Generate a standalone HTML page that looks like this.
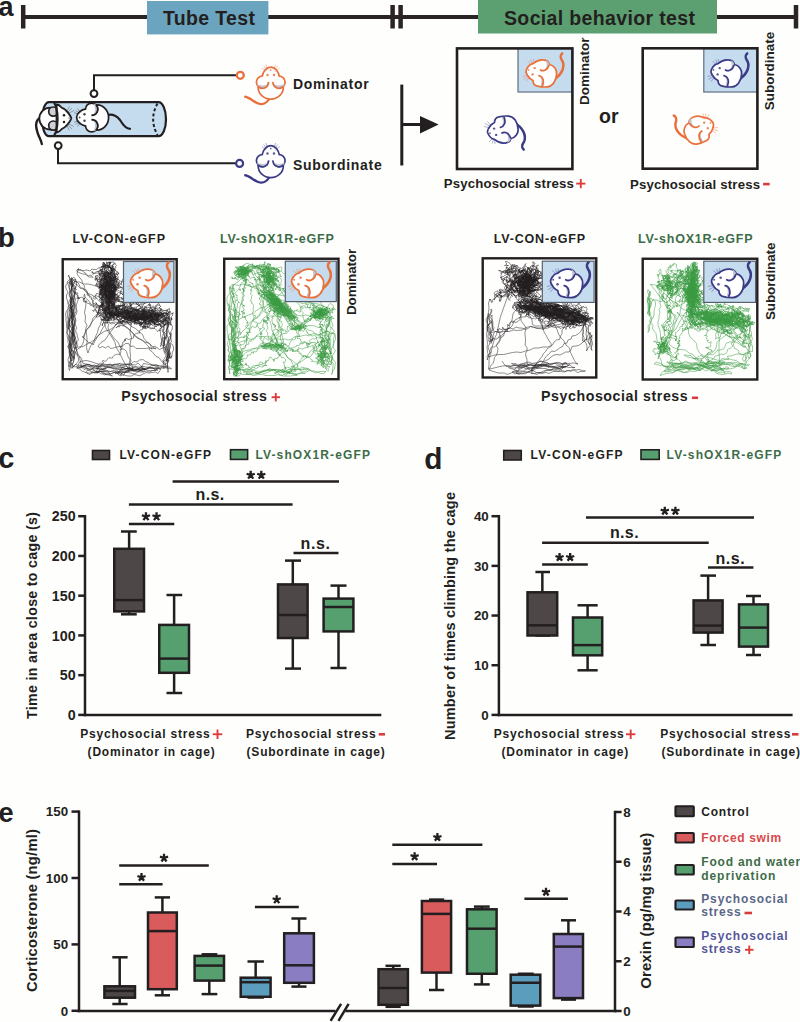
<!DOCTYPE html>
<html><head><meta charset="utf-8"><style>
html,body{margin:0;padding:0;background:#fefefd;}
svg{display:block;}
text{font-family:"Liberation Sans",sans-serif;}
</style></head><body>
<svg width="800" height="1022" viewBox="0 0 800 1022">
<rect x="0" y="0" width="800" height="1022" fill="#fefefd"/>

<defs>
<g id="mtop">
  <ellipse cx="0" cy="0" rx="12.6" ry="11.6" fill="#fff" stroke="currentColor" stroke-width="1.7"/>
  <circle cx="-8.25" cy="-5.4" r="6.1" fill="#fff" stroke="currentColor" stroke-width="1.7"/>
  <circle cx="8.25" cy="-5.4" r="6.1" fill="#fff" stroke="currentColor" stroke-width="1.7"/>
  <path d="M-2.6,-3.2 A6,6 0 0 1 -14,-3.4 Q-8.3,-0.8 -2.6,-3.2Z" fill="#c3c6d2"/>
  <path d="M2.6,-3.2 A6,6 0 0 0 14,-3.4 Q8.3,-0.8 2.6,-3.2Z" fill="#c3c6d2"/>
  <path d="M-8.4,-10.8 C-8,-15.5 -4.5,-20.4 0,-20.4 C4.5,-20.4 8,-15.5 8.4,-10.8 L3,-5 L2.5,3 L-2.5,3 L-3,-5Z" fill="#fff"/>
  <path d="M-8.6,-10.9 C-7.8,-15.8 -4.5,-20.4 0,-20.4 C4.5,-20.4 7.8,-15.8 8.6,-10.9" fill="none" stroke="currentColor" stroke-width="1.7"/>
  <path d="M-2.15,-5.6 A6.1,6.1 0 0 1 -12.6,-1.1 M2.15,-5.6 A6.1,6.1 0 0 0 12.6,-1.1" fill="none" stroke="currentColor" stroke-width="1.7"/>
  <circle cx="-3.25" cy="-12.5" r="1.2" fill="currentColor" opacity="0.85"/>
  <circle cx="3.25" cy="-12.5" r="1.2" fill="currentColor" opacity="0.85"/>
  <circle cx="0" cy="-17.4" r="0.9" fill="currentColor" opacity="0.8"/>
  <path d="M-4,-17 L-7,-21.5 M-4.6,-16 L-9,-19.5 M-3.4,-18 L-4.8,-23 M4,-17 L7,-21.5 M4.6,-16 L9,-19.5 M3.4,-18 L4.8,-23" stroke="currentColor" stroke-width="0.55" opacity="0.7"/>
</g>
<g id="mcurl">
  <path d="M10.5,3.5 C18,-2 20.5,-10 16.5,-15.5 C15,-18 15.8,-20.5 17.2,-21.6" fill="none" stroke="currentColor" stroke-width="2.5" stroke-linecap="round"/>
  <path d="M-18.75,-5 C-17,-9 -15,-11 -12,-11.4 C-9,-14 -5,-15.5 -1.5,-15.1 C2,-14.8 4,-12.5 4.5,-10.5 C9,-10 12,-5 11.6,-1.25 C11.5,6 7,11.5 2.25,11.9 C-1,12.2 -4,12 -7.5,11.1 C-10.5,10.5 -12,8 -12,5.5 C-14,4.5 -16,3 -17,1 C-18.5,-1 -19.5,-3 -18.75,-5Z" fill="#fff" stroke="currentColor" stroke-width="1.7" stroke-linejoin="round"/>
  <path d="M0.5,-14.8 C3.5,-13.8 5,-11 3.9,-9.6 C3,-7.2 1.2,-5.4 -1,-4.6 C1.8,-7 2.6,-11 0.5,-14.8Z" fill="#c2c5d0"/>
  <path d="M-2.6,10.8 C-0.6,7 -1.2,2.5 -5.5,1 C-3,3.8 -3,7.5 -5,11.3Z" fill="#c2c5d0"/>
  <path d="M-4.5,-5 C-2.5,-3.6 2.2,-4.2 3.9,-9.6 M-6,0.6 C-2,1.5 -0.4,6 -2.4,10.6" fill="none" stroke="currentColor" stroke-width="1.7" stroke-linecap="round"/>
  <circle cx="-10.35" cy="-6.9" r="1.2" fill="currentColor" opacity="0.85"/>
  <circle cx="-12.4" cy="-0.6" r="1.2" fill="currentColor" opacity="0.85"/>
  <circle cx="-16.5" cy="-5.1" r="0.95" fill="currentColor" opacity="0.8"/>
  <path d="M-14.5,-11 L-17.5,-14 M-13.2,-11.8 L-14.2,-15.5 M-12,-12.3 L-11.5,-16 M-18,0.5 L-22.5,1.5 M-17.2,2 L-21.5,4.5 M-16.2,3 L-19,6.5" stroke="currentColor" stroke-width="0.55" opacity="0.7"/>
</g>
</defs>

<text x="-1.50" y="16.00" font-size="27" fill="#231f20" text-anchor="start" font-weight="bold" >a</text>
<line x1="23.00" y1="17.00" x2="796.00" y2="17.00" stroke="#2b2425" stroke-width="4" />
<line x1="23.20" y1="5.00" x2="23.20" y2="28.50" stroke="#2b2425" stroke-width="4.5" />
<line x1="392.60" y1="5.00" x2="392.60" y2="28.50" stroke="#2b2425" stroke-width="4.5" />
<line x1="400.60" y1="5.00" x2="400.60" y2="28.50" stroke="#2b2425" stroke-width="4.5" />
<line x1="796.00" y1="5.00" x2="796.00" y2="28.50" stroke="#2b2425" stroke-width="4.5" />
<rect x="147.00" y="1.00" width="121.40" height="33.40" fill="#6ba4be" stroke="none" stroke-width="0" />
<text x="163.00" y="25.20" font-size="19.5" fill="#231f20" text-anchor="start" font-weight="bold" textLength="92.00" lengthAdjust="spacing" >Tube Test</text>
<rect x="478.00" y="0.00" width="239.00" height="33.50" fill="#5c9f70" stroke="none" stroke-width="0" />
<text x="504.00" y="25.20" font-size="19.5" fill="#231f20" text-anchor="start" font-weight="bold" textLength="191.00" lengthAdjust="spacing" >Social behavior test</text>
<path d="M94,90 V75.2 H236.5" fill="none" stroke="#231f20" stroke-width="2"/>
<circle cx="94" cy="93.6" r="3.4" fill="#fff" stroke="#231f20" stroke-width="2"/>
<circle cx="240.3" cy="75.3" r="3.5" fill="#fff" stroke="#e9703a" stroke-width="2.2"/>
<path d="M58,149.2 V163.3 H235.8" fill="none" stroke="#231f20" stroke-width="2"/>
<circle cx="58.2" cy="145.6" r="3.4" fill="#fff" stroke="#231f20" stroke-width="2"/>
<circle cx="239.6" cy="163.4" r="3.5" fill="#fff" stroke="#3b3a86" stroke-width="2.2"/>
<path d="M49,102.2 H158.5 A7.5,17 0 0 1 158.5,136.2 H49 A7,17 0 0 1 49,102.2Z" fill="#c5dcef" stroke="#231f20" stroke-width="2.2"/>
<path d="M157.5,103.5 Q148.8,119.2 157.5,135" fill="none" stroke="#231f20" stroke-width="2" stroke-dasharray="3,2.3"/>
<path d="M41,117 C34,121 36,128 38,134 C39.5,138 41.5,141 41.8,144" fill="none" stroke="#231f20" stroke-width="2.4" stroke-linecap="round"/>
<path d="M107,115 C112,114 117,116 120,120 C123,125 126,128.8 130,128.8" fill="none" stroke="#231f20" stroke-width="2.2" stroke-linecap="round"/>
<circle cx="50.3" cy="118.6" r="11" fill="#fff" stroke="#231f20" stroke-width="1.8"/>
<circle cx="53.3" cy="111.6" r="4.6" fill="#cfd1d6" stroke="#231f20" stroke-width="1.7"/>
<circle cx="53.3" cy="125.6" r="4.6" fill="#cfd1d6" stroke="#231f20" stroke-width="1.7"/>
<path d="M56.5,104.5 C58,104.5 60,105.5 61.5,107.5 C63,108.5 64.5,108.8 65.5,110 C68,112.5 70.5,115.5 71.3,118.2 C70.5,121 68,124 65.5,126.5 C64.5,127.8 63,128.2 61.5,129.2 C60,131.2 58,132.2 56.5,132.5 Z" fill="#fff" stroke="#231f20" stroke-width="1.8" stroke-linejoin="round"/>
<path d="M68.5,117 L71,118.2 L68.5,119.6Z" fill="#9a9ea6"/>
<circle cx="64" cy="115.2" r="1.25" fill="#231f20"/><circle cx="64" cy="121.9" r="1.25" fill="#231f20"/>
<path d="M68,112 L72,108 M69,113 L74,110.5 M67,111 L69.5,106.5 M68,125 L72,129 M69,124 L74,126.5 M67,126 L69.5,130.5" stroke="#231f20" stroke-width="0.55" opacity="0.6"/>
<path d="M53.5,103.2 A4,15.9 0 0 1 53.5,135" fill="none" stroke="#231f20" stroke-width="2.3"/>
<use href="#mtop" transform="translate(97.00,117.50) rotate(-90) scale(1.000,1.000)" style="color:#231f20"/>
<path d="M270,98 C267,103 262,105.5 257,103 C253,101 249,97.5 245.3,96.8" fill="none" stroke="#e9703a" stroke-width="2.4" stroke-linecap="round"/>
<use href="#mtop" transform="translate(270.75,87.50) rotate(0) scale(1.000,1.000)" style="color:#e9703a"/>
<path d="M270,176.5 C267,181.5 262,184 257,181.5 C253,179.5 249,176 245.3,175.3" fill="none" stroke="#3b3a86" stroke-width="2.4" stroke-linecap="round"/>
<use href="#mtop" transform="translate(270.75,166.00) rotate(0) scale(1.000,1.000)" style="color:#3b3a86"/>
<text x="293.00" y="89.30" font-size="14" fill="#231f20" text-anchor="start" font-weight="bold" textLength="75.60" lengthAdjust="spacing" >Dominator</text>
<text x="293.00" y="169.90" font-size="14" fill="#231f20" text-anchor="start" font-weight="bold" textLength="88.70" lengthAdjust="spacing" >Subordinate</text>
<line x1="401.80" y1="84.60" x2="401.80" y2="165.50" stroke="#231f20" stroke-width="3" />
<line x1="401.80" y1="124.50" x2="422.00" y2="124.50" stroke="#231f20" stroke-width="3" />
<path d="M420,116 L438.6,124.5 L420,133.5Z" fill="#231f20"/>
<rect x="518.00" y="48.40" width="54.40" height="43.60" fill="#c5dcef" stroke="#5f6f80" stroke-width="1.2" />
<use href="#mcurl" transform="translate(545.00,75.00) rotate(0) scale(1.000,1.000)" style="color:#e9703a"/>
<rect x="457.00" y="48.40" width="115.40" height="120.60" fill="none" stroke="#231f20" stroke-width="2.6" />
<text transform="translate(588.50,105.00) rotate(-90)" x="0" y="0" font-size="13.5" fill="#231f20" font-weight="bold" textLength="67.50" lengthAdjust="spacing">Dominator</text>
<use href="#mcurl" transform="translate(506.50,128.00) rotate(0) scale(1.000,-1.000)" style="color:#3b3a86"/>
<text x="443.80" y="188.40" font-size="13.2" fill="#231f20" text-anchor="start" font-weight="bold" textLength="130.00" lengthAdjust="spacing" >Psychosocial stress</text>
<line x1="576.20" y1="183.60" x2="585.40" y2="183.60" stroke="#de3c3c" stroke-width="1.9" />
<line x1="580.80" y1="179.00" x2="580.80" y2="188.20" stroke="#de3c3c" stroke-width="1.9" />
<text x="599.00" y="123.00" font-size="19.5" fill="#231f20" text-anchor="start" font-weight="bold" >or</text>
<rect x="703.80" y="48.30" width="53.60" height="43.70" fill="#c5dcef" stroke="#5f6f80" stroke-width="1.2" />
<use href="#mcurl" transform="translate(730.00,75.00) rotate(0) scale(1.000,1.000)" style="color:#3b3a86"/>
<rect x="642.70" y="48.30" width="114.70" height="120.40" fill="none" stroke="#231f20" stroke-width="2.6" />
<text transform="translate(773.50,110.20) rotate(-90)" x="0" y="0" font-size="13.5" fill="#231f20" font-weight="bold" textLength="78.40" lengthAdjust="spacing">Subordinate</text>
<use href="#mcurl" transform="translate(696.00,132.00) rotate(-15) scale(-1.000,1.000)" style="color:#e9703a"/>
<text x="630.00" y="188.50" font-size="13.2" fill="#231f20" text-anchor="start" font-weight="bold" textLength="130.00" lengthAdjust="spacing" >Psychosocial stress</text>
<line x1="763.10" y1="184.10" x2="769.70" y2="184.10" stroke="#d93c3c" stroke-width="2.6" />
<text x="-2.00" y="247.00" font-size="27.4" fill="#231f20" text-anchor="start" font-weight="bold" >b</text>
<text x="72.50" y="243.30" font-size="12.5" fill="#231f20" text-anchor="start" font-weight="bold" textLength="92.50" lengthAdjust="spacing" >LV-CON-eGFP</text>
<text x="220.00" y="243.30" font-size="12.5" fill="#3d6c48" text-anchor="start" font-weight="bold" textLength="113.75" lengthAdjust="spacing" >LV-shOX1R-eGFP</text>
<text x="493.75" y="243.30" font-size="12.5" fill="#231f20" text-anchor="start" font-weight="bold" textLength="91.25" lengthAdjust="spacing" >LV-CON-eGFP</text>
<text x="638.00" y="243.30" font-size="12.5" fill="#3d6c48" text-anchor="start" font-weight="bold" textLength="114.50" lengthAdjust="spacing" >LV-shOX1R-eGFP</text>
<path transform="scale(0.5)" d="M266 737l-6 -1-6 2-7 1-6 0-7 0-6-2-6-1-6-1-7 2-6 1-5 4-6 1-6-3-6-2-6-1-6 2-5-5-6 0-4 0 6 4 5 4 2 1 6 2 6 1 7 0 6-2 6-1 6 0 7 0 6-1 7 1 6 1 5-3 5 4 6 3 6 3 5 1 7 0 5-3 6 1 6 2 0-1 6-3 6-3 6 1 6-1 7-1 5 3 4-6 2-6 6-3 5 4 6 1 4 1-4-4-6-1-6 1-6-1-6 3-6 0-7 0-6 1-6 1-6 3-6-1-7-2-6 0-6 1-6 2-5 4-7-1-6 2-5 1 5-3 6-3 6-3 6-1 6-1 7 1 0 1-1-6-4-6 1-6-5-4-2-6-2-7-4-4-6-2-4-5-2-6-4-5-5-4-3-5-4-6-3-5-2-6 1-6-3-6-4-5-5-4-2-6-2-6-2-6-7-1-4-4-2-7-2-5-5-5-2-6-4-5-5-4 1-7-4-5-1-6-4-5-4-5-2-5 2-6 1-3-4 4 1 2 6 3 6 2 6 1 5 5 6 0 3 1-4-5-6 2-4-5-5-3-5-5-6 0-1 1 6 1 6 0 7-1 6 2 4-4 2 1 7 0 5-4 6-1 6-3 6 0 7 1 3 0 1 6 5 4 5 4-1 3-6-2-2-5-2-6-6-1-6-3-2-2-6 3-2 6-6 3-6 2-5 3-1 2-1-6-2 1 6 3 6-1 6 1 7 0 6 2 5-5 5-3 6 1 2-2-6-2-6-2-4-5-6-2-3-3-1 6-4 2 3-1 2-1 3 2 2 1 3-2 2 2 0-3 2 3 2 1 1 3 1 2 2-2 6 1-2 2-2 2 1 3 0 3 3 0-1 3-1 3-2 2-2-2 2-2 1 3 0-3-1 3-3 0-3-2 0 3 1 3 3 0-3-1 1 3-2 1-3 1-2-2-3 0-1 2 2 3 2 2-2 2 2 3 3 1 0-3-2-2-3 0-3 1 3-1-2 2-3 2 1 3-1 2 3 2-1-3-2 2 1 2-1 3 0 3-1 5-1-3 3-1 0-3 1 3 1-2 3 2-1-3 0-3-3 0 0-3 3-4 0 3 2-3-3-1 2-3-3-1 3 1-2-2 1-3 3-1-1-3-1-3 2-2 3-1 3 0-1-3 2 2 3 1 2 3 2 2 2 2 2 3-2 2-3 1 1 3-3 1 2 3-1 3-2 1 0 3 2 3 0 3-2 1 2 2-1 3 1 3-1 3-1 3-2 2 2 2-2 0 2 1 3 1-1 3 3 1 1 3-3-1 3-1-3 2 3 1-2 3-1 2 0 3 2 2 3 2 1-3 0-3 2-2-1-3-1-3-3-1-3 0-1-3-2 1-3 0-3-1-3 0-2-3-2 2 3 0 0-3 2-2-3-1-3 2-1-2-3-2 0-3 1-3 2-1-1-2-1-3 3-1-3-2-1-3 2-2-3 1-3-1 2-2 3 1 0-3 1-3 1-3-1-3 2-2 1-2-1 2 2-2-3 1-1-2 1-3 3-1 0-3-2-2-3-1-2-3 2-3-3-1-1-3-3 0-3 1-1 3 3-1-3 0 0-3 1-3 1-3-2-1 3 0-2-3 2-2 3-2 1-3 2-2-1-4 2 3 1 3 0 3 2 2-3 2-1 3 2 1-1 3-1 3-2 2 1 3 1 3-1 2-3 2 3 2-2 2-3 2 2 1-3 1-2 2 1 2 0 3-2 2 2-2-3-1 3 0 2 2 2 2 3 2 2 2 0 3 2 2-3 0-2 2-3 1-3-1-1 3 0 3 3 0 2 2 2 2 0 3 1 3-1 3 1 3 3 0-3 0-2 2-3 1 3 1 0 3 3 1 5 0 2-2 3-1 1-3 1-2-2-1 0-3 1-3 2-2-2-2 3-1 1-3 2-2 0-3 3-1-3 1 1-3 0-3 0-3 0-3 2-1-1-6 2 3-3 1-2 2 0 3 2 1-2 2 2 1 0 3-3 0-1 3-3-1-1 3-1-2 0 3 2 1-1 3 1 3-3 0-1 3-3-2 0 3-3 3 1-3 3 1-1-3 1-3 0-3 2-2-2-2-1-2-1-3 1-3 1-3 0-3 3 0-2-1-1-3 0-3 1 2 3-1 2 2 1-2 2 2 3-2 1-3 3-1-3 2 3 1 2 2 0-3 3 0 3-1 0-3 2-2 2-2-3-1-1-2-3-1-3-3 0-3-3 1-2 1-3 0 2-1 0-3-2-2-1-4 3 1-1 3 1 3-3 0-2 2 2 3 2 1 3 2-1 3 1 3-1 3-2 1-3 0 0 3 1 3 0 2 1 3 2 2-3 0-2 2-2 2-3 5 3-1 0-3-2 2 2-2 0-6 1 3 2 2-2 2 2 2 1 3-3 1 3 0 3-2-2 2-3 2 3-1 3 0-2 2 2 3-2 2-2 1-3 1 3 0 3 5-2 3 1-3 2-2-3 0-2-1-3-2 3-2-3 1 1-3 0-3-3 0-1-3-1-3-3-1 3 2-3 0-3-2-3 0 2-2-2-3 1 3 2-2 3 1-2-1 1 3-1-3 3-1-1-5-2-2-3-1 2 2-3-1-2-2 0-3 3 0-2-2-2-3-1-2-1-3-1-3-2-2-3 0 1-3-3 1-1-3 3-1 2-2 3-1-1-3-3-3 3 0 3-1 0-3 3 0 3-2 2-2 3-1 3 0-1-3 0-3 2-3 6-1-1 3-2 2-1 3-1 3 0 3 0 3-2 2 2 2 0 3 2 2-3 1 0 3 1 2-2 2-3 2 2 3-3-1-3 1-1 3-1 4 3 0 4 1 0-3 0-3 0-3 1-3-3-1 2-3 3-1 0-2 2-3 0-3 3 2-3-1 0-3 2-3-3-1-3-1 0-3 3 0-2-3 1-3 3 0 0-6 2 3-3-1-3-1-3-1 3 2-3 1-1 3-1 3 2 2-1 2-3 2 3 1 2 2 3 1-2 3 3-1-3 1 3 0-3-1-3 0 2 3-3 0 1 3-2 1 2 2 3-1-3-1 2 2 3 0-2-1-3 0 1 3-2 2-3 0-3 1-3-1 2 3 0 3 3-3-3-1-2 2-2 1 2-1-1 2 3 1 1 3-2 2 1 3 5 1 0 5 3 1-3 1-3 1 3 2 2 1-3 1-1 3 0 3-2 2-1 3 2 3-1 2-2 3 3 0 3 1-3 2 3 0-3 0-1 3 3-1 2 3-2 2 3 5 3 1 1-3-2-1 3-1 1-3-2 3 1-3 3-1-1-3-3-2 3-1 3 0-1-3 1-3 0-3-2-5 3 1 3-2 0 3 2 2 3-2-2 3 1 2 3 1 0 3-3 2 1 5 2-2-3 0 1-3-1-3-3 1-3 1 0-3-1 3 0-3-3 0 2-3 1-3-1-2 1-3-1-3 2-2-3 0 1-3-2-2 1-2 3-1 2-2 2-2 3-1 0-3 2-3 2-2 0-3-1-2-3-2 1 2 1-2-2 1 1-3-3 0 3 0 1-3-2-3 0-3 0-2-2-2-3 0 3-2-3-1-1-3-3 1-2-3 2 2 1-3 0 3-3-2 0-3 2-3 0-4 0 3 0 3-1 3 2 2 0 3 3 2 3 3-2 2-3 1-2-2 2 2-3 2-3-1 1-3-2-2-1 2-3 0 1 2-3-1-1 3-1 3 1 3 1-3 1-3-1 3 2 2-2 2 2 1 1 3 2 2 3 1 1 3-1-2-3 1-2 2-3 0-2 3 3 2-3 0-3 0-3 2 2 2 3-1-3 2 3 1 1 3 2-2 3 0 3 0-1 3-2 3 2 4-3 0-3 1 2 2-1-3-1 3-1 3-1 3-2-3-1-2-1-3-3 0-3-2-3 0-1 3-3 2-2 3 1 3 3 0 2-2-2-2 0-3 3 1 2 1 3 1 1 3-2-3 0-3 2-2 2-3-1 3-3-1 3 1 2-3-2-2 3 0 3 1 2 1 2-2 0-3 3-1-2 3 3 0 2-3 6-1 2-2-2-2 3 1 3 2-3-1 1-3 2 2 1-3 2 3 3-1-1-3 3 1 2-1-2 1-2-2 3 1-3-2 3 1-1-3 2-3-3-1-3 0-1-3 2-2 3-1-2-1-2-5-2 2-3-1-3 0 3 1 1 3 1 3-3-1-2 2-1 3 3 2-2 2 2 3-1 3 1 3 1 2 1 3-3 1 0 3-3 1-3 0-3 1 0 2 2-2-2 3-3-1 2 2 1 3 3 1-3-1 0 3 1 3 3 1 3 1 2 3-2 2-4 0-3 0 1 3 2 2-3-1-2 2 1 3 3-2-3 2 3 0-2-2 0 3 2 1-2 1-3 0-3 1-2 2 2 3-3 0 3 1 1 2 2 3-3 0 3 1 1 3-1-3 2 2 0 3 2 2 0 3 2 3 8-2 9 1 9-2 9-1 9-3 8-4 2-5-9-3-8-1-9-3-1-1 8-4 9-2 9-2 8-4 8-3 9-3 5-7 6-7 7-5 8-5 8-4 7-5 1 0-8 4-7 6-7 5-8 5-7 6-8 2-6 7-5 8-7 4-7 7-6 6-7 6-8 3-9 4-7 5-6 6-8 5-9 2-8 5-7 5-5 7-8 5-8 4-8 5-9 1-9 1 2 3 0-8-1-9-2-9-1-9 1-9-2-9 1-9-2-9 3 0 1-9 1-9-3-8-2-9-1-9 0-9-2-9 2-8 0-2-1 6 3 6 1 6 2 6 1 7-1 6 3 6-1 6 1 6 1 6 0 7-3 6 1 6 2 6-2 6-1 6-1 6 2 7-3 5-4 5 5 4-1 6-4 5-1 6-4-5 3-6 4-4 0-7 0-6-4-5 2-6 3-5 3-2 1-6 1-6-2-6 4-5 1-6-2-7 1-6 2-6 2-6-1-6-6-4-3-6 4-5-5-5 2-6 3-6-4 0-3 6 0 6 0 7-4 5-1 6 3 6 2 6-1 6-1 6 3 6 3 6 0 6-2 7-2 6 2 6 1 6-2 6-1 6-3 6 2 6 3 6 0 6 3 6-1 6 1 7 0 6-2 6-2 6 0 7-1 1 4-5 5-5 4-5 0-6-3-6 1-6-3-6-1-6 3-5-2-7-2-5-3-6-3-6 1-6 1-7 0-6 0-6-3-6 1-6-2-6-4-6-2-6-1-6-2-6 0-6 3-6-3-5-2-6 2-5 5-4 4-2-4 4 2 2 3-2-3 2 3 1 3 2 1-3-3 2 1 3 3-2 3 1-1 3-1 3 2-3-1 3 3 1-2 2 0 3 1 3-2-3 3 2 3 0-2 3 2 2-2 1 1 2-1 3 2-2 0 3 0-3 3 0-1 3 2-2 2-2 3 1 2 3 2-1-2 2 2-3-1 3-2 3 2 2 3-1 1-2-1 3 3-1-1 2 3 2 3 0 1 3 2 1 3-2 2 3 1 2-1-2 3-2 2-2 2-2-2 2-1 3 2 1 3 1 3 2 0 3 3 1 3-1 2 0 2 2 2 2-3-1 2 2 0-3 1 3 3-1 1-3 1-3 3 1 0 3 3 0 3 0 2 2 5-3 3 1-2 2 2-2-3-2 0-3-1 3 2-2 0-3-1-3-1 3-3-2-2 3-2-2-4-1-2-2-2-3 2-3 1-3 1-2-2-2 3 0 0-3-3-1-2-2 2-2 0-4-2-2-2-2-2-2-2 2-1-3-2 2 2 2 0-3 2-2-2-3 2-2-3-1 0-3 0-3-2-2-2-3-1-3 2-2-2-2 2 2 2-3 3-3 2 3-1 2 1 3-4 3 3-1 3 0-1 3 3 0 0 3 2 2 2-2 2-2-3 1 2 2-3 0-3 2 2 3 3 1 2-1-2 2 2 3 1 3-2 2 2 2 3 1 0 3-2 3 1-3-2 2 1 3 1 3-3 0-2 3 3 2-3-2 2 2-2 2 1 3-3 1-2 2-3 1 3 1-2 3-3-1 2 2-1 3 2 0 2 3-2 3-3 1-2 1 3 2-1 5 3 1-3-1-1-3 1-3 2-2-1-2-2-3 0-3-2-2 2-2 2-2 2-3-3-1 0-3 1-3 1-3 1-2-3-1 3-1 0-3 3 0 3 0 3-1 0-3 3-1 0-3-3-1-1-2 1-3 3 0 1-3-2-2 1-3 2-2 0-3 3 1-2 2-3 0 3 1 1-3 3-1-3-2-2-2-2-2 3-1-1-3 2-2-1-3-4-1 3 1-3 0-1 3-2 1-3 2 2 2 1 3-3 0 3 1 3 0-2 3 2-2 3 0-2 1 3 1-3-2-1 3-1 3-4 4 1 3 3 1 2 2 1-3 2 3 2 2-1 3-2 2 2 3 2 2-2 2-3 1-2 2-1 3-4-3 3 0 2-2 3-2-3-5-3 0-4-2-3 1-2 2 3-1-2 3 0 3-3 1-1 2 3 2 1 2 2-2-1 2 2-1 1 3-3 0 3 1-3 1-1 3-3 0 3 0 0 3 3 0-3 0 0 3 3 0 3-1-3 0-1 3 2 2-3 2 2 2 3 1-2-2 1 2-3 1-2 2 1 2 3 0 3-1-2 2 3 2-1 3-2 5 3-2-2-2-3-2 1-3 1-2 0-3-2-3 2-1-1-3 2-2-2-2-2-3-3 0 1-3 1 3 3-2-1-3-2 2 2-2 1-3 3 0-3-1 0-3 1-3 1-3 0-3-2-3 1-3 1-3-3-1-4-1-2-1-5 0 2-1 3-1 0-3 3-1 3-2 0-3-2 2 3-1 2-2 2 1 2-2 0-3-2-3 3 0-3-1 0-3-3-3 3 1 0 2-3 3 3 0-2 2-3 0 0 3 3 1-1 3-3 1-2 2 3 1 1 3-1-2 2 1-1-3 3 1 3 0-3 1 2 2 3-2-3 1 2 2-1 3-2 2 0 3 2 3 1 2 1 3 0 3-2 2 2 2-2 1 0 3 0 3-2 3 0 3 1 2 3-2-1 3 3 2-3 2-1 3 3 1-2 2 0 3-1 2-1 3 0 3 3 0 1 3 1 3-1 4 3-1-1-3-2-3-2-1-3-2-3-1 0-3-2-2 1-3-1-4-2-1 3-2-2-2-2-2-1-3 0-3-1-3-1-3-2-1 2-2 2-2-2-2 0-3 1-3 3 0-3-1 3-1 2-2-3-1 0-3 0-3-1-3 2-1 0-3-3 0 1 3 2-3-2 3-2-3-2-2 2-3 0-3-2-4 0 3 0 3-1 3-2 2-2 3 3 1-4 5 0 3 1 3-3 1 2 3-1 3 1-3 2-2 2 3 2-3 1 3 2 2 1 3 1 3 1 3-3 0 2 2 0 3 1-3 3-1 1-2 2-2-1 3 1 2-1 3 2 2-3 2 0 5 2-1 3-3-2 3-2-1 0-3-1-3 3 0 1-3 2-2 1-3-2-2-2-2-1-3 2-1 1-3 3 0 0 3 2-2-1-3-1-3 1-2 1-3 3 0-3-1-1-2 0-3-2-3 0-3-3 1-3 1 0-3-1-3 2-2-1-3 1-3 0-3 1-3-2-2 0-3 3 1-2-2 3-1 3 0-2-2 2-3-3 0 0-3 3 0 3-4 1 3 2 2-2 2 1 3-3 0 0 3-3-2-1-2-2 3 1 3 1 2 2 3 1 2 1 3-3-1-2 2 2 1-2 1 0 3-1 3 1 2-3 1-1 3-3 1 3 2-3-1 2 2 3 0-3 2 0 3-3 1 2 2 2-1 1 3 3 2-3 1-3 1-2 2 2 2-2 2-3 1 2 2 0 3 2 2 1 3 2 2-1 3 1 5-2-1 2-3-2-3-3 0-2-2 3 1-1-3 0-3 2-2 0-3 0-3 0-3 3-1 1-3 2-4-3 3 1 2-1 4 1 3 2 2 0 3-1 3-2 3 3 2 3-2 1 3 0 6-2-2-3-1 0-3-3 1-3 0 1-3-2-2 3 0 2-3 2-1 3-1-3-2-2 2-3 2 2-3-1-2-2 1 2-1-1-3 2-2-3 0-1-3-3-1-2-2-3-1 3 1 3-1 2-2 1-3 3 0 3 1 1-3 1-2-2 2 2-2 1-3-1-2-2-2-3 0-3 1 2-3-3 0-1-3-3 2-1-2 0-3-3-2 3 2 0-3-1-3-3-2 2-2-3 0-3-1 3-2-3 0 2-2 3-1 3 0-1-3 1-2-3 0 1-3 1-5-2-3-2 3 0 3 2 2 0 3-2 2-1 3 1 3-1 2-2 2 2 1 1 3-1 3-1 3 3 0 3 1 1 3 0 3-2 1 0 3-2 3-2 1 3 1 0 3-3 2 2 2 1 3-2 2-3 1-2-2-2 2 3-1 2 2 0 3 1 3 0 3-1 3 3 0 3 2 3-2-3 0-3-1-1-3 3 0 2-2 4-4-2 2-1 6-3 6-4 5-3 5-4 5 1 6-4 5-5 4-4 5-1 6-3 5-4 6-4 5-2 6-3 6 0 6-1 6-3 6-3 5-6 3-4 5-1 7-3 5-5 3-1 0-1-7-1-6 0-6-4-6 5-4 1-5 0-7 3-6 2-5 0 6 2 7-2 6-4 5-4 5 2 7 1 6 2 6-1 6-4 5 6 3-5 5 4 2 2-7 2-5 1-7-4-5-3-5 1-6-1-7 1-6 1-6-1-7 0-6 4-5-3-6 3-5-1-7-4-3 2-6 2-6 1-6-1-6-4-6 3-5-3-6 3-5 2 7 0 6-2 6 0 7 0 6-1 6 0 7 0 6-2 6-3 6 1 6-1 7-2 6 4 5 2 6-1 7 2 5-3 6-2 6-2 6 1 7 1 6-1 1 2-6 2-7-1-6 3-6 0-6 0-7-2-5-2-7 3-5 3-6-1-7 0-6 2-6-2-6 1-7 1-6 0-6-2-7-2-6 4-3-3 6-2 6-3 6-1 6 0 6 1 7-2 6 1 3-2-6 0-6 1-7-1-6 0-7 1-6 0-6 4-5 2-6 3-6 0-6-1-7-2-6 2-6 0-6 2-6-2-4 0 3 3 3 4 1-4 2 3 3 3 1 3 2 2 3 3 3 4-1 3 2 4 1 2 3 1 4-1 4 4 1 3 2 3 2-1 4 4 2-2 4 1 3 3-1 3-2 1 3 3 3 3 1-1 3 0-4 4 1 2-3 3 3 2 3 4-1 3 1 2-4 4 1 2-3 2 3 3 2 3 3 3 1 4 1-3 3 3-3 0 4 3 0 1 3-3 3 4 0 4 1 1-4 3 2 3-1 4 0 1 4 3 2 2 3 4 2 2-3 3 2 3-2 2 3 4 0 4 1 0 4 3 2 1 4 0-4 1 4 3 2 0 4 4-1 3 2 4 1 4 0 3 3 2 3 3-2 4 0-2-3 3-3-2-3-1-4-4 1-4-1-3 0 0-4-2-3 4 0-4 1-1-3-4 0-3-1 0-4 4-3-2 4-4-2-2 3-2 4-3 2-3 1-2 4-3 2-3 3 0-4-4 0-2-4-5 3 1-3 3-3 2-3-1-4 3 0 4-2 4-1 3-2 2 3 3 1 4 0 3 3 3-1 4 1 4-1 3 1 3-2 1-4 2-2-4 1-4 0-4-1 0-4-3-2-3-1-3-2-3 2-3 3-2-3-3 2-3 1-2 3-4 2-1-4-4-2-3-1-4 1-3 2-3 2 1-4-3-2-4-2-3 2-4 1-3-2 3 3-3 2-3 3-3 2-3 2-3 3 3-2 3-3-1 4-2-4-1-3-5-1 4-1 3 2 0 4-1 4 1-4 3-3 3 2 2-3 2 3 3 2 4 1-2-4 4 1 4 1 0 4 0 3 4 2-4-3 4 0 4 0 2 4 4 0 3 1 2-4 4 1 3-1 4-2 3-1 1 4 4 0 4-1 2-4-4 2-3 1-4 1-4-1-3-2-3-2-4-1-4 0-1-4-3-2-1-4-4-1-2 3-4 1-3-2-3 1-3 3-3-1-1 4 1-4-4 2 1-3-4-2-2 3-3-1 0-3-4 0 3 2-3-2-4 1 0 4-4 0-3 2-3-3 4 0 2-3 3-2 4 1 4-1 2 3-2 3 3-2 3-2 1 4 4-2-2-4 2-3 4-1 0 4 4 0 4 0-2 3 3 3 4 0 3-2 4-1 0 3 3-2 4-1-1-4 4 0 0 3-3-1-1-4 4-1 3 0 1 3 4-1 1 3 1-4 4-4-4-1 1 4-3 2-2 3 3 3-1 3-2 4-6 2 2-4-3 3-4 0-3-1 2-3-3-2-3-2-3 2-4-2-2 3-2-3-2-3-1-4-2-3-2-3 1-4-3-2-2-3-4-1-3-1-5 1 4 1 2-3 3-3 4 1 3 0 4-2 2 4 0-4 3 3 4 1 3 2 1 4 4-2 3 0 0 4 4 2 3 2 1 4 4 0 3 2 3-3 4 0 4 0 3 2 1 4 4 0 3 2 1 4 4-1-3 2 3 1 1 5 3-2 4-2 0-5-4 0-2 3 1 4-1 4-4-1-2 3-4-1-1 3-3 2-3-1-3 2 3 3 1 4-2 2-3 3-5 3 0-3-4 1-2-3 3-2-3 2-3-3-3-2 1-3-2-4-4 1-3-3 0-3-2-3-3-2-2-4 1-3-6-1-3-2-4 1-3 2-2 3-4 1-3 3-4-1-3 3 1-4-3 2-4 1-3-3 1-5-2 4-4-1-3 2-4 1-3 2 1 4-3 3-3 0-3-1 3 2 3 2-1-4 3 3 2-4-1 4 4 0 3 0 3-2 2-3 4-1 1-3 4-2 3-2 2 4 1 3 3-3 3 2 4-2 3 1 2 3 4 0 2-3 2-3 4-2 4 1 2-3 3 2 3-2 2 3 3 1 3-3 1-3 3 1 2-3 4 1-1 6-2-4-4 0-2 3-2 2-4 1-4-1-3 2-1-3-4 2-3 0-4 0-3-3-1-3-1-4-3-2-4 0-4 0-3 0-4 0-3-2-4 1-3-2-3 0-4 2-3-1-4 0-4-1-2-3-4-1-4 0-3-2-3-1 2 3-3 2 0 3-3 3-4 1 3 2 3-3 3 2 0 4 4 0 3 1 3-1 4-1 2 3 4-1 4 0 2-3 4 1 1-3 0 3 3-2 3-1 2-4-1 4 2 3 3 2 4 1 2 4 2-4 1-3 3 1 4 1 3-2 3 0 3-3 3 3 2 2 4 2 1-4-1 4 4-2 4 1 1 3 2-3 3-1 2-3-2-4 1 4 1 4 4-2 3 0 4 2 3 1 4 2-4-1-4 0 2 3-1 3 4-1 4 0 3-1-1-4 4-1 4 0 3 0 3 3 1 4 3-3 5 2 1 3 3 2 0 4-4 1 0 4-3 2-2 4-2-4-3 3 1-4-4 0-1-3-3 2-4 1-3-2-1-4-4 0-3-2-4 2-2-3-2 3-3 3-2-3-2 3-3-2-1-4-4-1-4 1-3-2-3-2-4-1-4 1-2 3-2-3-3 2-2-3-3-2-2 3-2 4-3-3-3 2-3-3-4 1-3 2-3 1-4 0-3 0 1-3-1-4 2 3 1-3 1-4 4-1 4 0 2-3 2-4 2-2 4-2 3 0 4 1-1-4 4 0 1 4 2 3 3 0-4-1-3-1-4 0-2 3-3 0-4 1 2 4 0 3-4 1-2-4-3-1-4 0 1 6-4 1 2 4-4 2-3 1 0 4-3 1-4-1-3 3 0 4-1-4 3-2 1-4 0-4 3-1 1-4 2-3 1-4 3-2-4 1-3-2 4-1 2-3-1-3 2-3 2 3 1-3 2 3 4 1 3 1 4 1 2 3 1 3 2 3 3-1 3-3 3 3 3-1 4 1 1 3 2 3 3 3 4-1 2-3 4-1 3-2-1 3 3-3 3 1 3 3 3-1 4 1 3-1 4 0 4 1 3 1 3 2 3-3 3-1 2 3 2 3-3 2 4 0 2 3 4-2 2-3 1 3 3 3 3-3 3 3 4 0 2 4 1 3-1-4-2-3-3 2-3 2-3 3-4-2-1-4-3-1 0-4-4 2-2-3-2-3-2 3-4-1-3-1-1-3-4-1 0-4-4-1-2 3-1 3-2 3-3 3 0 4-1-3-2-4-3 0-4 2-2-4-3 2-3-3 1-4-4 2-1-3-1 3 1-4-2-3-2-4-4 1-3-3 1 4-3-2-4-1-4 1-4 0 2-3 3-2 3 3 1 4 1 3 2 3 1 4 0-4 3-2 2 4 3-2 2 3 4-1 4-1 1 4 3 1 3-1 5 1-3-2-1 4-2-4 0 4-3-2-3-3-2-3-4 2-3 0-4-1-3-3 1-3-4 1-5-1-3 1 2-3-3 3 1 4-4 2-1 3-2-2-4-2-4 0-3 2 3-2-3 1-3 2-3-3-2-3-3-3-2-3-2-3-3 2-5 1 4 0 3 2 4 2 3 1 4 2 1 3 3-3 3-1 4-1 4 0 3 2 3 2 3 0 1 4 4 2 3-1 4 0-2-3 3-2 4-1 2 3 1 3 3-2 2 3 0-4 3 2 2 3 4-1 2 3 4 1-2-3 3-2 4 1 3-1 4 0 3 3 3 1-1 4 1-4 4 1 3-2 3 2 2-4 3-2 4 0 3 3 2 3 4-3-4-1 0-4-1-3 1 3-4 0-4-1-2 3-5-1-2-3-3 1-4-1-3-3-3-2-4 2-4 0-1-3-3-3 2 3-4 1-2-3-1 3-4-1-3 2-3-2 3-2 0-4-3 3-3-3-3-2-3 3-3-1-4 0 0-4-4-2-3-1-4 1-3 1-2 3-5-3-2 4 3-3 4-1 3-1-1-4 2-3 4 1 2-3 4 0 4 1 3 2 0 3 2 3-1 4 3 0-1 3 4-1 4 0 1 4 3 2 1 4 3 2 3-3 1 4 4 1 0 4 2 3 4-1 3 0 3-3 4 2 3-1 2 4 3-1 3 2 2 3 2 3 4 0 1-3 3 2 3 3 3-2 4-1 3 2-3 1-4 1-4-1-2-3-4 0-3-3-4 0-3-1-3-3-3-2-2-3-3-3-2-3-1 4-3 1 1 4-2 3-4 2-2-3-4 0 0-5 2 3 2-3 4-1 3-2 4 0 4 0-1-4-1-3 4 0 4-2 2-5-4 0-3 2-2 3-3-3-2 3-1 4-3-1-4-2-2 3-3 3-3-1-4 0-2 4-3-1-3 3-3 2-3 2-3 0-2-4-4 0-5-2 3-2 2-3 4-2 0-4 2-3 3 2 4-1 4 0 2-4-1 4 3 3 3 2 4 3 3-1-1 4 3-3 4 1 4 1 3 1 4 2 1-4-1-4 4 2-3 3 2-4 3 2 4 1 3-1 2 3 1 4-4 0-4 1-2-4-2-3-2-3-2-3-4-1-2 3-3 3-4-1-3-2 0 4-4-1-3-1-2-4-4 0-2 3-2 3-3-1-3-3-4 0-3 1-2 3-1 4 1 2 4 0 4-1 2 3 4-1 4 0 3 2 3-2 3 3 4-1-1-4 3 2 2 4 3 2 4-1 4 2 0-4 3 3 3 2 3 1 2 3 2-3 3-2 4 1 3 1 2-3 3-2 3 3 3-1-4 0-3 2-4 0-2-3-3-3-3 2-3 2-3-3-1-3-4-1-4 0-3 2-4 1-4 0-4 0-3 2-4-1 0-4 1 4-3 3-4-3-3-2-2-3-2 3-1-3-4 0-4 1-4 1-3-2 0 4 1-4-4 1-1 4-3-3-2-3 1-3-3 1-3-2-3 3 2-4-4 1-2-3 0 4-3 3-3-1-1-4-5 0-1 4-3 2 1 4-2 4 2-4 1-3 3-3 4 1 3 3 3-2 3-2 1-4 3 3 3-1-1-3 3 2 2-4 3-2 3 3 3 2 4 1 3 2 3-3 3-1 1-4 3 2 3 3 2 3 4-2 3 1 3-3 3 3 3-1 4 0 4 0 4 2 3 0 1-4 2-3 3 1 2 3-3 3 2-3 3 2 4 0 4 0 1 4-1-4-2 3-3-1-1 4-3 2-3 2-3-1-4 2 4 2 0 4-3 4-2-3-2-3 0-4-3 2 0-4-4 0-4 0-2 3-2-3-3-3-2-2-4-1-4-1-3 0 0-4-3-2-3 3-2-3-3 2 0-4 0-4 0 4-3 0-5 0 0-4 2-3-4-1-3 2-3 1-3-3 2-3-3-2-3 1-2 3-4 1-2 3-3-1-4 1 0 4-3-3-4 1-3 2 2-4-4 1-4 0-3 2-4-1 2 3 1 4 3-3 2-3 3 1 3 3 4 0 4 2 3-2 3-2 0 3 3 0 4-1 4 0 2-3 4 1-1 3 3 3 3 2 3-3 3 0 2-3 3-2 4-1 3 2 3-2 2 3 3 2 4-1 2 3 3-3 4 1 1 3 4 1 4 1-1 4 2-4 2-3-1-4 3-2 2 4 3 1 4-1 3 1 3 3 2-3 4-1 1-3 2 3 3 2 3-2 4 1 4-1-4 0-3-2-2 2-4 0-4 1-3 2-2-3-3 3-4 0-3 2-2 3 0-3 1-4-4 1-1-4 3 2-3-2-3-2-3 2-3-3-4 0-6 1 4-1 4 1 3-2 3-2 3 2 3-2 3 3 4 1 4 0 0-4 2 4 4 1-4 1-3 0 3 2-4 0-4 0 0 4-1 5-2-3-4 1-2 3-3 2-3 2-4-2-3 0-4 0-4-1-3 2-3-2-3-1-1-4-3 3-3-2-2 4-4 1-3-3-3-3 2-3 0-4-3-2-1-3-3-2-3-2-2-4-4 2-4-1-4 0-2-3-2 3-4 0-3-2-4 1-3-2-3-2-3 1 2 4 3 1 1 4-3 2 3 2 2 3-2 3-1 4 2 3 1 4 3 4 2 3 2-3 3 2 4 2 3-2 3 1 3 3 3-3 3 0 3-2 3-3 4 0 3 2 3-3 0 4 4 1 3-2 4-1 2 3 3-2 4 0 4 1 2 3 3 2 0-4 4 0 3 2 4-1 3-1 1 4 2-4 4 0 3-1 3 1 3-2 3-1 1 2-4 0-2 3-2-4-3-3-3-1-3 2-3 2-4 0-4-1-1-4-3-2-3-3-3-2-4 1-3-2-4 2-2-3-3 1-2 3-1-4-3 2-4 1-3 2-3 2-3-4 3 3 3 1-3-1 2-4 4 1 2 3 2-3 1 3 3 2 3-3 3 0 4 0 4 0 4 1 3-1 0 4 2 3 3-1 2-4 3-2 2-3 3 3 3-2 5 1-2-3 4 0 3 2 2-3 5-3-1-3-3 2-2-2-3 0-2-2-3 0 2-2-1-3-3-1-1-3 2-2-2-3-3 1 3 1-2 2-1-3-2 2-3 2-2 1-3 2-3-1 2-2-2-1-3 1-3-2 0-3-2-2 0 3-3-1-2-3-2-1-2 3-2 2-3 1-1 3-1-3 0-3-3-1-3 0-1-3-3-2 1-3-2-2-3 1 0 3 0-3-3 1 1-3-3 0-3-1-2-1-3-1-2-2-3-2-3 1-1-3-2-2-2-2-1-3-1-3-2 2-3 1-2-1-3 0-2-3-2-2-2 2-3 0-3 0-2-6-1 3-2-1 1-3 3 2 3 0 2 2 0 3-3 1 2 3 3 0 3 1 2 2 2 2 1 3 3 5 0-3-3 0-1-3 0-3 3-1 2-2-2-2-3 0 0-3 3-2 3-1 3-2-3-1 2-2 3-1 0-3 1-3-2-2-1-3-2-2-2-2 3-6-2 3-3 0 2 2 3 1 0 3 0 3 1 3 3 0-2 1 2-1 0 3 1 3 1 3 2-2 3 2-3 1 2 2 2 3-2 3 3 1-1-3 3-1-3 1 1 2 0 3-1 3 0 3 2-3-3-1-6-1 3 1 3 2-2 2 3-1 1 3-1 3 3 1 0 3 1 2 0 3-2-2-3-1 0 3-2 2 0 3 2 2 1 3-3-2 3-2-1 3 2 2-1 3-4 3-2-2 0-3 3-2 2-1 1-3-3-3-3 2 1-3 3 0 3-1-1-3 2-2-3 0-3 0 3 1-1-3 2 1-1-2-1-3-3 1 1-3-1-3-2-1-1-3 3-4-2 2-2 2-1 3 0 3-2 2-2 2-5 1 2-2 3-1 1 3 3 1 3-1 2 2-1-3-1-3 3-1 1-3-3-1 2 2 0-3 3 0 1-3-1-2 1-3 3 1 0-3-2-3 3 0-3 1-3-1 1-3 3-1-2-1 0-3 2-3 2-2-3-1 3 2-3 0 2-3-3 0-3 0 3-1 2 1-1-3-3-1 0-3 3 1 3 1 0-3 1-4 2 2 2 2-3 1 0 3 2 3-2 3-2 1 2 2-1 3-2 3 0 3-2 2 4 4-3-1 3 0-3-1 1 3-2 2 1 3 1-3-2 2 2 3-3-1 2 2-2 2-2 2 3 0 0 3 1 3-2 2-1 5-3-2-2-1 2 0-2-2 1-2 0-3 2-3-1-3-3 0 0-3 1-3-1-3-1-3-2-2 2-2 0-3 0-3 2-2-2-3 0-3-2-4-3 0-2 3-3 0 1 3-3 0-3-1 2 3 0 3 0 3-3-1 1 3 1 3 2-2 3 1-2 3-1 2 2-1 2 3 2 3-2 2 2-2 1 3-2 2 2 1 3 2 3 0 2 1 0 3 3 1 3 0-1-3-2 3 3-1 1-3 2 2 3 2-2 1 1 3-2-2-2 2-2-2-1-3-2 0-3 1 0 3 1 3-5 1 2 2-3-1 2-2 2-3 0-3 0-3 3 0 0-3-3-1-1-3 1-3 1-2-2-3-2-2 0-3-1-3 3 1 2 1 3 0-3-1 0-3-1-3 1 3 3-1 2-2 2-2 4 2 2 2-1 2-3 1-1 3-2 1-3 1-3 0 1 2-3 0-3-1-5-2 1-3-1-2 2-3 2-1 2-3-1-4 0-3-3 2-3-1-1 3 0-3-3-1 0-3 3-1 0-3 2-3 0 3-1 3-3-1-1-3-5-1 3 1 3 0 0 3 0 3 3 2 1 3 2 2-1 3 0 3 3 0 2 2 2 2 1-2-2-2 0-3-3 2-1 2-1-3-2 1-3-1-2-2-1-3-2-2 2-2-3 2-2-2-2-2 0 3 0 3-3-1-4-4-2 2 0 3 1 3 2-2-2 2-3 0 3 0-1 3 2-3 3 2-3 0 3 1-2 2 2-1 2 2 0 3 2 2 2-2-1 3 3 0 1 3-2-2 3-1 3-1 3-1 2 1 3 2 1 3 0-3 3-1 2-2 2 2-3 0 0 3 3 0-2 3-1 3 2 2 1 3-3 0 3 1 2 2 3 1 3 1 3 1 2 2-2 2 1 2 2-1-1 2 0 3-1 3 3 0 3 0 3 1 2-2-1 3-1 3 3 0-3 2-3 1 3 2 2 1 3 1 3 0 0 6-1-3-3-1 1-3-3-2 1-3-3-2-1-3-3 0-3 0-1-2-3 0 1-3 3 0-3-2-1-3-3 1-2-1-3 1 0-3-5-3-3 0 0 3 3 2-1 2-3 2 3 2 3 4-1-3-2-2 3 1 3-1-3-2 3-1 1-2 2-3-2-2-3 0-1 2-2-2-2-2 2-3 3 0 0-3-3 1-2 3 2-3-3 1 1-3-3 2-1-3-3 1-1-3-1-3 3-2 3 1 3-1-3-2 3 0 1-3-2 2-3-2-3 1-2-1 1-3 1-3-1-3-2-2 3-1 1-3-1-3 1-3 2 3 3-1 2-3 3 1-2-2 1-5-1 2 1 3-3 1-1 3-1 2-3 1-2 2-3 0-1-3-2-2 0-3-3 0-1 3-1 2 3 1 0 3 0 3-3 0-2 2-3 0-2 2 2 3-5 3 3 1 3 0 1 3 3 0 0 3 1 3 2 6-2-1-2-3 0-3 0-3 3 0 0-3-2-2-3-1 0-3 1-2 3-1-2-2 1-2-2-2-1 3 0-3 3-2-1-3-2-3 2-2 2-2 0-3 2-1 0-3 2-2 1-3 2 3 0-3 3-1 3 0 0-3 2-3 3 1 4-1 3 0 0 3-2 3-2 2 1 2-3 1 2 3-2-2 1 3 0 3 3 2-3 0 0 3-2-1-3 0-2 3-2 2 3 1-1 3-2 2 2 3-1 2 1 3-2 3-3 0 3 0 3-1-2 2-1 3 1-3 2 2 2 3 3 0-3 1 0 3-3-1-2 2-2 3 0 3 1 2 0 3 1 5 1-3 0 3-1-3-3 0-2-3-1-2 3-1 3 0-1-3-2-2 1-3-3 1-3-1 3 1-2-2 3-2 3 0-2 2 2 2-1-3 0-3-2-2 2-2 2-1 2-2-2-5 0 3-3 1-2 2 2-2 3 1 2-2 3 1 3 0-1 3-2 2 1 3-3 2-2-2 3 1-2 3 0 3-1 2 0-3 2 3 2 2 3 0 0-3 0 3 2-1 2-2 2 2 1 3-3-1 1 3-3-1 3 2-3-2 2 2 1 3 1 4 2 3 3 1 3-1-3 0-3-1 3 0 3-1-3 0-2 3-2 1 2 1 2 3-3 1-2 2-3 0 2 2 2 2-3 0 0 3 1 3-1 3-3 1-3 1 3 2 1 3-1-3-1 3-2 2 1 3 1 5 2 2-2-2-3-1 0-3-3 0-3-1 0-3-3-2 0-3 0-3-2-2 1-3 3 2-2-2-3-1-2 2 0-3-3 0 3-2-3-2-2 2 1 2 1-3 3-1-2-2 3 0-2-2 1-3-2-2 0-3 3 0-3 1 1-3 1-3-1-2 2-4 3 0 1-3 2-2 3 0 2-2 1 2 0 3 3 1 2-2 3 0 2 2 2 2 3 1-2-2 3 1 1-3 3-1 2-1 1 3 3 0 2 3-2-2 0-3-1-3-3 1-2-2-3 1-3 0 0-3 1-3 2 2-3 2 1-3-3-1-3-1-3 0-3 0-3-1-2 2-3 0-3-1-1-2-3-2-3 1-2-2-1-4 1-3-1-3 3 1 0-3-1 3 1-3 2 1 2 2 2 3 2 1 3 0 3-2 2-2 3-1-1-3 3 1 2 2 3 0-1 6 0 3 1 2 1 3-3 0-2 3 1 2 0 3-3 0-3 1 0 2 3-1-3 1 2 2 1 3-2 2-3 2 3-2-1 3-3-2-2 1-3-2-4 4-1-3 0-3-2 2-1-3-4-4-1-2 1-3 2-2-3 0 1-3 1-2-1-3 0-3 2-2 4-4 1-2 3-2-3 2 1 3-2 2-1 3-1 3-2 2 3-1 2 2-2 3-3 1 0 2 0 3 1 3 1 3 0 3 3 2-3 1-3 1 0 3-2 1 2-1-2 2 3 1 1 6 4-4 0-3 1-3-1-3 3 1 1-3 3 0 3-5 0-3-2-2 3-1-1-3-2-2 3-1-3 1 3-2 2-2 3 0-1-3 3 0 2-2-2-3 2-2-3-1 2 2-2-2 0-3-1-3-2-1 2-1 0-3-2-5 0 3-2 2-1-2 1 2 2 2-2 2-2 3-2 2-1 3 2 2-2 2-1 3-2 1-3 2-3 0-2 2 2 2 0 3-3 0-1 3 2 2-2 1 0 6-3-2 1-3 2-2-1-3 3 0 2-2 2 3 3-2 1-2 3 0 2-2 3-1 2-2-3 1-2-3 1-2-2-3 2-1-3-5-1-3 3 1-2-1 1 3-3-2 2-2 0-3-1-2 2-2-1-2-2-3-2-2 3 0 0-3-2-2 3-2 2 0-2 1-3-1 1-3-2-3-1-2-1 2 2 2 3 1 3 0 2 3 0-3 1 3 3 1 2 2 0 4 1-3-1 3 0 3-3 1 2 2 3 1-3 2-2 2-2 2 1 3-1 3 2 2 1-3-3 0-1 3-3 1-2 2-2-2-3 2 3 1 1 3-2 2 2 2-1 3 3 1-1 3-3-2-1 3 0 3 2 2-3 1 3 2 2 1-2 3-2 4 2-2 3 0 1 3 2 2 3 0 1 3 1 3 3 4-1-3 2-2 3-1-3-1 0-3-1-3 1-3 0-3 1-2 0-3 1-5 0-3 3-2-2-2-3-2-1-2-3 0-3 0-1-3-3 0-3 0-3 2-3-4-1 2 2 3-2 2 2 2-3 0-1 3 0 3 3 1-3 1-3-2-2 2 3-2 3 1 3 1 1 3-2 2-1 3-1 3-3 2 3 2 1 2 0 3 2 3-2 2 3-1-3 2 3 1 4 3-1 4 0-3 2 2 0-3 2-3 3 1-2-2 3 1 1-3 2-2 0 3 1-3-3-1 2-2-2-1 1-3-2-3 2-2 1-3 1 3 1-3 2 2-2-1-3 0 2 2-1-3-1-3 3 0 0-3 3-1-1-3 2 2-1-3-2-2 3-1 3-1 5 0 2 1 3-1 3 1-2-3-3 0-1-3 2-2 3 2 0-3 1-3 0-3 1-2 3 0 2 3-2 2 2-1 3-1 2-2 2-2 0-4-3 2 2 2-1-3-1 3-3 0-3 0 2 2-3-1-1 3-3 1 0 3-2 2-2-2-3 1-1 3 2 3 0 3-1 2-3 0-2 2 3 0-1-2-2 2-1 3-3 2 3 0-2 1-3 1-3 2-1 2-3 2-3 0-1 5 3 0-1-3 3 0 2-2 2-3 0-6-1-3-1 3-3 1-1 3 0-3-2-3-3-1-2-4 2-2-2-2 2 2 2-2-1-3-2-2 0-3-3-1 1-3 2-2-2-1 3 0-2-2-1-3 0 3 0-3 3-1-2-2-2 2 1-2 1 2 3 1-1-3-2-2 4-4 0 3 3 0 1 3 1 3 2 1-2 2 2 1-3-1-2-2 3 0-3 0-2 2-2 2 1 3 0 3-3 0-3 1-1 2-1 3-1 3 0 3 3-1 3 2 2-2-3 0-3 0 0 3-2 2 0 3 1 3 1 3 1 2 1-3 2 3 3-1 1 3-1 3 2 2 2 2 0 3-1 3-2-2-3-2 3 1 1 3-3 1-2 1 3 1-1 6 7 1 2 6 1 7 4 5 4 5 6 1 5 4 5 4 4 5 5 4 5 4 5 4 3 6 5 4 6 3 6 2 4 4 4 5 5 5 1 6 5 3 4 5 4 5 6 2 4 6 4 5 5 3 4 5 0 1-7 1-6 0-7 0-3 5-7 0-6 0-6-1-6-4-6 0-6 2-6 2-7-1-5-3-6 2-5-4-6 1-7 1-6-1-6-1-7-1-6-2-6-2-6-1-6-2-6-2-6-2-6-1-7 1-6 2-2 6-5 4-6-1 0-1 6-3 6 2 6 2 6-2 3 5 6 3 6-3 4 6 5 3 6-2 7 0 6 1 6 0 6-3 6 1 6 2 6-1 6 2 6-2 7-1 6-1 6-3 6 1 6-1 5 0-4 5-6-2-6-1-5 3-5-4-1-2-6-2-6-3-6 2-5 4-6-1-7 1-6-3-6-1-6 0-7-1-6-2-6 1-6 0-7 1-6 1-6-1-5 0 1-7-2-6-1-6-3-6-3-5 0-7 2-6-3-5 5-5-2-6-1-6-3-6 2-6-1-4-3-6-1-6-5-5 2-6 1-6 2-6 0-7-3-5 3-6-2-5 3-6-4-6 1-6-1-6-2-6 1-6 3-4 4 4 2 6 0 7-2 6-2 6 1 6-1 6-2 7 2 6-1 6 0 6 0 7-1 6 2 6 0 7-1 6 1 6-3 5 3 6 2 6-3 5 3 6 1 6-2 6-3 6-1 6 2 6-3 5-2 1-2-6-2-6-1-6 1-7-1-6-2-6 0-7-2-6 1-6 0-6-2-6 0-7-1-6 0-7-1-6 2-6 4-5 4-5-4-5 2-7 3-5 0-7-2-6-1-6-2-6-3-6 4-4 4-2 0 6 4 5-3 6 3 6 4 5-2 6-1 6 1 7-2 6-4 4 1 7 1 6-2 6 3 6-3 5 1 7 4 5-1 6 2 6 2 6 0 6 4 5-6 3 0 4-1-6 1-6 1-6-1-7-1-6-2-6-6-4-1-6 1-7 2-6 0-6-2-6 2-6 0-6 1-7 1-6 0-6-2-6 2-6-1-7 2-6-1-6-5-5-1-4 2 6 1 6-1 7-1 6 2 6-2 6 1 7 4 4-1 7 2 6-3 6 2 6-1 6 0 7-3 5-1 7 0 6-4 5-1 7 4 5 2 6-1 3 2 6-3 5 1 7 1 6 4 5-2 6 1 7 0 6-4 5 0 6 1 2 2-7 1-6 0-6 4-5-3-6-3-6 2-6-2-6-1-6 1-7-1-6 1-6 0-7-4-5 1-6 1-7 1-6 0-6-1-7 2-6 1-6 0-6 1-7-1-5 1 6-2 6 5 5-2 6-2 6 4 4 3 6-6 1-3 5 0 7 0 6-1 6 3 6 5 3-1 6 0 4 0 7-3 5 3 6-1 7 2 6-2 1 2 6 2 2 0-6 0-7-5-4 5 3 5 4 4 5 5 3 2 6 2 6 6 1 7 2 5 3 6 3 6 1 6 3 6 1 7 0 3 5 4 5 3 1-7-2-6-1-5-4-6-2-6 3-6-1-6-2-6-2-5-4-6-3-4-4 6 1 6-3 4 5 6 3 6 2 6-1 6 1 7 2 3-3-6 2-7-1-6-1 0-2 7-1 5 4 6-2 6-2 6 0 3-5 6-1 7-1 6 1 7 0 6 2 6-1 7 1 5-4 5 5 2 1 2 6 5 0-6-2-7 1-5-4-7 1-5-4-5-2-6 2-7 2-3-5-2 2-6 0-6 3-5-3-7 0-6-1-6-2-5 4-6 3-6-2-6-2-6 1-6 2-5 4-5-3-2 4 6-2 6-1 5-3 7-2 5 2 7-1 5 4 6-2 6-2 6 0 6 1 6-2 7 1 6 1 5 4 6 1 6 2 6 0 6-3 6-1 7 0 6-1 6 1 6 1 7 2 6-1 6 1 4 1-6-2-7 1-6-2-6-1-5 4-6 1-5 3-6 3-6 3-6-2-6-1-7 0-6 1-1 6-6-3-4-5-6 2-6 2-6 0-6 2-4-5-5-4-4 5-2-3 1-4 3-2 0-4 4-1 2-3 3-1 1-4-3-2 3-1 3 2 3-2 2-3 3-3 3 1 4 0 1-3 3-3 4-1 3-1 3 2 2-4 1-3-2-4 4 0-3-3 1-4 2 3 0-4 1-3 1-4 4-2 0-4 0 4 0-4 3-1 4 2 3-1 4-1 3-1 0-4 2-3 3-2 4-1 4 0-2-4 3-2 4-1 0-3 3-2 4-2 4 0 3 0 2-3-1-4 2-3-1-4 3-3 3 0 2-3 2 3 0-4 3-3 4 1 3 2 2-3 0-4 2 3 4 0 4-1 1-3 2-4 3-2 0 4 3 3-2 3-2-3-3 3 0 3-1 4-4 0-2-2-3-2-2 3-2-3-3-2 2 3-3 1 0 4-4-1-3-3-4 1-3 2-2-3-3 2-4 2-3-1-4-1-3 2 2 3-4-1 1 4 0 4-4 0-2-3-1-3-2 2-3-2-3-3-4 1-2 3-4-1-3-1-4 0-3-2-2-4-3 0 0 4-3 3-1-4-2-3-4 2-1-4-4-2-1 4-2 3-4 1-4 1-1 3-1-3 0 4 3-2-2-3-2-3-3-2-5 0 0 4 4-2-1 4 3-3 0-4-1-4 4-1 4 1 3-2 3-3 3 2 2 3 1 4 4 1 3 2 3-2 2 3 4 1 4-1 3 2 3 1-1-3-1 4 4-1 4-1 4-1 1 4 0-4 2 3 4 0 0-4 4 1 1-4 3 1 4 1 0-4 3 0 0 3 4 2 4-1 3-2 4 0 2-3 3 1 4 0 3 2 3-2 3-3-3-3 3-2 5 2-1 4-3 1-3 2-3 2-3 2 0 4-2 4-4 1-3-2-3 2-4 2-1 3-4-1-1-3-3 0-4 2-3 2 0-4-3-2-4 0-2-3-3 2-2-3 1 4-3 1-4-1 0-4-2 3-3-1-4 1-1 3-4 0 0-4-3 2 0-3 1 3-2-3-2-3-4-1-1-3-2-4-3-1-4 1-4 0-3-2-3-2-4 0-4 1-3 1 0-4-3-4 4 2 2 3 2-4 3 0 4 2 3 2 4 1 3 1 2-4 4 0 3 2 3 1 3 3 3 3 4 0 3-2 4 1 0 3 4 3-3-1-3-3-3-2 3-3-4-1-4-1-3-1-4-1-3 2-3 3-3 2-5-2-3-2 1 4-2 3-1-3 0 4-3 3-2-3-4 1 3-2 4 1-1-3 3-1 0-3 0-4 4-1 2-3 3-1 4-1 4-1-2-5 3 2 3-2 3-2 0 4 2 3 3-2 4 0 4 0 2 3 3-3 3 2 3 2 2 3 2 3 1 4 2-4 3 2 2 3 4-1 3 3-1-4 3 2 1 4 2-4 4 1 3-2 3-1 3-3 2 3 3 2 4 2 3-1-2 3 3 1 5 0-1-3 1-3-3 0-4 0-3 3-3-2-2-2 2 3 4-2 3 2 4-1 4 1 3 1 4-1 3 0-2-3-3-2 1-4-4 0-3-1-4-1 0-3-1 3-1 4-3-2-3-3-3-1-3 2-4 0-3 2-2 3-4 0-3-2-2-4-3 2-3 2 1-4-4-1-3 2-4 1-3-1-4 1-2-3-4 0-3 1 0-4-2-3-2-3-4-1-2 3-2 3-1-3-3 2-4-1-3 5 4 1 2 4 2-3 4-2 2 3-3 2 3 3 1 3 4-1-1 4 3-1 4 2 3 2 4 1 2 3 4 0-2 3-1 4 3 1 0 4 3-2 3-1 2 4 0 4 4-1 3-1 5 2-3-2-3-2-4-1-3-1-4-2-3 0-3 3 1-4-3 2 3-1-3-2 1-4 0 4-2-3-5-3 1 4 3-2 0-4 4 2 1 4 2 3 4 2 3-1 2 3 1-3 4-2 2 3 1 4-3 3 1 3-3-2 3-2 4 1-3 3-1-4 4 1 4-1 2 3 4 2 3-2 4 0 1-4 3 1 1-4 5 0-3 1-3 3-4-1-4-1-2-3-4-1-4 1-3 1-4 1-2-3-3-2-3 0-4-1-1-4-3-2-4 2-4 0-2-3 1-4 3-3-3 0-2-3-1 3-3 2-4-1 2-3 2-4 3-1 4-1 2-4 0 4 4 0 2-3-4 1 4 0 3 1 4 1 4 1 2 3 0 3 4-1 2-3 1 4 3 3 4 0 1-3 3-1-3 1-4 1-3 2-4 0-3-2 4 1-1-4-3 2-3 2-2 3-4 1-3 1-4 1-4 1-2 3-4-1-1 3 2 4 1 3-3-1-3-3-4 2-3 1-2 3-3-1-4-1-1 4-3-1-4 3 2-3 4-1 0-3 3-3 3 2 0-4 4-1 1-3-1-4 3 1 2-3 0-4 4-1 1 4 1-4 4-2 0-3 3-2 0-4 3-2 3 3 6 0-1 3 3 3-4 1-1 4 1 3 1 4 2 3-3-3 0 4-3-2-2 3-4 0-3-2-3-2-4 2-3-1 1-4-4-1-2 3-1-4-3-1-3 2-3-3 1-3-4 0-4-1 1 4-4-1-2-3-3 2 1 3-3-1-3-2-4 1-4 0-3-3-3-2 1 4-4-1-2 3-3-1-2-4 2-2 3 3 1 4 3 2 4 1 2 2 3 3 4-1 3-3 3 0 3 2 4-2 3 2 2 3 3 3 3-2 0 3 3 2 4 0 4 0 3-2 3 3 3-3 2 3 3-3 3-2 3-3 4 0 3-3 4 1 2-3 4 1 0 4 2-3 1 3 3-3 1 4 3 2-1-4-3-3-3-1-4-1 3-3 3-1 3-2 4 1 3 0 4 2 4 0 3 2-1-4 1-3 3 2 0-3 2-3 3-2-4-2-3-1-4 1-3-2-4 0-4 1 0-4-1-3-2-4-2-3-3 2-4 2-3-1-4 2-3 2-1 3-3-3-3-1-4 0-3-1-4-1-1 4 1 3-3-1-3 3-1-4-3 2-3-2-4-1-2 3-2-3-2 2-5-1-2 3-4 0-2 3-2-4-1 4-4 1 2 3-2 4-3 1 3-3 3 2-2-3 2-3 2 3 0-3 3 0 4-1 0-4 4 0 3 1-3 1-3 3 2 4-4 1-3 3-1 3 3 1 0 6 1-4 0-4 4 1 4 0 4 0 0-4 3-3 3 1 2-3 4 1 1 4 4 1 4 0 3 2 2 3 1 4 4 1 3-3 4 0 3-1 2 3 3-2 3 1 2-3 4 0 4 1 3-1 3 3 3 2 4 1 3-1 4 1 0-4 4-1 4 0 1 4 3-3 1 4 3 0 3 1-1-3-2-4-3-4-1 4-4-1-2-4-4 1-3 1-3 2-4 0-3 2-4-1-3 3-3-2-4-2-3 0 2-3-2 3-4 1-3-2 3 2 2-3-1 4 2-4-3 3-4 0 3 3-4 0-3 2-4 1-3-3-3 4 3-1 2-3 4 1 4 0 0-3 0 3 3-1 4 0 3 2 3-1 3-3 3-2 0 4 1-4 1 4 4 1-1 3 4 1 4 0 3-1 3-2 3-3 2 3 4 1 2 2-1 3 2 3-3-3-3 3-1-3-4 0-4 0-4-1-3-2-3 0-4-1-1 4-3-2-4-2-2 3-2 5 0-4-3-2-1-4 0-6-4-1 0 4-1-4-5 2-3 3 2 3-3 2 2-3-3-2-4-1-3 1-3-2-4-1 3 2-3-1-1 5-4-1 0-4-4-3 4 1 3-3 2 3 3 2 3-2 2-3 3 3 4-2 3 1 4-2 2-3 4 0 4 1 3-1 4 1 4 0 3 1 3-2 4 2 0 4 2 3-4-1-3-1-3 2-3 1-3-3-2 3-4 1-4 1-2-3-4 0-3 2-1 4 0-4-3-3-4 1 2 3 0 4-3-1-2 3-3 0-4-2-4-1 1 4-4 0-3-3 0-4-3-2-2-3-3-1-5-1-3 2-1 5 3 3 0 3 2 3 3 2 3-3 1-3 2-3 4-2 4 0 3-2 4 0 0-4 3 2 3 2 1 4 4-1 3 2 0-4 4 2 3 1 3-3 4 4-3-2 2-3-4 0 2-4-1-3 3 0-2 3-1-4 0-3-2-4 4 2 3 2 3 1 4-2 1 4 4 1 3 1 4 2 2 2-3-1 3-1 2 4-3 3 3 5-1-4-3 2-1-4-3-2-3 3-3 2-1-4-2-3-4-1-3-1-4-1-4-1-3 2-4-1-4 0 2-3-1 3-2-3-5 2 3 1 3 3 3 0 4 0 5-1 2 3 4 0 2 3-1 3-1 4-1-4 3-1-3 2 4 1 4 0 1 3 0-4 2-2 3-3 0 4 1 5 1-4 1-3 2-4 3-1 1 3 4 2 0-4 4 1 3 0 1-3 1-3 3-2 1-4 2 3 4-1 2 3 4 1 2-3 4-1-3 1 2 3-3 3 0 4 1 3-2-3-3-2-4-1 2 4-3-3-3 2 0 4-4 0-2 3-2 3-1 4-3-3-2 4-3-3-4-1-3-2-3-2 1-4 0-3-2-4-2 4-3-1-1 3-3-2-2-3-4-1-3 2 0 3-4-1-3 0-4-2-3 1-4 1 3-2 3-3 1-4 1-3 4 1 3 2 4 0 4-2-3-2 1-4 1 4 3-1 5-1 2 3 3 3-1 3-4 2 3 5 4-2-1-4-1-4 0-3 2-3 4-1 2-3 1-3 1-4 3-3 3-1 3 6-3 3 3-3-3-3-4 0-1 4-4 0-3-2-3 2-3 3-3 2-4-2-1 4-3-3-4 0-1 4-3 2-4-2-3 1-4-2-3 2-4 0-3-1-4 2-1 3-4 2-2 2 2-3 4 0-2 3 4 0-1 4 4 0 3 2 4 0 3-3 4 1 3-1 2 3-1-3 3-1 4 2 3 1 3-3 3 2 3-2 2 3 3 3 1 4 3 1 4 2-1-4 4 1 3-2 3-2 3-2 4 1 3 2 4 0-4-1-2 3-4 0-3-3-3 1-4 2 3-3-3-3-3-2-3 1-4 0-4-1 0 3-4 2 1-4-4 0-4 1-1-3-1 4-3 2-3-2-3-3-4-1-3 3 2-4-3-1-1 3-5 1 3 0 3-3 4 0-2 4 2 3 4 0 4-1 3 1 4-2 1 4 3 2 3 3 1 3 1-4 0-3 3 0 4-1 3 2 2 3 0 4 0-4-1 4 3-2 4 1 3-2 3 2 2 6 2 6 2 6 2 6 0 7-2 6 0 6 2 6 1 6 4 6-1 6-1 7 0-1 4-4 3-6-3-6 3-6 2-6 0-7 3 1 3 6 0 6-3 6 0 6-2 5-4-5 3-6-3-6 0-6 0-7-1-6 0-6 5-4 0-6 0 7-1 6-3 6-3 5 2 7 2 6 0 6-2 6-1 6-2 6-6 4-2 6 2 1 4-5-2-7-5-3 4-5 3-6-3-5-2-6-1-7 3-5 0-7 3-6-4-1 0 7 0 6 4 4 2 7 3 5 4 5-2 6-1 0-1-6-4-5-2-6-5-5-4-5 3-6-3-5-1-6 0-6-3-5 5-4 5-4 5-3 3-6 6-3 2-3-2 6-3 6-3 6-3 5 0 7 0 6-4 6-2 5 1 7 4 4-1 7-1 3 5 4-1 6 1 7 3 0-3 6 0 6 1 7 0 5 0-7-1-6 0-6 1-6 4-6-2-6-2-6-2-6 0-6 1-7-2-6-1-6 3-6-1-6 0-7 1-6-3-6 1-6 2-6 4-5 0-1-4 5-6 3-1 6 0 1 0 7 1 6-1 6-2 7 3 5 1 7-6 2-1 6-1 6-1 4 3-5 0-7 1-6 1-6 4-5 4-5 3-6-1-6 1-6 3-6-3-5 3-5-6-3 2-3-9 3-9-2-9 2-9 0-8-2-9 1-9-1-9 2-9 3-9-1-8 3-9-1-9 2-8 2-9 0-8 4-4 0 4-9 4-8 6-6 5-8 3-8 5-8-1-8 2-6-4 8-3 9-4 8-5 8-4 7-3 9-2 9-6 7-6 7-3 8-7 6-4 8-2 8-3-2 7 6 6 6 9 3 0 2 4-8 5-8 5-7 4-8 5-8 3-8 5-8 3-8 3-9 4-8 2 2 5 7 6 7 8 5 5 7 3 9 7 6 8 4 7 6 7 6 3 8 6 7 7 5 2 9 9-2-1 2-7-6-7-6-8-2-8-5-7-5-7-6-6-7-6-6-9-4-5-7-6-6-7-7-7-4-7-6-7-6-4-8-6-7-7-6-8-5-8-2-5-7-8-5-4-8-7-6 0 3 9 0 8 4 9 0 9 2 9 3 9 1 9 0 8 4 9-3 9 1 9-2 1-1-6 8-2 8-5 8-4 8-6 7-6 7-4 7-5 8-7 6-2 9-4 7-2 9-4 8-3 9-5 7-4 8-3 9-1-2-2-9 1-9 0-9-1-9-2-9 3-8-4-8 1-9-2-9 2-9 1-9-4-8 0-9 1-2 2 8 7 6 5 8 6 6 4 8 6 7 5 8 5 7 2 9 5 8 5 7 5 8 4 7 2 9 5 8 4 8 4 8 4 8 5 7 3 8 2-4-1-9 2-8 1-9-1-9 0-9 1-9 2-9-3-9 1-9 2-8-2-9 0-9 1-9 1-9 0-5-5 8-6 7-6 6-4 8-6 7-6 7-4 7-6 7-5 8-5 7-8 5-6 7 3 4 6-3 6 3 6-4 4 5 6-1 6-2 7-1 6-2 5-4 6 0 4 6 6-1 5 5 6 0 7 0 6 0 6-1 7 1 4-5 6 3 5 4 6-3 1 1 2-6 1-6 1-7 4-5-3-6-4-4 1-6-2-7 0-6 4-5 5-4 1 0-1 6 2 7-2 6-2 6 1 6 1 6 2 7-2 6-2 6-2 6 2 6 3 5-1 6-2 7 1 2-1-6 3-6 0-6 2-7 2-5-2-4-1-6 3-6 1-6-3-6-2-6-1-6 2-7 2-6-2-6 2-3-3 6 5 4 1 7 3 5-1 7-4 5 1 6 1 6 1 7-5 4-2 6-2 6 2 6 0 6-2 2 6 2 4-4-6 4-5 3-6 3 0 7-5 3-6-1-7 0-6 0-5 4-6 4-6-2-6 2-6 0-7 0-6 2-6 3-6 0-6 0-5 4-5-3-6 0-6 3-6 0-7-1-6 1-5-4-7 2-6-2-4 5-6-2-2-2 3-5 7 0 5-5 6-2 6 0 6-3 5 4 5-4 6-2 5 4 6 2 7-2 5-3 7 1 6-2 6-1 5-4 6 1 5-4 7-1 5 4 6 2 5 4 6 2 6 2 4-1-6-3-6 1-7-1-6-1-6-1-3 6-5 3-6 2-5 5-6-3-6 1-7 1-6-1-6 3-2 4 4-6 3-5 2 1 6 0 6-2 6 3 6 2 6 1 6 2 7 0 6-2 6 2 6-3 6-1 5 0-7-1-4-4-6 1-6 2-7 1-6 2-6 2-6-3-6 0-7 2-5 3-3 6-6-2-2-2" fill="none" stroke="#231f20" stroke-width="1.0" stroke-linejoin="round"/>
<rect x="123.50" y="261.50" width="50.40" height="40.90" fill="#c5dcef" stroke="#55606c" stroke-width="1.2" />
<use href="#mcurl" transform="translate(150.50,285.00) rotate(0) scale(1.050,1.050)" style="color:#e9703a"/>
<rect x="62.70" y="259.20" width="114.00" height="120.00" fill="none" stroke="#231f20" stroke-width="2.4" />
<path transform="scale(0.5)" d="M477 704l3 -1 2 3-3 1 0 3 4 3-2 2-3 0-3-2-2-2 1-3 2-1-3-1-4-4 3 1 2 2-1 3 2 1-1 3 2-2 3 1 0 3-2 3 1 2 2 2-2 2 1 2 1 3 5 1-3 0-1-3 1-3-2-2 3-2-3 1-1-3-1-3-3 0-3-2 3-2-3 1 1-3 2-3-3-2 3 0-1-3-1-3-1 3 1 2 3 0 3 1-2-2 1 2-3 1-2-2 2 2-2 3-3 1-2 1 0 6 1 1 1-3 0-3 2 2 3 2-2-2 2-2-1-3 2 2-2-2 3 1-2-3 3 1 4-3-3 1 3 2 3 0-3 1 0 3 2 2-2 2-2 3-2-1-2 2 1 5-3 1-3 4 0 3 3 1 1-3 1 3 0 3 2 4-3-2 0-3 1 3-3 0-2-2-3-2 3-1 3-1-1-3-1-3-3-3 5-2-2-3 1 3-2 2-2 2 2 1-2-2-3-1-1-3 3-4-2-2-1-3 1-3 0-3 2-2 1-4 1 3 2 2-2 2-3 0 2 2 2 2-1 3-2 2 2 2 2 2-3 0-1 3 2-2-2 2-2 2-1 3-2 2 1 3-1 2 2-1 2 2-3 1-2 2-2 2 2-1 6 2 0-6-4-5 2-7 3-5 2-6-3-6 2-6 1-6-3-6 0-7 0-6 3-6 1-6-1-6 3-6 3-5-1-6 1-7-4-5 0-6-2-4-2 6 2 6-1 6 3 6-2 6 0 7-3 5-1 6 4 6-1 6-2 6-2 6 1 7 1 6 4 5-1 2-1-6-3-6 4-5-2-6 1-7 2-6 0-6-2-6-2-6 4-5 0-7-5-4-2-6-1-5 2 6-2 6 1 6-3 6 3 6-2 6 1 6-4 5-1 6 0 7-2 6-1 6 4 5-3 5 0 6 1 6 1 7-2 6 2 6 1 6-1 1 0-7-1-6 1-6 0-6 2-6 3-6-3-6 0-6 0-6 1-7 0-6 2-6 3-6-1-6 1-6 2-7-3-5-5-4-1-6 0-7 1-6 2-6 0-6 1-7 2-6 2-6-4-5 1-6 1-6 0-3 0 6 3 6-4 5 4 5 1 6 1 6-2 6 2 7 0 6-2 6 1 6 2 7-3 5-1 7-1 6-2 6-6 2-3 6 1 5 3 0 3 0 1-3 3-1 3-1 3 1 2 1 3 1 2-3 2 2 2-3 2 3 3-1-3-1 3 0 0-3 3 2 0-3 2-2 2-2 2-2 3 1-2-3 1-2 2-3 0-3 3-1 2 1 3 1 3-1 0-3 2-3 2-2 3 1 2-3 1-2 2-3 3 2-1 3 0-3 1 3 2-2 2 2 3 1 0 3-2-3 0-3 1-2 3 0 2-2-2-3-2 1 2-1 3-2 2-2 2 2 2 2 1-3 3 0 2-2 2-2 3-1 1-2 0 3 3-1 3 0 3-1 2-3 3-1 2 1 3 0 3 1 3-1 1-3 2 2 3 2 0-3 3 0 3-2-2 3 3 0 2 2 3 0-1-3 1-3-1-3 3 1 1-3 3-2 3 1 0 3 3 1 2-3 1 3 2-2 2 2 1-3-1-3 2-2 6 0 0 3 1 3 2 2 1-2 3 0 4 1 3 0 2 3 1 3-1 2-2 3-3 0 3 0-1 3 2 2-3-2 0 3 1-2 0 3 1 2 2 3 4 1-2-2-2 1-3-2-3 0 0-3 0-6 3 1 2-2 1-2-3-1 1-3-1 3 1 3 3 2 2 2 1-2 3 1-3 0 3-1 0-3 1 3 2-1 4-2-3 1-3 0-2 1-2 3-3 1-1-3-3 1-4 0 3 1 2-2 3-1 2-2-3 1 3-1 2-3 2-2 1-3-2 2-1 3 1 2 3 1 4 0-1-3 0-3-2-2-2 2-6 0 2 3 2 0 2-2 2 2 3 0 2 3 3 0 4 1-1-3-2-2 3-1-1-3-3 1-3 1 0-3-2 2-2-2-2-2-3 0-2-2-4 4-2 2 0 3-1 3-1-3-1-2-3 0-1 3 3 1-2 3 0-3 1 2 2-2-1-3 1 3 0 3 3 0-3 0-3 2-1-3-5 1 3-1 1 2-1-2-2-3 3-1-1 3-2 2 2-2 1-3 1-3 3 0 3-1 1 3 3 0 0 3-3 1 2-2 3 2 3 1 1 4-2 2-2 1-3 0 1 2 2-2 1-3-2-2-1-3-6 0 0 3 3-1 0 3 1 2 3 2 3-2 2 2 4-2-1-3-1-3-2-2-2 2 0 3-3 1-2 1 2 2-3-1-3 0-3 2 2-3-1 3 3 0-2-3-2 3-3 0-5-2 3 2-3 0 2 2 1-3 1-3 1-3 2-2 3-2 1-2 2 2 1 2 2-2 3-1 3 0 1-3 3-2-3-1 3-1 2-2 1-3 2-2 3 1 2 2 2 2-1 3 0 3 5 1-2-2-2-2-2 3 2 2-3-1 0 3-3 1-2 1-3 0-2-2-1-3 3 0-3 0-3 1 0-3-3 2-1 3-3 0 2 2 0-3 0 3-1 3-3 0-2 3-2 2 1 3-2-2-2 3-5-4 2 3 3 1 3 0 3-2 3 2 2 1 0 3-2 2-2 3-1 2-2 3 3 0 0 3-2 1 3-1-3 1 3 1 1 2 0 3-3-1 3-1 2 2 1 3-3-2 1 3 3 1-1 2-2 3 1 3-1 2 0 3 3 0 1 3 0 3-1-3-3 0 3 1 2 3-1 3 2 2-2 2 1 3-1 2-2 2-1 3-2 3 1 3 0 2-1 3 3 2 0 3-1 3-1-3 2 2 1 3 0 3 2 1-3 0 0 3 3 0 3-1-2 2 1 3-1 3 3 0 0 3 3 3 1-3-1-3 4-4-3 0-3-1-1-2 1-3-1-3-2-2 0-3-2 3 2-3 0-3-2-2 0-3 0-3 1-3-1-3 2-5-3-1 1-3 3-1-3 0 2-2 2 3 3 0-3-1 2-2-3 0 3 0-1-3 3 0-2-1 1-3 3-4-2 3-2 2-3 1-1 3-2 2 1 3-3-1 1 2 1 3-3 1 0 3 2 2-2 1 2-1-2 1-1 3-1 3 3 0-3-2 2-2 2 2 3 0-3 1-3-2-3 0 3-1 3 2 1 3-2 2-2 2-3 2-2-2 1-2 2 2 1 3-3 1-2 2 3 2 2 2-1 3-1 3 3-1 3 3 3 1 3 1 0-3 1-3 1-3 2-2 2-3-1-3-1-3 1-2-3-1-1 2 2-2-3 1-3 0 1-3-1-3-1-2 1-3-2-2 2-2 2-2-2-1-2-3 2-2-3-2 1-5 4-5-2-6-1-6 3-6 2-6 2-6 3-6 4-4-2-5 0 2-3 6 0 7-3 5-4 3 2 6 5 4-1 2 0 7-3 6 4 5-1 6 2 6 1 1 0-6 0-7 1-6-2-2-2-2 0 3-3 1 1 3-2-2-3-1-3 2-3 1-2 1 0-3 2-2 1 3-2 2-3 1 2-2-3 0-2 2-3 1 0-3-1 2-1 3-1-2-3-2-2 2-1-2-2 2-2-2 0 3-3 1-2-1 2 1-3-1-3 0 2 2 1 3 1 3-3 0-3 1-3 0-2 2-3 0-3-1-3-2-1 3-1 3 2-3-2 3 1 2-2-2-2-1-2 2-3 1-3 0 2-1-2-2 2-2 1 3-3-1-3-1-1-3-3 1-2 3-1 3 1-3 0 3-3 0-3 1 2-3-3-1-1 2-1 3-3 1-2 2-2 3 2-3-3 0 0 3 0 3-3 1-1 3-2-2-3 1 0 3-3-1 1 3 2 1-1-2-2-2-2-2-2-3-3 1-1 3-1 3-3 0-1 3-1-3-1 3-1 3 0 2 1-2 2-2-3 0-2 2-3 1 0-3-3-1-3 1-1 2 2 2-2 2-3-1-3 1-2 2-1 3-2-2-2 2-3 1-2-2-3 0 1-3-3-1-3-1 2-2-3 1 1-3 0 3-3 1-3 2-2-2-3 0-2-5 2-3-3-1-2-2-3 0-3 1-3-2 0-3 2-2-2-3 1-3 0-2 1-4 3-1 3 1 3 1-3-1-3 0 2 2 3 0-2 2-3 1 2 2 2 2 3 1-1 3-3-1 3 1 1 3-3-1 1 2 0 3 2 3 2 1 2 2-2 2-2 2-3 1-5 1 1-3 3-2 1-2-2-3-3 1-3-1-3 0-2-2-1-5 0-3 2 2 2-2-2-2 1-3 2-2 1-4 2 1 2-3 3 0-3-2-3 0 2-3 1 3-2 3-2 1 2-2 0-2 1-3 2-2-1-3-3 1-1-6 2 2 3 0-2 2-3 1-3 0 3 0 1 2 2 3 3 1-3 1-3 2 2 2-1 3 0 3-2 2-2 2-1 3 0 3 1 3 2 2 1 3 1 3 1 4 3 2 4-2-1-2 2 2 0-3-2-1-2-3-3 0-2-2-3-1 3-1 2-2-3-2 3-1 2-2-2-3 3 0 1-3-2-2 0 3-2-3-2-2-1-5 0 2 2 2-1 3-1 3 2 2 1 3-3-1-3-1-1 3 1 3-3 1 3-1 2 1 3 0-2 2 2 2 1 3-2 2-3 1-2 3-1 3 3 1 4 0-3-2 3-1 2 2 2-2 2-2 1-3-2-2 0-3 3-1-1-3 1 3-2 2 0-3 2 3 0-3 3 0 0-2 3 0 2 2-1-3 3-1 3 1 2-2 2-3-1-3 3 0 3 0 2-2 1-3 3-1 1 3-1-3 3-1 3 1 2-2 1-2 1-3 2-3 2-1 1-3 2 2 1-3 1-2 1-3 0-3 2-3 0-3 3 1 2 2 3 2 2 0 3-1 2 2 3-2-3-1 0-3-2-2 2-1 3 1 0-3 3 0 2-3 2-1 2-2 0-3-2-2 2 0 2 3 2-3 2 2 0-3 3 1 2 2 3-1 3 1-1 3 3-1 2-2-2-3 1-3-1-2 3 0 2-2 2-3 2 2 3-2-1 3 0 3-3 0 1-3 3-2 2 2 2 2 2 2 3-1 3-2 3 2-1 3 1-3-3-1 2-2 3 1-1-3 1-3 3 2-3 1 2 1 2-2 2 2 3 1 2 2-2-2 0 3-1-3-2-1-1-3 0-3 2-2 3 1 0-3 3-1 3-1 3-1 2-2 3 1 2-2 3-2-1-3 3 0 1-3 6 0 0 4-1-3-2-2-5 0 1-3 2-1 3 2 2-2 3 1 1 3-1 3 3-2 2 2 2 3-1-1-3-1 3-1 3 2 1-3-2-5-2-2-3-1-2 2-3-1 2 1 2 3 1 3 0-3 0-3-1-3-1 3-2 2-3 2 1 3-1 2-3 4-1-3-3-2-2 2-3 0-4-4 2 3 1 2 3 2 0 3 3 0 2-2 2 3 3-1 2 2-3-1 3 0 2-3 3 0 2-1 3 1 5-1-3 2 1 3 2 2 1-3 1-3-1 3 2-3 5 2 3 0-2-2-2-3-2 2-2 2-2-2 2-1 1-2 0-3-2-3-3 0-2-3 0-3 0-2-2-3 0 3-3 1-1-3-2-2-3-1-3 0-3-1-4 1-3 2-3-1-2 2-1 3 0 3 2 2 3 0-3-1 3-1 0 3-2-3 1 3 0 3-2 3-4 3-3 0-2 2 2-2 2-2 0 3 0-3 2-2-2-3 2-2 2 1 4-2-1-3 0-3-1-3 0 3 3 1 1 3 3-2 1 3 3-1 2 3 2-3 0-3 2-1 3 1 3-1 2-2 5 1 3 2 1 4-3 0-2-1 0 2 3-1-3 1-2-2-3-1-2-2-2-2-3 1-5 0-2 2 2 2 3 1 3-1 3-1-3-2-2 2-2-2-2 2-2-2 0-3-3-2-2 0-2-3-3 1-3 0 3-1-1-3-3 1-1-3-3 0-2-1-3-1-1-3-2-2-1-3-2-2 1-3-3-1-3 1-3-1-1-2-3-1-2 3-1-3-3 1-2 2 1-3-2-1-3 1-3 2 2 3-3-1-3-2-3 0 0-3-3 1-2-2 0-3-2-1-3 1-2-2-2 3-3-2 2-2 0-3-3-1-3 1 0-3 0-3-3 1-2-3-2-3 2-2-2-2-2-3 3-1-3 1-2-2-3 1-2-2-1-3-3 1-1-3-1-3-2 2 2-2-5-4 4-3 1 3 2 2 0 3 2 2-3 1-1 4 3 3-3-2-2 2 3-2-3-1-1-3-3 0-5-3 2 2 1 3 2-2 2-2-2 2 3-1 1 3-1 3 3-1 1-3 3 1 3 0 0 3 1 3 6-1 2-2 2-2-1-3-3 2-1 2-3 2-1-3-3-3-1 3 0 3 0-3 3 0-2 2 1 2 2 2 1 3 3 0-1 3 3 0 1 3-3-1 2-3 2 2 0 3 0 3-1 5-3-1 0-3-2 2 1-3-3 0-2-1 0-3-3 0 1-3-2-2-3 0-1-3 0-3 1-3-3-1-2-2 2-2 0-3-2-2-3-2-1-3-1-3 0 3 0-3-1 3 2 3 2 1 0-3 3 1-3-1 2-1 2-4 1 3 3 0 3 0 2 1 5 1 0 3-2 2-3 1 1 3 1 3-3-1 3-1-1 2-1 3-1 3 0 6 3-2 2-1 3-1 3-1-1-3 1-3 2-2-3-1-2-4-3 0-2 3 1 3 0 3-3 0 3 2 1 3-4 4 3-1 3-1-3-1 0-3 0-5 0 3-3 0 1 3-2-2-3 1-3 2-1 2 3 0 1 2-2-2 2 3-3-1-2 3-1 2-3 1 3 1 0 3 2 1-2 3 2 4-1-3-2-2 1 3 1-3-3-1-2-2 1-3 3 0 0-3 3-1 2-1 1-3 2-2 0-3-1-3-3-1-3-4 3-1-3-1 2 2 2-1 1-3 0-3 1 3 2 1 3-1-1-3 3 1 3-1 3 1 2-3-2-2 1-3-3 1 3 0 3 2 1-3 3-1 2-1 4-1 3 1-1 4 0 3 2 3 3 3 4 0 1 4 1 3 2 4 1 3-4 0-2 4 3 2-1 4 1 3-3 3 2 3 4-2 2 3 3 2 4 0 3 2 3 3-4 2 1 4 1 3 1 4 3 3 3 3 2 2 2 4 3-1 3 3-3 2-3 2 3 3 3 3-2 3 1 4 1 4 1 3 2 3 3 3-3 1-3 2 0 4 0 3 1-4-3 2-3 3-4 0-2-3-4-1-3 2-1 4 4-2 4 0 3 2 5-2-3-2 2-4-4 0-4 0-2 3-4 1-3 2-4 1 3 1 4-1 3-2 4 1 5 1-4-2 0-4-3 0-3 2-3 4 3 0 0 3 3 0-1 3 1 3 2 2 0 3-2 2 1 3 3 0 3 1 0 3 2 1-1 3 2 2 1-3 3 0 3 1 2 2 0 3 1 3 3-1 3 1 3-1 3-2 1 3-2 1 3 1 0 3-1 3-2 2 3 1 2 3 3 1 2 2 2 2 3-2-1 3 3 2 3 0 3 0-3 2-3 0-1 2 2 2 1 3 1 2-2 3-1 2 3 2 2 3 0-3-1-3 1-2-3 0 0-3-1-3-2-2-1-2 2-2 3-2-3 1-2-2 1-3 1-3 0-3-2-2 0 3 2-2-3-1 2-3 3-1-2-2 3 1-2-3 3 2-3-2 0-3 1-3-2-2-2-2 3 0 3-1 3 1 3-1 2-2-2-2 0-3-2-2-2 1 1-2 1-3 1-5-4 0-3 0 2 2-3 0-3 0-1 3 1 3 0 3 2 1 2 3 0 3 2-1-2 1 3 1-3-1-3 1 2 2 0 3 2-1 1 3 0 3 0 3-1 2-3-1-1 3 1 3 3 2-2 3 0 3 1 2-5 3 2 2 3-2-3 2 2 2 3 0 3 1-1 5 0-2-2-3-1-3-2-2-2-4 1-2 2-3-1-2-2-3-2-2 1-3 3 0 3 0 0-3 2 1 3 1-1-3-1 3-1-3 2 2 2-2 5 0 3 1-1 3 2 2 0 6-2-2 0-3-3-2 1-2-2 0-3 2-2-2-3 0-2-2-3 0-1-2-2-3-3-1 3 1-1 3 1-3 0-3-3-2 0-3-2-2-1-3 0-3-2-2-2-2-3 2-3 0-1-3-3 0-2 1 1-2-3-1 0-3-3 0 1-3-2-2 0-3-2 3-1-3-2-2-3-2-2 2-1-3 3-2-2 2-2 3 2-2-1 3-3 1-2-1-2 3-3 1-2-2-3-1-3 1-3-1 2-3 3 2 2-3 2-1 2-3-1-3-1-3-2-2-1-3 3-2-3 0-3-1-1-3 1-3-2-2 0-3-3-1 1-3-3 0-3 1-3-1-1 2-3 0-3-1 0-3-1-3-2-2-2-3-1 3-3-2-2-2-3-1 3-1-2-2 0-3-3-1-3 0 1-2-2 2 3-1-3 2-3 1-2 2-3 0-2-3-1-2-1-3-2-3-1 3 2-2-1 2-2-1-3-2 0-3-2-3-3 0 1-3-1-2-1-3-1-3-3 0 0-3-3-2-2 2-1-3-2-1 1-3-2 2-2-3-3 0-1-2-1-3-2-2-3 1 0 3 2-3-3 1 1-2-3 1-2-2 2-2-2 3-2-2 1-2-2-6-2 2 2-1 3 0 3-1 2 2-1-3 1-2 3-2-2-2-1-3 3 0-1-2 0-3 1 3 2 0 1 3 3 0 4 1-1 3-3-1-3-2 3 2 1 3-2-3-3 0-1-3 1-3-2 3-3-2-2-2-1 2 1 3-3-1-2 2 2-2-3-1-3 0 1 2-3 1-2 1-3-1-1 3-2-3-2 2 0 6 2 2 1-3 3 1 3-2 2 2 3-2 3 1 4 0 2-2 1-2-2-3 2-3-3-2-4-4-3 1-1 3-2 2-2 2 1 3-2 3-1 2 2-2-2 3 4 4-2-2 2 2 3-1 2-4 0 3 3 1 4-1-2 3-3 0 3-1 0-3-6-2-3-1-3 1 0-3-2-2-1-5 2-1 3 1 2 2-3 1-1 3 0-3 2 1-1-2-3 1 3 2 1-3 2-2 3-1-1 3 3 2 3-1 2 5-2 2-1-3-3 0-1 3-1 3-2-2 0-3 0 3-3-1-3-1 2-3-3-1-3-1-5 2 3 3 2-4-1 4 3 3 4-1 0 4-3 2 4 0 3-1 0 4 3-1 1 4 4 1 1 3-1 4 4 1 4 1 3 1 3 3 3-2 4 0 1 4 4 1-2 3 1 4 2 3 1-3-1 4 1-4 0 4 3 2 4-2 3-1 0-3 4 0 5 0 2 2 2 4 3 2 2 3 0 4 2 3 4-1 3 2 4 0 0 4-1 4 4-1 3 2 4 2 3 2 3 2 0 4-1 4-1 3 3 2 4 2 3-2 4 2-4 1-3 2-2-3-3-1 2-3 0-4-3 3-2-3-3-2-4 0 2-3-1-4-2-3-5 0-1 3 4 1 0 3 0 4 4 1 3 0-2 2 3 0 4-1 3 3-1 5-1-3-3-3-2-3-3-3-2 3-2-3-4-1 4-1-1-3-3-3-1-3-3-3-4 0-4-2-3 0-1-4-3-2 3-2-4-1-4 1-1-4-2-5 4 0 3 2 4 1 4 0 1 4 4-1 0 3 3-2 2 4 3-2-2 3 2 4 3 2 4 0 4 0 2 3 0 3 3 1 0 4 3-1 0 4 4 0 4 1 1 4 0 3 2 3 3 3 3-1-1 4 3 2 0 4 0 5-4-2-2-3-4-1-2-3-3 1-2-3-3 3-3 2-2-4-1-3-2-4-1-3-3-3 0-3-4-1-2-3-4-1-4 1-3-1-3-3 0-4-1-3-2-4-1-3 2-3-4 0-1-4 1-4-1-3 4-1-4-1 2-4-4-4 2 3-2 3 3 2-1 3 3 0 4-1 1 4 4 0 1 4 2 3-1 3 3 2 1 4 3 2 0 4-3 2 3-2 4 1-2 5-4 0 4 1-1 4-4-2-1-3-3 0-4 1-3-4 4 1 3 3 3 2 0 4 2-4 1 4 4 0 4 1-1 4 3 3 2 3 2 3 3 2 0 4 3 1 2-3 1 3 4 0-2-3-3-2-2-3-4-1 2-3-4 1 0-3-2-3-4 0-1-3-3 3-2-3-4 0 1-4-2-4-1 4 0-4-3 1 2-2 4 0 0-4-2 4-1-4 4 0-4-1-2-4-3 2-1-4 2-4-4-1 0-4-3-4 2 3-4-1-4-1-3-2-1-3-4-2-4-2 4 0 2 3 3 2 3 3 3 2 0 4 2 3-2-3 3 3 3 2-3 3 2 3 3 3 1 3-2 4 4 0 3-2 4-1 4 0 1 3 4 1 3 0 4 1 3-2 5 2-3 1-4 2 2-3 1-3-2-4-3 1-2-3-4 0 1-4 3-2-1-4-4 1-3 2-3-3-3-2-3-2-3-1-1-4-4 0 1-4-4-3 2 3 0 6 2 3 2 4 3 2 4-1 2 3-2 3 3 3-2 3 3 0 1 4 3 2 2 3-1 3 3-2 3 3 2 2 4 2 1 4 6 1 0-4-3 3-4-2 2-3-3-2-3-2-4-2-3-2-3-1-3-2-4 0-3-2-4 2-3-2-3-3-4-1 2-3-1-3-4-2-3 0 0-4 2-3-2-3-3-3-1-3-2-5 2 3 3 2 3 2 4 1 3 1 4 2 1 3 5 2 3 0 2 4 4-1 0 4-3 1 3 2-1 4 2 3 2-3 4 1-1-4 2 3-2 3 4 0 1-4 3 3 3 2 1 3-1 4 3-3-3 2 2 3 3-1 4 2-3 3 3-2 4 3 1-4-1-4-3-2-3-1-3-3-4 0 1-4 0 4 2-3-3-2-4-1-3 3-3-3-3 1-3-2-3-3-2-3 1-4-1-3-4-4 3-2-3 1 2 3 4 1 0 4 1 4 2 2 0 4-1 3 5 3 6 3 6 3 6 0 6 2 6 2 7 1 6-2 6 1 6 2 6 2 7 0 5-4 6 1 4 5 5 4 6-2 1 1 2 6 2 6-4 5-2 6-3 6 0 6-2 6 3 5-1 7-5 4-1 6 2 6 3 6 3 5-2 6 4 4 3-6-2 0 3-6 0-7 3-5 3-5-4-4-1-7 1-6 0-6 2-6-2-7 1-2-3-6-5-3 0-7-1-6-1-6-4-6 6-2-3 6-4 5-3 5-1 7 3 6 2 6 0 6 0 2-6 2-6-3-6 0-6-2-6 1-6 4-6-2-6 1-6 2-7-1-6 3-5 4-6 1-6-2-6 1-6-1-7 0-6-2-6-2-6-1-7 0-6 0-6-1-6 4-6 3-6-3-2 6-7 0-6 2-6 1-6-3-6 0 0-3 3-5 2-6 0-6-2-6-2-7 3-5 1-6 1-7 0-6-2-6 2-7-2-6-2-6 0-6-4-6 2-6-4-5 1-4-1 7 1 6-4 5-2 5 0 6 1 7 2 6 0 6 3 6-2 6-2 6 3 6 3 5 3 6 0 7 0 1-2-7-3-5-1-6 4-5-4-4-2 2 1 6 2 6 5 4-2 6 0 7 1 6 1 6 0 7 1 6-1 6-3 6 3 5 3 4 1 7 3 5 2 7-2 6 2 0 6-1 6 3 6-2 6 0 7 1 6 2 6 1 6-1 7 1 5-4 6 0 7 0 5 3 6-2 6 2 6 1 7 1 6 0 5 4 5 1-7-1-6-2-6-1-6-3-6 0-6-2-6-1-7 2-6 0-6 0-6 2-6 3-6 1-4-2 7 1 6-3 6-1 7-1 2-4 6 2 6 2 6 2 6 1 6 2 7-1 5-3 6-2 6-2 7 0 5-4 6 2 7 1 4 5 7 0 6 2 6-1 6 0 6 0-5 4-6 0-6-3-2 2-6-2-5-3-6-3-6 0-6 2-7-1-6 1-6-2-7 1-5 3-6 2-6-3-6 3-5 4-1-3 6 0 4 5 7 0 2-2 3 2 3-1 1-3 3 0 3 1-3-1-3 0 3 0 0-3 0 3 3-1 2-2-2-3 3 1 0-3 1-3-2-2 3 1 3-1 0-3 3-1 2-1 2-2 2-2 3 0-2-2 2-2 2-2 1-3 2-3 2 3-2-3 3-1 3 0 0 3 3 1-3-1 3 0 3 1 2-2 3-2 1-3 2-1 1-3 2-3 3 1 1-3-1-3 2-2-2-1-2-6-1 3 3 0-2 2-2 3 1 3-1 3 3 1 3 1 1 2 1 3 2-1-3 0 3 0 0 3-1 3 1 4 2 2 3 2 0-3 3-2-1-3 0-3 2-3 3 1-1-3-3-2 3-1 0-3 2-4-1-3-3 0-3 0 2-1-2 1 3 0-2 3 2 4 2-2 2 2 1-3 4-2-2 2-3 0 0 3-1 3 3 2 2 2-3 0-3-1-2 3-1 2 1 3-2-2-3 1 0 3-2 1 0-3 2 2 0-3-1-3-1 3-3 0-3 5 2 2 0 3 0 3-2 4 1-3 2-3 3 1 2 2 2-2 0-3 2-1-1-3 2-3 4 1-4-3 0 3 3 0 2-2 3 1 1 3-3 1 1 3 2 3 0-3-3 1 2-3 2-1-1-3-3 0-3 0 0-3 2-2-1-3-3 1 0-3-3-1-3 1-1 3-2 4-3 0 0-3 3 1 2 0-1-3 3 1 0-3 2-1 2-3 2-2 3 0 1-3 1-3-2-2 3-1-1-3-2-2 3 0-2-2 2-2-2-1 2-2 3 1 0-3 0-3-3 0-1-3-1-3-2-2-3-1 3-1 3 1-3-1 1-3 1-3 2-2 2-2 0-3-2 1-2 3 0-3 2-2-3-1 3 2 3-2 1-2-3 1 2-3-3-1-3 0-1-3 1-3-2-3 1-3-3 0-3 0 2-2-2 2 1 3-3 0-2-3-2-2-2 3-3 1-1 2-2-3-5-1 3 0 1-3 1-2 3-2 3 0 3-1-3-2 3 2 2 1 2 3-1-3 3 0 3-1-1 3 3 1 3-1 1-3-1 3-3 1-1 2-3-1-2 1-1-3-2-3-2-2-1-5 2 2 2 2 3-1 2 3 2-2 4 4-3-1-2 2 2-2-3-2 3 0 0 3-3 1-3 1-4 0 2 3 3-2 3 1 5 1-2-1-2-3-3 0-1 3-3 0-2 2-2 2-2-2-1 3-3 1 0-2-2 2-2-2 1 3-2-2-1-3-3 1-3 1 3-1 2-2 3 0 1 3 2 3 3-2 3 1-1-2 0-3 0-3 2-3-1-3 5-4 2 3 0 3-1 3-3-1-3-1 0 3-2-2 2 2-3 2-5 1 2-3-3-1 1 3-1-3 3 1 0 3-1-2 0-3 3 0 2-2 2 2 3 0 2-3 1 3-5 2 2-2-2 3-2-2-2 3 3-1-2-1-3 0-6-1 0 3-2 3 1 2 3 2 0 3 2-2 0 3 2 3 2-2 3-5 3-1 1-2-3 0-3-2-2-2 2-5 0 3 0 3-3 0 1 3 0 3 2 2-2 2 2 2 3 1 3 1-2 3 0 3 3 0 3 0-3 0 2 2 3 1-3-1-1 2-2 3 3 0-1 3-1 2-3 1 0 3 2 3-3 1 3 1-1 3 2 2 3 0 1 3-3 1-1 2 1 3 1 4-2 1-3-1 1 3-3 1-1 2-1 3-3 1 2 2-1 2 3 1 3 0 2 2 2 2-2-1-3 1-1 3 0 3-3 0-1 3-3 0 3 1 1 2 3 2 0-3-1 3 3 0 1 3 3-1 2 1 3 2 1 2 3 1 2 1 2-2 3 0 4 0-2-2-2-3 3-1 1-2 0-3-2-3-3 0 1-2-3-2 0-2-2 1-1-3-2 2-3 1-2-3-2-5-1 3 2-2 3-1 1 2 2 2-1 3-3 4-2-2 3 1 1 3 0-3 1 2 3 2 2 2 3 1 1-3-2-2-1-3-2-2 0-2 3 1 5-2-3-3 1 3 2 2-3 0 3 0-3 1-3 1-2-2-3-1-3 1 0 3 3 0-2-1-3 2-3 0 1 3 2 2-1 3 2 3 1 2-2 5-3-3-3 2-4-1 1-4-4 1-3 0-4-1-4 0 2-3-4-2-1-3-3-2-4 1-4-2-3-1-4-1 0-4-4 1 0-4-4-1-3 1-4-1-1-3-3-2-1 4-4-1-4 1-4 0-1-4-4-1-3-2-4-4-3-2-2 3-1 4-2-4-3 2-5 4 2-4 3-2 5 1 2 4 3 0 1 4 4 2 1-3 5-1-1-4-3-3-2-4 2 4-3 0 3-1-3-1 3-1 0-3 0-3-3-2 0-3 0-3 0-3 1-3 2-2-3-1 1-2 3-2 1-3-3-1-1-2 1-3 2-2-1-3-2-2 2-2-3-1-3-1 2-2-3 0 0-3 1-3-3 0 1-3-1 3-3 1 0-3-3-2-1-2 0-3-2-3-2-1-3 2-2 2 2-2-3 1-2-1 1-3 2-2 1-3-2-2 1-2-1-3 3-2 0-3-1-2 0-3 0-3-3-2-3-1 2-2-3-1 0-3 3-1-1-3-3 1-1-3 1-2-1-3-1 3-3 0-2-2-2-2-1-3-3 0-3 0-3 0 3 0 0-3-3-2 1-2 0-3 3-2 1-3 1-2 0 3 1-3-1-3 1-3 2-2 1-3-2-2 1-3-2 1-2-3-2-1-3-1-2 2-2 2 3-1-3-2-1-3-3-1 0-3 0 3 0 3 2 2-3 0-1-3-5 2-3-1 3 1-1 3-2-2-2 2-3 0 2 2-3 1-3 1 3 1-3-1-1 3-2 0 0 3-5 2-1-2-3 0-1-3 3 0 3-1 2-2-3 0-2-2-4-4 3 1 2-2 2-1 3 1 2-2 3 1 1 3 3 0 3 0 2-2-1 2 2 1 2 5-2 1-2-2-3 0 0 3-2 2-3 1-4 5-3 1 1-3-3 1-2 2-2-2-3 0 2-2 2-2 3-1-3-2-3-3 2-2 3-1 1 3 2-2 3-1 0 3 1 3 3 1 2 2-2 3 2 2 3-1 5-1-1-3 3-1-3-2-1 3-3 1 1-3-3 1 0-3-3-2-3 0 3-2 0 3 2 1-2 3-3-1-3 0-2 3 0 3 0-3-1 3 0-3 0-3 3-1 2-1 3 2 2-2 4 1-5 0-3-2 1-2-3-1 1 3-1-3-1 2-4 2 7 0 6-1 7 0 6 1 4 6 6-3 6-1 6 0 6-2 6 3 0-3-5-3-4-5-6-2-6-1-6 3-3-1 6-3-1 0 7 0 6 1 6 2 6 2 6 3 6 0 6 0 3 0-6-1-7 0-6-3-6-2-6 0-6-1-7 0-6 1-5 5-5 3-6 2-7-2-5-4-4 1 5-4 0-2 2 3 1 4-2 3 1 4-1 3 0 4 4 1 2 3 2 3 3 2 0 4 3 3 4 0 1 4 3 2-1 4-3 1 4 1-2 3-1 4 3 3-1 3 0 4-3 3 4 2-2 3 3 1 2 4 0 3-1 4 1 4-2 3 1 4 1 4 3-3 1 4-4 2-1 3 1 4 3 1 4 1 1 3 0 4 2 3 2 3 4-1-3 1-1 4 3 3-1 4 2-4 1 4-3-2 1 4 2 3-3 0 2 3-4-1 2 3 3 2 2 3 2 4 0 4-4 1-3 0 4-2 3 3 4-1 3 0 3-3 4 4 0 4 3-2 2 4 3-1 4 0 3-3-2-1-3 2-3-1-1-4-1 4-3-3-4 1-2-4-2 4 0-4-4-2 0 4-5 2 2-3 3 2 4-1 3-3 3 2 4-2 3-1 4 1 3 2 2-3 0 4 2 3 4 0 4-1 2 4 3-1-2 3 1-3-3 1-4 0-2-3-3-2-3-2-5-2 2-2 2-3-1-2-3 0 2-2-2-2-2-3 1-3 2-2 3 0 1-3-1-3 3 0-1-2-2-3 2-2 1-3-3 0 3-2-2-2 2-2-2-2 1-3 1-3 2-2 1-3-3 0 1-3 3 0-1 3-2-3-3 0 0-3-3 1 2-3-3-1 2-2-3-1-3 0-3 0 2-2 2-3 1-2-3-2 1 3 3-1 2-2-2-3 1-2-2-1-2 2 0-2-1-3-1-3 0-3 2-2-2-2-3 0 0-3-3 0 3-2 3 0-3 2 0-3 1-2 3-2 0-3-1-2-3-1 1-3-2-1-2 3-3-2-2-2-3 2 0-3-3-1-1 3 0 3-1-3-2-2-3-2-3 1 2-3-1-3 0-3-2-2 2-3-3-1-1 2-3 1-3 0-3-1 3 1 0-3-3-2-3 0-3 1-2 1-2-3 1-2-2 0-1-3-3-1-1-3-2-2 1-6 4 3 1 3 3 0-3 1-3 2-2 1-2 3-3 1-2 2 1 3-2-3-3 1-3 0-3-1-2 1-5 3-3 0-2-2 3-1 0 3 3 0 3-2-2 3 3-2 1 3 3 1 0-3 2-2-2-2 3 0 4-2 2-2 3 1 3-1 2-2 1-3 0 3 0-3 3 1 1-2 5-2-3 0-2 3-3 0-3 1 0-3-3 2 1-3-1-3-4 0 0-3-3 1 0-3-1 3 3 1-2 2-1 4 2-2 1-3 3 0 3-1 4 3 3 0-3-1-1 3 2 2 1-2-1 2 2-2 2-2-2-2-3-1-3 0-1-3-1 3-3 0-6 1-3 0 0 3-3-1-2 3 2 2 1 4 3-1 2-1 3 0 2-2 1 3 2 1 3-1 3 0 3 5-2-3 0-3 1-3-3 1 0 3 0-3-3 0-3 1-3 0-3-1 2-5 2-2 3 2 1-3 0 3 1 3 3 0 2 3 3 1-3-1 2-2 3-4 3-1 3-2 2-1 3-2 3 0 2 1 3-2-2-3 3-2 3 1 4 0 3 1 0 3 3 0 1 3 0 3 0 3 2-2 3 0 0 3 5 2-1 3-2-2-2 2-3 1-5-3-3-2-2 2 2 2 1 4-2-2 0-3 3-1 3-1 4-2 1 3 3-1 2 0 3 2 1 3-2 2-3 0 2 3-2-3-1 3-2 2 2-2 2 3-2 2 0 3 5 1 0-3-3 0-1-3-1-3 0-3-1-4-2 2-1 3-3-1-3 1 3 1-3 1 0-3-2-2-3 0-1 3-3 0 3 0-2 3-5 3 3-1-2 2-1 3 2 1-1 2-1 3-2 3 1 2 2 3 2 2 0 3 2-2-3 0 2 3 2 1 4 0 2-1 3 1 2-3-2-2 0-3-1-3 0-3 3 0 0-3 3-1 3-1-1-3-3 0-2-2 0-5 0 3-2 2 0-3 2 2 3-2 2 2 2 2 3 2-1 3 3-1-3-2 3 2 2 1 1 6-3 0 0-3-2-3 1-3 1-3-3-1-2-2-3-2 0-3-2-1 2-2-1-3-2-1 2-2-3 1-2-2 2-2 0-3-3-4 0 3 3 2 2 1 3-1-1 3 3 0 2 3-3-2 2-1 0-3-2-3 3 0-1 3 2-3 2 2 1-3 1 3 3-1 3 1 3 4-2 0 1 3 0-3 2 2-1-3-2 3 1 3 0-3 2 2 1 3 1 3 2 2-3 0-2-2-2 2-1 3-2 1-1 3-3-1-3-1-2 2-3-2-3 1 3 1 3 0-1 3-1 2-5 4 0 2 2 2 0-2 2 2 1 3-1-3 2 3 2-2 3-1 2-1 3-5 0 3-2-2-1-3 0-3-2-3-2-2 1-3-2 3 1-3 0-3 2-2 1-3-3 0-3 0-1-3 0-3-3-1-2-2-2-1-1-3-2 2 3 0 2 2-2-2-2-2 0-3 3 0-2-3 3 1 5 1-3-1 2 2-3 0 3 1-3 1 3 0-2 2-3 0 2 2-1 3 2 2-2 2-2 3 3 0-1 3 1 3 0 3 3-1-2 2-3 1 3 1 3 1-2 3-3 4-4 0 0-4 2 3-2 4 2 3 2 3 0 4 4 0 3 3-3 2 1 4 3-2-3 2 4 0-3 2 2 3 1 4-3 0 3 0-1 3 3 3 2 3 0 3-4 2 3-2 4 0 0-4 1 4 3-3 3-1-4 0-2 2 2 4 5 0 2 3 1 5-3-3-1-4 0-3-4 1-3-1 2-3 0-4-4 0-3-3 4 1 3 0 4 2 4 0-4 1 2 4 3 0-2 3 4-1 0 4 2 3-1 4 4 1 1 4-2 3 3-2 2-3 3 3-1 4 4 0 4 0 3 2 4 3-4 1-3 2-3-3-2-3-4-1-3-1-4 0-4 0-3-2-3-3-3 0 1-4-2-3-4 0-4 0 1-4-3 2-1-4 0-4 0-4-1-3-3-3 0 4-1-4-3-2 3-1-2-3 2-3-3-2-1 4-3 3-2-3-4-1 1-3-3-3 4 1-1 4-4 1 1 4 2 3 4 1 4 0-1 4 4-1-1 3 3 3 3-1 3 3 6 1-4 1 0-4 0-6-1 4-2 2 2-2 0 3 4 2 1 4 3 2 3 2 4 1 1 4 3-2 3 3 3 2-1 4 0 3 1-3 3 2 3 3-2-3 1-4-1-4-3-2 0-4-4 2-1-4 0-4-4 2-2-3 3-2-4 1-3-3 2-3-2 3 3 0 1 4 1 3 3 2-1 4 2 4 4 1 3-2 4-1 0 4-1 4 2 3 3 1 2 4 5-1-2-3-3-3-1-4 3-2-4-1-3-3-4 1 0-4-3 2-3-1-3-3 0-4-3 2-2 3-4-1-3 0-4 0-4-1-2-3 3-3-1-3-3 2-2-4-3 0-1-4 2-3-2-3-3-2 0-4 3 3 2-3 2 3 0 4 4 0 2 4 3 2 4 0-1 4 3 3 5 2-4-2 1-4 1-4 1-3-3-1-2-3-3-2-4-2-3-2-3-2-2-3-3-1 2 4 2 2 0 4 4 0 3 0 3-2-3 2 4 1 2 3 4 2 3 1 3 3 4-1 2 3-2 3 3 3 0 4 1 3 1 4-1 3 3 3-1 3 2 3 3 5 3-2 4 2 3 0 1 3 6 3-2-4 2-3-3-3-4-1-3 1-3-2 0-4-3-2-2-4-3-1-3-2-2-3-3 2-3-2-4-1-2-3-1-4-1-3-3-2-2-3-2-3-4-3-2-3-4 0-2-3-3-2-4-2 4-2-3-2-1-4 1 4 4-1 1-5 4 2 3 1 4 2 0 3 2 3-1 4 4 1-3 2 3-1 1 4 3 3-2 5-2-3 1-4-4-2-1-3-3-1-4 1-2-4-4 1 3-1-1-2-1-3-3-1-2-3-2-2 3 0-1-3 2-2-2-4-2-2 3 1 3-1 1-3-1 3 3 0 1-3 2-2 2-2-2-1 2-2-2-2 2 2 1-3 3 0 3-1 4 1 2 2-3-2-3 1-1 2-3-2-2 2 2 2 0 3-2-2-3 2-3 1 3 1 2 2-3 2-1 6-3-2 0-3 3 2-1-3 3 1-2 3 0-3 1-3 3 1 3 0 3-2-2 3 3-1 2-3 1-2-1-3-3 0 3 1 2 2 5 3-3 0-3-1-3-1-3-1-2-1-1-3-3-1-2-2 2-3 2-1-2-2-3 0-5 3 1 3 2-2 2 3-1 3 3-1 3 0 3-1-3-1 1-3-2-1-3-2-3-1 3 0-2-2 3 0-1-3-2-2 2-3-3-1-3 1 3-1-2-2-3-2-2-5 3-2-3 0 2 2 0 3-3 0 0 3-3-1-1 2 0 3 4 3-3 0 2-1 3-2 3-1 2 0-2 2-3 2-2 1 3-1-3 0 2 1 3 0-2 2-2 2-1 2-3 2 1 3-1 2 2-2 1 3-1 3 3 2-1 2 0-3 2 2-2 2 3 1 1-2 3 2-3-2 3-1 1 3 1 3 1 2 3 1 3 0 3-1 3 1 0-3-1 3 1-3 2 3 4 1 5 1 2-2-3-2 2-2 1-3-1-5-4-3-3 2-2 0-3 2 3-2 2 2-3 1 3 1 0 3-3 1-2 2 4 4 0 3 2 2 3 1 2 4-3 0-2-3-1-2-3-2-2-2-3-1-5 1-2-2-3 1 0-3-2 2 1-2 2-2 3-1 3-1 3-1-1-3-3-1-3 2-2-3-1-5-1-3-3 0 1 2-2-2-2 2 1 3-1 3-3 1 1 3 0 3-6 0 2 4 2 3 4 1 0 4-1 3-1 4 3 2 1 4 1 4 3 2 2 3-2 3 2 3 3 2 4 0 1 3 2-3 2 4 4 1 3 2 1 4 3-2-1-4-2-3-3-2-1 4 0-4-2 3-4 0 3-3-1-4-6 0 4 0-1 4 1 4 4 0 1 3 3-2 3 1 4 2 1-4 3 2 3-1 3 2 4 0 4 1 0 4-2 3 4 5 0-4 0-4-3-1-3-2-1-4 0 4-4 0-3 2-4 1-3 1 1-3-4-2 0-4-3 1-4-1-3 2-4 0 3-3-3 0-2-3-1-4-2-3-3-3-3 1 3-1-3 0 0-5 1 3 4 1 2 3 4 2 3 2-1 4 4 2-1 4 3 2 3 3 2 3 3 4-2 3 3 3 4 1 5 2-2-3 4 0 2-4-3-3 0-3-3-3 2-3-4-1 1-3-4-1-1-3-1-4-2-3-3 1 0-3-4 0-1-4-4-1-3-1-3-3-3 2-3-1 4 1-3 2 4 0 2 2 1 4 4 1 1-3-2 3 2 3 2 3 4 2 2 3 3 3 2 3-2 3 3 2 3 2 4 0 1 4 4 0 2 4 0 3 2 3 3 2-1-4-1-3-6 0-3-2-4 1-3-2-3 1-4-3-4-1-4 0 0-4 2-3 4-1-3-3-3-2 1-3-3-3 3 3 0-4-1-3-1-5-2-2-1 6 3 2 0 4 3-1 3 2-3 2 0 4 4 3-3 2-3-3 1-3-4 0-2-3-3-2-2-4 2-3 2-3 2-3-1-4 0-4-2-3-4-2 3-2 6-1-4 1-4 1-3-1 2 4 3 2 2 3 0 4 3 2 3 2 4 1 1 4 4-1 2 3 3 2 3-3 3 0 0 4 4 0 4 2-4 1 3 3-2 3-2 3 4 2 3 2-1 4 0 4-2 3 2 3 1 5 3-2 2-3-1-4-1-3-4 0-3-1-1-3 0-4-3-2-1-4-4-1-3-2-4-1-3-2-4-1 0-4-1-4 2-2 2-4-4 0-3-3-3-1-3-3-4 2-3 0-1-4-2-2-3 6-1 6-1 6-1 6 0 7-3 6-3 5-4 6-5 3-5 4-3 6-2 6-2 6 0 6-5 5-1 6 0 6 0 7-3 5-4 5-2 7 0 6-1 6-3 6-4 5-3 6-4 5-2 6 0 3 6-1 7-1 5 3 7 0 6-1 6-1 6-3 6 3 1 0 6-3 5-4 6 0 7 1 6-1 6 3 6 2 6-1 6-2 6-3 6-1 6 2 6-2 7 1 6-2 5 4 1-3 5 3-6 3-6-2-5 4-6 2-7 0-6-1-6-2-6 2-6-3-1-5 6-1 5-4 6 3 3-5 6 2 0 7 2 2-7-1-6 1-4 1-6-1 0-3 3-1 0-3-2-2 0 3 1-3-3 0 2-2-2-2 0-3-2-3 3 1 2-3 0-3-2-2-3-2-2 1-2-2 0-3-3 0-1-3-2 1 2-2-3-1 3-2-3 1-2-1 2-2-2-1-1 3 1-3 3 0-1-3-1-3-2-2 1-3-2-2 0-3 3 1-1-3 2-3-1-2-3-1-1-3-1-3-2-2 3 1-3-2-3 0 3 0 0-3-2-3 2-2 3 0 1-3-2-3 3-1-3-1 3-1-3 0 0-3-3 2 2-2-3 0 0-3-1-3 0-3 2-2-3-2 2-1 1-3 2-2-1-3 3-1 3-1-2-2-3 0-3-2-3 0-1-3 0-3 2-2-3-1 3-2-3 2-3-1 1-3 2-2 2-2 3-2-3-1-2-2 0-3 2 2 2-2 2-2-3 1 0-3-3-2 1-3 3 0 0-3 2-2-1-3-1-3-3 0 1-2-2-1 2-3-3-1-1-3 3-2-2-2-3-2 0-3 2-1-2 2 3 2 2-2 1-3-1-2-1-3 0-3 2 2-3-1 0 3-3 0 1 3 3-2-1 2-3-1-3 0 0-3-2 2-1 3 2 2-3 0 0 3-2 5 3 0 3-1 0-3 0-3-2-2 2 1 3-1 1 3 3-1 3 0 2 1-1-2 2-3 0-3 2-4 1 3-2-2 0 3 2-2-1 3 0-3-3 1 0-3-4-4-3 1-3 0 0 3-3 0 3-2-2 2 3 0-3-2-3-1-2 2 0-3-2-2-1 3 1 2-3 0 2 3 2 1 1 3-4 3-2-3 3 1 3 0 5 2 3 1 3 0 0-3-3-1 2-3-2-2-1-3 1-3 2-4 0-3-2-3 1-4-2 3 2 2 0 3 3 1 2-2 2 1 3 1 3 0-1 2 2 3 3-2 5 1 2 3-3 0-3-1-1 3-1 2 0 3 0 3-3 0-1 2 1 3-3 0 0-3-2 3-1 2-3 0-3 0-5 0 2-2-2-2 3 0 2-1 3-2-1-6-2 3-2-3 2 3 3 0-2 2 2 2 2 2-2 3-3 0-2 2 2 2 1 3-3 1 3 0 2 2 2 2-1 4 0-3 3-1 4-4-1-5 0-3-2 0 2-2-1 3-3 0-3-2-3 0 0 3 1 3-1-3-2 2-1 3 2-3 0-3-2-2-3 2-4-4-2-2 2-3-3 2-1-3-3 0-3-1-3-1 0-3-2-2 1-3 1-3 2-2 3-3-2 3-1 3-1 4 0 4 2 3 0 4-4 2 4 1 1 4 3 1 3 3 0 3 2 4 0 4 2 3-3 2-2 3-2 3 2 3 1 4-3 0-3 2 0 4 3 2-1 4-3 3 4 1 0 3 0 4 4 0-1 4 3 3 3 2 4 0 2 3-3 3-2 3-4 1-2 3 2 3 3 2 0 3 3 3 1 4 1 3-2 3-1 4 3 3-1 3 2 4-1 4 3 1 4-1-1 4 4 2-3-3-2 4-2 3 2 4 4-2 3 2 3 2 4-2 3-2 4-1 3-2 2 3 3-1 2 2-3-2-3-2-3 3-3 2-4 1-3 2-4 0-3 1-4-1-3-1-4 1-2 3-4 0-5-1 4 1 3-2 4-1 3 1 2 4 4 0 3-2 4 0 3 2 3-3-1-3 3-3 2 4 2 2 5-2 0-1-3-2-4 1 2 3-4 0-3-2-4 1-2-3-2 3 0-4-3 2 1-4-4 0-4 2-3-2-4 1-1 3-4 1-3-1 3-1 4-2 3-2 4-1 4 1 3 1 3 2 2 6 3-2 3 2 4-1 3 1 1-4 4 0 1-4 4 0 1 4 4 0 2-3 1-4 2-3 2-3 4 1 3-2 0-4 4-1 4 0 0-4-3-2 1-4 1-3 4-1 3-4-2 2-4 0-4-1-2 3 2 0-4-3 3 1 2 3 4 2-1-4 3-3 3-2 3 1 1 5-2 4-3-2-4 1-2-3-4-2-3 0-1-7-1-6-1-6 3-6-6-2-3-5-6-4-2-6-1-6 1-7-2-6-4-5-4-5-3-6-1-6-2-6-1-7-6-2 1-7-1-6 2-6-1 0-5-4-7 2-6-1-6 1-7 1-5-4-6-2-5-4-6 1-3 1 7 2 6-1 6 3 6 0 7-1 6 2 5 3 5 4 6 3 4-4 2 3-7-1-6-1-6-3-4-5-5 5-6-2-6-2-6-1-6-4-5-3-6-1-6 3-5 4-7 0-5 0 5 3 6-2 1 0 6 0 6 1 7-1 6 2 6 1 6-1 2 6 5 0 3-1 3 2 3 0-2 3 3 0 0 3-1 3-3 1 3 1-3 1 2 2-1 3 3 0 1 3 3-1 2 2 1 3 1 3 1 3 2 2-1 3 2 2 2-2 1-3-1 3 3 0 1-3 0-3 3 0 2 3 3 0 3 1 1 2 1-3 0 3-2-2 3 0 3-2 1-3 3 0 2 2 3-1 3 1 2 1 3-1 3 2 3 0 0-3-3 1 2-1 3 1 3-1 3 0 1 3 3 0 2-3-3 1 2 3 2 2-2 2 3 1 0 3-2 2 1-3 3-1 2 2 1-3-3 0-2-1 1 2-1 3-3-1-1 3 0 3-2 2-2 3 3 0 2 2 3 2-1 3 3 0-1 3 2 2-2 2 3-1 3 0-2 2 0 3 3 1 3 0-2 3 3 1 3 0-1 3 3 0 2 2 3 1 3 0-1 2 3-1-2 2 3 1 1 5 0 3 1-3 2 3 2-2 0-3 3-1 0 3-1 3 2-2 3-1 3 2 2-2-2-2-2-2-2-2-2 2-3-2-3 0-1-2-3-1-3-2-3 1 0 3-1 3 1 3-3 1 1-3-3-1-2 1-4-3 3 0 3 0 3 2 2 2 1-3 3 0-1-3 2-3 2-1-1-3 6-1 0 3 1 2-1 3-2 2 3 1-1 3-2-3-2-2 1 3-3 1-2 3-2-3-1-3 0-3 4-4 2 1 0 3 0 3 1 3 3 1-2 2-2 5 1-3-2 2 0-3 1-3-2 2-2 1-3 1-3-1-3 0-2 2-3 0 1 3-3 0-2-3-3 0 3 2-3-2-2 3-4 1 2 2 5-2 1 3 2-3 3 0 1-3 0-3 3-1 5 2-2-3 3-2-1-2 3-1 3 0-3 0 3 1 2-3 2-1 5 2-3 2 3 2-3 1-4 2 0-3-2-3-3 0-3 0-1-6 2 0-2-2-3 0 1-3 2-2 3 0 0 3 1-3 2 3 3 0 1 3-3 1 2 2-2 2-2 2 4 3-4-3-5 3-5 4-3 5-6 4-6 0-6 2-4 5-6 2-4 5-7 0-5 4-4 5-7 0-4 4-6 3-5 3-5 4-6 2-4 5-6-2-7 0-4 4-4 5-7 2-4 4-6 1-6 3-5 5-5 2-6 2-7 1-5 4-1-1-3-5-1-6-3-6 2-6-4-5 2-6 1-6-1-7-1-6-1-6 0-7 4-5 4-5-3-6 3-5 0-7-5-3 2-6-2-6-1-2 4 5 0 6 6 2 4 5 0 6 1 7 4 5-1 4-2 7-5 4 2 6 1 6-3 1 1 6-1 7-1-1-2 6 3 6 3 6 0 6 2 4 9-3 7-6 9-2 8-3 9 1 9-3 8-3 9 0 9-2 9-4 8 0 1-2-2-9-2-9-1-9-4-7-4-8 1-9-1-9-1-9-2-9-3-9 3 1-8 5-6 7-8 4-9 2-7 5-7 6-9 3-8 3-8 4-4 3 1-9 1-9 1-9 3-9 2-8 2-9 0-9 3-9 2-8-1-9 4-9-2-9 1-2 7 5 7 5 3 9 6 6 7 6 6 7 8 5 5 7 5 8 5 7 6 7 6 6 7 6 4 8 7 5 6 7 7 5 7 6 7 6 6 7 9 2 6 7 8 3 8 5 3 5-8 3-6 7-8 4-7 6-5 7-5 8-7 5-8 5-2 8-6 2-2-8-4-8-7-6-4-8-6-7-6-7-4-8-3-8-4-8-4-8-1-9-3-9-6-6 0-9-4-9-3-8-2-9-3-8-4-8-3-9-3-8 0-9-5-8-4-8 1-3-7 6-5 7-9 3-6 6-8 5-5 7-3 9-1 1 2 8-2 9 0 9-1 9 2 9 0 9 0 9 2 9 0 9 0 9 4 8-1 2 6-6 6-7 6-7 6-6 7-7 4-7 7-5 8-4 6-8 6-6 7-6 8-4 6-7 3-8 7-7 7-5 6-7 9-3 6-6 6-7 7-5 7-6 1 0 2 9 6 7 5 7 5 8 2 8 6 7 6 7 5 8 3 2-8-4-9-2-9-1-9 0-9 1-8-4-9-2-8-3-7-6-9-1-9-2-8-3-9-1-9-2-9-3-8-3-8-4-9-2-8-3-9 3-9-2-4 0-2 3-2 2 0 3 3-1 3 1 3 1-3 1 0 3-3 1 2 2 0 3 3-1-3 2 2 2 0 3-3 0-3 0 3 2 0 3 2 2 2 2-3 1 3-2-1 2-1 3 3 2 1 2-1 3-1 3 0 3 3 1 3 0 2 2-2 2 3 0 1 3 3 1-2-2 0 3-2 2-2 2 3 0-3-1-3 1-2-2-3 0 1 3-2-2 2 2 0 3 2 2 1 3 3 1 2 3 2 2-2 2 0 3 3 2 1 3-1 3 1 2-3 0 2 3 2 2 1-3-2-2-3-1-1 2 1 3 0 3-1 3-2 1 2 0 0 3 1 3-3 1 2 2 2 2-2 3-1 2-3 2-2 1-3 2 2 2-1 3 2-3 0 3 2 3 3 0-2 3 1 2-2-2-2 2-2 2 2 2 3-2 1 3-2 5 5 0-2 2 2 2 0 3-3 1-4 0 2-3 5 1-2-2-3 0 2-2 2-2 2-2-2-2-3-2 2 2-3-1-3 0-3 0 2 2-2-2-2 2-3 2 0 3-3 3 1-3-3 1 0-3 2-2 1-3-2-2 3 1 2-1-2 1 3 0 0-3 0-3 0-3 2-2 1-3 1 2 1-3-1-3 2-2 1-3-4-3 1 3 2-2 0 3 3-1 1 2-3 2-2 2 2 2 4 4 3 1 2 3-1 2 0 3-1 3 3 1 1 3-3 1-3 3-3 0 2-2 1-3 1-4-2-3 1-3 3-5 2-2-2 2 2 2-1 3 2 2 3 2 2 1-2 2 0 3-2 2 4 4-3 0-2-2-2-2-2-2-3-2 2-3 2-1 0-3 0-3 3-1 2-2-1-3 0-3-2-2-1-3 3-1-3-2 3 2 3 0 2-2 2-1 1-3-1-3 3-2 2 0-1-3 3-1-3-1 3-2 2-2-3-2 0-3-3 0 3-1 2 1 2-3-1-3 0-3-3 1-3-2-1-3 2-2 2 2 1-3-1-3-1-2 0 3 2-2-2-3-1-2-3-2 2-2-2-3-1 3 1-3-2 2-3-1 0-3 1-3-1-3 2 3 3-1-3-1 2-2-2 1-2-3-3 1 3 1 1-3 3-1-2-2-1-3-2-2 3-1-2-2 2 1 3 1-3-1-1-2-3-2-2 2 3-1 0-3 0-3 3-1 0-3-2-2 2-3 2-1-2-2-2-2-2-3 3-1 3-2-3-1 3 1-1-3-3 0 0-3 2 2 3 0 1-3-3-1 2-3-1-3 2-2 2-2-3 1 0-3 2-3 3 1-3-2 0-3 0-3-2-1-3-2 1-3 3-1 3-5-3 0-2-2-3-1-2-2 3 0 1-4-1 3 0 3 2 2 3 1-3 0-3 2 2 3-1 2 3-1-2 3-2 2 2 5 2-1 2-2 2-2 1-3-3-1 0-3 2-2-3 0 1-3 1-3-3-1-4-2-2 2-2 2 3 1-2-2-2 3-1 2 0 3 3 0 4 3 3-1 3-5 0-3 1 3-3 0-3 2-2-1-2 2-2 6 1-3 1-3 1-5 3 1 0 3 1 2 4 2-2-2-3 0-4-5 3 1 3 1-2 5-4 0 3 1 3 0-3 1-2 1 1 3-2 2 3 2 3 1 0 3-3-1 0 3-2 1-2 2-2 3 0 3-2 2-1 3 1 3 2 1 0-3-3 1-3 2-2 2-2 2-2 2 3 1 0 3 3 0-1 2 0 3 1 3-3 2 3 0 2 2 2 2-3 0-1 3 0 3-1 2 1 3-3 2-2 2 1 2 0 3 2 3 0 3-3 1 3 2-2 2-1 3 1 3-3-1 3 1 2 2-1-2-1 2-3 1-3 0 0-3-2 3 0 3 3 2 2-2 3 0 3 2-3 1 3 1-3 1 1 3 3 0 0 3-1 3 1 3-3 1-1 2-3 0 1 3-3 0 0 3 2 2 1 3 2 2-2 1-3 4-3 1 2 2 2 2 0 3-3-1 3 2-2 2-2 3 2 2 2 1-2 1-2 3 1 3-1 2-3 1 1 3-3 2 0 3 2 1 2-2 3 2 2 2 2 2 0 3-2 2 1-2 2 3 2 2-3 1 2 2-1 3 0 3 0 3 3 1-1 5 1-2 3-1 1-3-3-2 3-1 0-3-1-3 2 3-3-1-2 1-3 1-1-3 0-3-3 0 3 0-3 0-3-1 2-2-3 2-1-3 3-1 2-2-1-5 2-3-2-2 0 3 0-3 1-3 2 1 5 0-3 0 1 3 1 5 0 3-1 4-2 2 0 3-2 1 2 2 2 3-2 2-2 3 1 3 3 0 3 2-2-2 1-3-1-2 3-1-3 0 2-3 3-1-3 1-3-2-2-2 3 0 2 2-3 0 3-2-3 0-2-3 3 0-2 1-1-3 3 1 0-3 2-2-2-2 2-5-3 0-2 2 1-3 0 3-3-1 0-3 2-2 1-2 0-6 3 1 2 2 0 3-3 0-3 1 1 2-3 0-3 2-3 0 1 3 1 3 3-1 2 2-3-1 3-1 2 1 2 3-1 2 3-1 1 2-2 3 2 3 2 2-3-1-3 1 3-1 2 2-3 1-3 2 3-1 3-2-3 0 0 3 3 1-3 2 1 5-3-1-2-2-3-1 3-1 1-2 0-3 0 3 3-1 0-3 2-3-1-3-1-2 2-2-1-2 2-1-1-3 3 0-1-3 2-3 3 0-1-3 0-4 2-2 3 0-1 3-3 1 0 3-3 1 2 2 0 3 0 3-1 2 2 2 3-1-2 2 2 2 2 3-2-2-3 1-2 2 2 3-2-3-2-1 1 3-1-3 2-2-2 1-1 3-1 3-3 1-4 1-3 1 1 3 1 3-1 2 3 0 3 0 4 0 3-2 2-3-1-4-2-3-4-1 0-4-2-3-2-3 2 3 3 0 4-1 0 4 2-3-2-3-3-3-1-3 3-2 3-2-1-4-1-4 0-3 1-4 2-3 1-4 4 1 3-3 0-4 3-2 4-1-1-3 2-4 3 2 1-4 4 1 2-3 3-2 1-4 4-2 2-2 3-3 3-2 3-3 1-3-4-1 1-4 1-4 2-3 2-3-4 0 3-2 3 3 2-3 0-4 3 2-4-1 1-4 3-2 1-4 0-4 3-2 0-4 2-3-2-2-1-4 3-3 2-3 0 3 3 3 3 0 2-5 4 0 4 2-2 3 2 4 1 3 4 1-1 4 4 0-3 2 0 4 3 2-1 4 4 0 3 1-4-1-4 0 1-3-3-3-3 0-4 0 2-3 1-4 2-3-1-4 1-3-3-2-3 2-4-3-3-1-2-1-3-3 2-3-2-3-4-2 0-4 0-4-5 0-1-5-2 3 4 1 3 2 0 4-3 2 4-2 3 1 4-2 0 4 3 2 0 4 3 2-2 3-2 3 4 0 3 3 3 2 3 3 0-4 4 0 2 4 1-4 0-3-4 0-3 1-3-2-4 1-1-4-3 1-4-4-1 4 4 2 4-1 3-1 1 3 2 5-3 0 2 3 3 1 0 4 1 4 1 3 0-4 1-4 1-4-4-1 4 1 1-4-3-3-4-1-4 0-2-4-1-3 2-4-2 4-3-1-4 1-4-1-3-3 3 2 1 3 4 1 2 3 1 4 4 1 0 4 4 2 1 3 2 4 4 0-3 3-2-3-3-2-2 3-4-4-1-4 3 3 1-4 1 4 3-1 4 1 3 2 1 4 6-1-2-3-4-1-2-2-1-4-4 0-3 0-3 3-1-4-1-4 0-4-4-1-4 1 3-2 3-3-4-1-3 0-4 2-3 0-4-1-3-1-2-4 3-3 1-3 1-4-4 0-3 1-5-3 4 1 3 2 0 4 3 2 3 2 0 4 3-2 3 2 2-3 4 1 3 2 3 2 2-3 2 3-2 3 4 0-1 4 3 2 1 4 1 3 2 3-4 0 3-3-2-3-3 1-3-2-3-3-3 1 0-4-3-2-3 2 3-3-1-3-4 1-2-3-1-5 3 1 2 3 0 4 1 4 3-2 3 2-1-3-2 3 1 4 3-2 3 2 4 0 2 3 4 5-2-4 1-4 3-2-3-2-1-4-3 0-4-1-2-3-4 0 0-4-3-2-2-3-1-2 0 3 2 3 4 0 1 3 4-1 2-3-1 3 2 3 2 4-1 4 1 3 3 0 2 4-2 3 3 0 4 1 4 2-1 3 0 4-3 2-1 4 3-1 3 3 4 0 3-2 4-2 1 3 3 3 0 4-1 3 3 2 2 3 3 3-3 0 3 1 4 0 3 5-3-1-6-1 6 0 0 4 4 0 5-3-4-1-4 0-3-1-2-3-4 2-5 2 0 4-6 0 4 2 3-2 2 3 1-4 2 3 3-2 5 0 0-1-3-2-4 1-3-2-3-3-3-1 0-4-4 0-4 4 6 3 5 5 5-3 7-1 5-3 6 2 6-2 7 0 6 1 6 3 6-1 5 4 3 5 7 0 5 4 3-2-3 5-2 6-1 6-4 3 3 0 1 6-2 6 3 6 2 6 1 6 0 7 3 5 0 7-1 6 0 6-2 3 2-6 4-6 1-6 1-6-4-5-3-6-3-5 2-7 0-6 4-5 1-6 3-6 0-6-1-6-6 0 0-2-5 4-5 4-1 2-3 3-3 0-3-2-3-2-3 3-3-3-3 2-3 2-4-1-3 2-3 2 1 4 0 3-4 2 0-4-4-1-3-2-2 4-3 1-4-2 0 4-3 1-4 0-1 3-4 0-3 2-4 0-3 0-1-3-4 1-2 3-3-3-3-2-4-1-3 1-3 0-1-4-4-1-3 2-4 1-1 4 0-4-4 0-2 4-3 2-3-2-5-1 4 2 1 3 4 0 4-1 1-3 3 2 1 4 3 2 3-1 4 1 3-2 2-3 3-2 3 2 1-3 3-4-3 3-4 1-3 0 2-4-4 0-4 0-3 2-2-3-4 0-4 1 0-4-4 1-4 1-3 2 4 0 2 4-2-3-5-1 4 1 3-1 4 1 2-3 2-3 1-4 4 1-2 3 3 0 4 1-1 4 3 2 5-3 3 5-1 7 5 4 5 4 3 5 5 4 6 3 4 4 6 4 1 6 4 5 4 5 6 2 1-1-6 1-7-1-4 5-7 0-6 1-6 0-7 0-6-1-6-2-6 2-7 0-6 0-7 0-5-2-7 0-6 1-6 1-6-3-7 1 0-3 3-6 6 1 6-2 6-3 5-3 7 1 4-4 4 1-7 0-6-2-6 2-6 0-6 3-3 5-6-2-6 2-6-1-5 2 7 0 6 1 5 4 7-2 4-1-6 3-5-3-7 1-2 1 6 2 6 3 7-1 6 0 6-2 6-1 6 2 6-2 6-3 6-3 6 0 7 1 6-1 2 3" fill="none" stroke="#3b9a42" stroke-width="1.0" stroke-linejoin="round"/>
<rect x="285.30" y="261.20" width="51.00" height="40.40" fill="#c5dcef" stroke="#55606c" stroke-width="1.2" />
<use href="#mcurl" transform="translate(311.50,285.00) rotate(0) scale(1.050,1.050)" style="color:#e9703a"/>
<rect x="224.20" y="258.75" width="114.30" height="120.45" fill="none" stroke="#231f20" stroke-width="2.4" />
<text transform="translate(356.30,315.00) rotate(-90)" x="0" y="0" font-size="13.5" fill="#231f20" font-weight="bold" textLength="66.20" lengthAdjust="spacing">Dominator</text>
<text x="121.30" y="401.30" font-size="14.2" fill="#231f20" text-anchor="start" font-weight="bold" textLength="145.70" lengthAdjust="spacing" >Psychosocial stress</text>
<line x1="271.60" y1="397.20" x2="280.00" y2="397.20" stroke="#de3c3c" stroke-width="1.9" />
<line x1="275.80" y1="393.00" x2="275.80" y2="401.40" stroke="#de3c3c" stroke-width="1.9" />
<path transform="scale(0.5)" d="M1004 722l4 6 4 5 6 0 6 3 5 0 6-2 5-4 6-3 6-2 6-1 6 3 6-1 6-1 6-3 6 2 6 3 6 0 7 0 6-2 6 0 6 3 6-1 6 3 2-1-6 4-6 2-4 4-6 3-7 0-6 2-6 3-6-2-6 1-7 0-5 3-6-2-6-1-6-2-6 1-6 3-6-1-6-1 6 3 5-3 7 2 5-3 6-3 6-3 4-4 7-1 6-1 5-4 6 1 6 4 6 1 6 2 6 0 6-3 6 0 1 0-6-1-6 0-6 2-6-1-7-2-5 3-5-5-6 1-7 1-6 2-6-3-6-2-5 4-6-4-6 3-6 0-5-5-6 1-3-1 6 2 6 3 5-4 7 0 6 0 6 2 6 1 7-1 6 0 6-1 6 2 6 2 7 1 6-1 6-1 7 1 6 1 6-2 6-2 5 4 5 1-7 0-6 0-6-2-6 2-6 1-7-1-6-2-6 1-6-1-7 0-6 1-6 2-6 0-6 3-1 1 5-4 6-3 6-2 5-4 3-5 3-6 4-5 5-4 4-5 6 1 5-3 5-4 6-3 3-6 6-1 2-6 6-2 2-6 7-1 5-3 5-4 3-6 3-5 2-7 5-5 1-2-6-1-7 1 0-1 2 6 3 6-1 6 0 7-1 6 3 6 0 6 4 5 2 6 0 6-1 4 3-6 4-5-3-6-4-5 0-6-1-7 1-6-1-6-3-6 1-6-2-3 6-2 2 3-6 0-4 5 6 2-1 2-6 0-6 2-6-1-6-2-6-1-7 1-6 0-5 4-7 1-6 1-6-2-6 2-6 2-7 1-6-1-6 0-6-3-6-1-5 4-6 2-6-3-6 0-6-2-6 4-6-2-6 2-7 1-4 5-6 1-6-2-3 2-2 7 0 6-3 6-1 3 1-7 3-5-3-5-2-6-2-7-4-4 4-5 4-3-1-4 2 6 0 7 2 5 0 3 2-7-2-2-2-6 0-6 0-7 0-4-3 5 4 6 1 6-1 6-1 7-2 5 9-2 9 1 9-1 9 0 9-3 8 1 9-1 8-5 9-2 8 2 9 1 9-1 9-3 9-1 8-1 9-2 9-2 9-2 7-6 8 4-2 0-4 0-9-1-9 1-9-1-8 3-9 3-8 4-9 1-9 0-9 0-5-3-1-9-4-8-5-7-5-8-6-7-5-7-7-6-4-8-6-7-6-6-6-7-1-1 8-4 5-8 8-5 7-5 8-5 3-2-1 9-3 9 0 9-2 8-4 8-1 3 9-1 9-2 9 0 9-1 9-1 9-2 9 1 9-2 9 0 8-1 3-2-5-8-6-6-5-8-5-7-9-3 0-4 2 3-1 4 3 3-4 2 0 3-2-3-3 3-1 3 1 4-3 1-4 1 1 4-4 2 0 3-4 1-1 4-4 1-3 3-3 2-3 2-4 1-2-3-4 2 1 3-2 4 1 4-2 3-4 0-3 0 0 4 4 1 3 0-3-1 1 4-1 3-3 2 3 2 3 2 4 1 2 3 1 4 4-1 3 1 1 4 3 2-3 3 3 2 3 3 3 1 2-4 2 3 3 3-1 4 2-3 3 2 3-1 4 1 4 0 2-2 4-1 3 2 4-1 4-1 3 2 3-1 4 2 3 1 2-4 4 1 2-3-1 4 1-4 3 2 4-1 1 4 3-1 1 6-4-1 1-4-4-2-3 1-4-2-3-1-4-1-4-1-3 2-3-2 0-4-4-1-3-2-4-1 2-3-4 0-4-1-1-4 1-4-2-3-4-1-3-2-3-2-4 1-3-1-4-2-4-1-3-1-4 0-4-1-3 0-4 1-4 0-3-2-4-1 3-3-4 1-2-4 3-2 1 4 3 1 0 4 4-1 3 0-2 3 4-1 3-3 3 0 4 3 3-2 3 3 4 1 3-1-1 3 3 2-1 4 1 4 3 2 1 3 2 4 0 4 4 1 2 3 4 0-1 4-1 4-2 3 4-2 2 3 0 3-5 4 0-4-2-3 4 0 4 1 4-1 3-2 3-3 3-1 4 1 4-1 1 3 4-1 2 4 3 0 4 2 3 0 4-3-4 2 2-3-1-4-1-3 1-4 4 1 3-2 3 1 3-3-4 0 0-4 4 1 3-2-3-2 4 1 3-2 1-5-4-1-3 2-3-1-1 4-4 0-2 2-1 4-4 1-4 0-3 2-3 0-3-3-3-2-4-1-3 0-2-4-4-1-3 3-3 0-3 2-3 3-4 0-3 1-4-1 1-4-5-1 3-1 0 4 4 0 4 0 2-3 2 3 3-3 3 3 4 2 2 2 4 2 2-3 4-2 4 2-4 0-4 0-2 2-2 3-4 2-2-3-3-2-3-2 0-3-4 1-3-1 2-2-1 3-4 0-2-3-2-3-2 3 0-3-4 0-4-1 3 3 3-3 3 2 4 1 3 1 4 2 3 2 2-3-1-4 4 0 2 2 4-1 4-1 2 3 3 2 2-3 2 3 4 0 3 2 3-3 4 1 2 3-3 2-3 0-4-2-3-1-4 2-3 2-1-3-3-2-2 3-1-3-3-2-4 2-1-4-1-4 1-3-4 0-3 3-2-4-2 3-4-1-2-3 0-4-4 2-3 1-4 1-3 3-2-3 0-4-2-3-2 3 2 5 2 3 4-1 2-3 0 4 3-2 2 3 4 1 3 3 3 0-1-4 1 4 1-4 4 2 3-2 3-3 4 1 3-3 3 2 3 2 4-1-2 4 3-3 0 4 4-2 4 0 3-1 4 1 4 1 3 3 3-2 4-1 2-3 4-1 3-2 4 1 1-4 2 3 5-1 1 4-1 3 1 4 2 3 1 4-2 3-1 4 4 1 5 2-1 4-4-1-3-2-2-3 0 4-3-3-4 0-1 4-3 0-3-2-4-1-3-1-2 4-3-2-3-3-3 2-1-3-2 3-4 1 0-3-3-3-1-4 0-3-3 2-2 3-1-3-3-1-4-1-4-1-3 1-2-3-4 0-4-1-3-1 0-3-2-3-4 1-3 3 0-4-3-2-2-3-3-3-4 1-5 1 4 2 0 3 1 4-1 4 4 2 2-3 0-4 3-1 3 1 4 1 4 2 2 3 4 1 3-2 3-2 4 2 3 2-2 3 3 2 4 0 4 0 3 0 3 3 4-2 1 4 4-2 3 2 4 0 3 2 3-1 3 3 4 1 3-2-2-3 4-1 3-1 4-2-1 4 3-1 5 3-2-2-4-2-3 2-3-1-2-3-3 2-4 1-2-3-1 3-4 2 0-4 0-4-4 0-2-2-4-1-2-3-4 1-3 0-1-4-3-2-3-1-2-3-1 4-2-3-4 1-4 0-2-3-3-3-3-1-1 3-2-3-2 3-3 3-4-1-4 0-3-1-2-3-4 0-3 3-4-2-3-2-3-2-4 0-3 1-2 4-6 0 4 2 3 0 3-2 4 1 3 2 3 2 4 0 2-3 3-2 4 3-1 3 2-3 4 1 2 3 3 1 2-3-4-1 4 0 2-3 4 0 0 4 3 2 2 4 1 3-1-3 4 0 3-1 3 3 2 2 4 0 2 3 4 1-1 4 3-2 1 3 4 1 3 2 4 1 3 2 2-2 4 1 4 0 3-3 4-1-2-4-3 1 1-3 2-4-1-4-4 1 3-3 2-3-3 3-3-1-3-2-4 0-3-3-4 0-4-1-3 0 0-4-4-1 0-4-1-4-2-3-4 1-4 1-4 1-1 3-4-1-1-3 2-3 3-1 2-3 4 0 4 1 2 3 0 3 4-1 2 3 3 1 4-1 4 0 2 3 1 4 4-1 4 1 4 1 1 4 3 2 2 3 4-1 4 2 1 4-1 3 2 3 5 0-2 3-4 0-4-1-3 0-1 4-4 1-4 0-3-2-3-1-3 3-1 3-3 2-3 1-3-3-3-3-3-1 0-4-3 1-4-1 2-3-3-2-2 3-4 0-2 6 3 0 4-2 2-3 4 0 2 3 2 3-1-4 6 0-1-4 1-4 3-2 0-4-3-1 0-4 0 4 0 3-4 1-3 2-3 2-1-3-4-1-2 3-4 0-3 0-1 4-3-3-4 0-1 4-5-1 4 0-3 1-3-3 4 1 4 0 3-1 4 0 4-1 2-3 2 3 3 2 0 4 4-2-3 3 4-2 0-3 4-1 4-1 3 0 4-2 2 3 2-3 0 4 3 3 2 3 4 1 2 2 1 4 4 0 3 2 4 2 2-3 4 0 3-2 0 3 2 4 0 4 0-4 3-1 3-2-3-1-3-3-3-1-4 0-3-2-2-3-4 2-1 4-2-4-3 0-4 0 1 3-3 2-4 0 1 4-3 1-1-4 0-3-3-3-4 2-4 0-3-1-1-4-3-2-4 1-4 0-3 0 2-3-4 0-1-3-4-1-2 3-4-2-3-2-3-1-4 2 0-4-3-3-3 2-3-2-6 0-1-4-2 3 2 3 3 2 3 2 3-3 3-2 2 2-2-2 0 3 2 4 3-3 4 0 4 0-1 4 3 3 3 2 4 1 2 3 1 3 3 1 4 0 3 3 3-3 3-2 3 3 3-3 4 0 3-2 4 2 2-3 4 0 3-1 4-2 4-1 3-1 5 2-4 0-1 4-2-3 0-4-1-3-4-1-4-1-1 3-4-1-1-3-3-3-3-2-4 0-3 2-2-3 0-4-3 3-3 2-2-2-2 3 2-3-1-4-3 3-1 3-3-2-4 1-4 0-3 3-1 3 2-3 0 4-3-2-2 4-3-3-4-1-3 0-4 0-4-1-2-3-3-5 4-2 3 1 3-1 4-1 3 2 4-1 3 3 4-1 2-3-2 3 3-2 3 2 1 4 4-2 4 1 3 1-3 2-1-4 4-1 2 3 3 2 0 4 2 3 4 1 2-3 4 2 2 3 1 4 1 3 5 2-3-2 0-4-4-1 0-4-1-4-3 2-3-2-3 0-3-3-2-3-4 0 3-3-1-3-4-2-5 0-2 3-4-1-4 1-3 0-4-1-4 1 2-4-4 2-3-1-3 5-3 3-2 3-3-2-3 2-4-1-4 1-2-3 0-4-3-2-5 0 3-2 2 2 4 1 4 1 4 0 2 3 1 3 4 2 3 1 4-1 1 3 4 1 3 1-2-3 3-2 4 1 2-3 2 3 4 1 3 1 4-1 3 1 2-3 0 4 4-2 4 0 3-1 4 0 2 4-4 6-5 4-2 6-1 6-3 5-4 5 0 7-3 5-2 7-6 1-5 4-3 6-5 4-5 3-4 6-4 4-3 6-4 5-4 5-4 5-2 6-6 3 0 7-1 3 6 0 6-2 7 0 5-3 6-2 7 0 6-2 6 1 6-1 6 3 6 2 7-2 6 1 6-1 6 4 6-2 6 0 4-1-6-1-7-2-6 1-6-2-5 4-7-1-5 3-7-1-6 0-7-1-5-3-7 1-5-3-7 0-6 0-7 0-5 4-6 0-5-4-5-4-7 1-6 1-6 1-3 3 5 3 7 0 6 0 6-4 6 0 0-2-6-3-6 2-6 3-5 4-6 0-6 2 6 4 6-2 6-2 6-1 7 1 6-2 6 0 6 3 6 1 7 0 5-4 6-2 6 1 4-5 6 0 6 1 7-2-1-6 5-4 4 2-6 2-7 1-6 0-5-4-6 2-6 2-7 0-6-2-6 2-4 5-6-1-6 1-2 3 6-3 3-5 5-4 5-4 6 2 6-3 6-3 4-4 6-4 6-1 6 1 6-3 5-3 7 0 4-5 2-6 7-1 6-1 5-3 5-5 4-4 6-1 5-4 2-3-3 5 3 6 1 6-2 6-1 3 2 4-2-6 0-7 0-6 2-6-1-6-5-4-5-4 2-6-4-5 1-7 2-6-3 0 0 7-4 5-1 6 1 7-1 6-1 6 0 7 3 2 4-5 3-6 2-6 4-2-1 6-2 6-1 7 3 5 1-6-1-7 0-6-3-6 0-6 0-6 0-2-3-1-3-1-2-3-3 1-3 1-1-3-3 2 3 0-2-2-3 1-3 1 2-2-2-3-1 3 2-2-3-2 1-3-3 0-3 1-3 0-2-2-2 2-2-1-2-3-3-1-3 0-2-2-1 3-2 2-2 2-2-2-2-2 1-3-2-2-1-3-1-2-3-2 2-3-1-3-3 1-3 0-3-1-1-3-3 0-1-2-2-3 1 3-2-2 1-3-3 1-3 0-3-1-1-3-2-2-3-1-2-1-3 0-3 1 1-2 3-2 2-2 0-3-2-2-3-2-1-3-2 1 0-3-2-2-3-1 3 0-1-3 0-3-3-1-3 0-5-4 2 3 3 0 3 3-3 0-1 3 3 2 0 3-3-1-2-2-3-1-3-1-6 3 0 3-3 1-2 2 2 2 2 4 3-1 5-2 2 2 1 2 3 1 1 3 2 1 1 3 0 3 0 3 2-2 1-3 3 3 0 2 3 2-1-3 1 3 2-2 4 3-2-2-2 2 1-2-2 1-1-3 2-2-3-1-3 0-3-1-1-2-3 0-3-1-2 2 2 1 0-3-3-1 0-3-2-3-2-2-2-2-3-1 0-3-2-2-1-3 1-3 3 2-1-3 1-3 3-1-3 2 3-1 2-2 2-2-3 0-2-3 2-2-2-2-1 3 1-3 2-2 1-3-1-3-3 0 3-1-2-2-3-2-2-2-3-4-3-2-2 2-2 3 1 2-3 0-2 3-4 3-2-3 3 0-1-3 2-1 1-3 2 2 3-1 2 2 3 0 0-3 2-2 1 3 0-3 3 1 3 0 5 1-2 3-3 1 1 3-1 3-1 3 1 3 1 3-2 1-3-1-2 5-1 3 3-2-1 3-3 0 3 0 1 3 2-1 2 3-3-2-1 2-3 1 2 2-3 0-2 2-2 2-1 3 0 3 2-3-1 3 4 4 2-2 0-3 3 0 0-3-1-3 0-3 2-2 3-1 2 2 2-1 3-1 3-1-3 0 3 0 1-3-2-2 1-3 3 1 2-2 1-3 3-1-2-1 0-3 3 1 3 0 3-1 1-2-1-3 2-4 1 3-3 1-2 2-3 1 2 2-4 4 1 3 0 3 3 0 3-1 3 1 0-3 2-2 3 1 3 1 3-1 1-3 3-3 1 3 2 2-2 2-3 0-1 3 2 2-3 1-3-2-2 2-2 2 0 3-2 3-2-2-2 2-3 0 0 3 0-3-3 0-4-1 0 3-1-3-3 0 0-3-3 1-1 3 0 3-1 3-3-1-2 2 0 6 3 1 3 1-3 0-2-2-3 0-3-2 0-3-2-2 2-2-1 2-3-1 2-3 0-3-2-2-1-3-2-1 3 0-1-2 1-3 2-3 0-3 3 0 1-5 3-2-2-3-3 1 3 1 1-3-2-2 0-3-1-2 3 1 1-3 0-2 4-4-3 1 1 2 3 2-2 2 3-1 2 3-2-3 2 3-3 0-2 2 3 2-2 2-3-2 3 0 0 3-2-2 2 1-3 1-3 0-2 2 3 0 1 3 1 2 3 2-1 2-1 3 0 3-2 2-2-2 0 3-2 2-2 3 3-1-3 1-2-2-3-2 0-3 2-2-2-2 0-3 3-5 3 0 1-3-3-1-3 0-2 2 3 1 1 3 0-3-3-2 2 3-2-2 3 0 0-3-3 1-1-3-3 2-1-2-3-1-1 2-2 3-2 2-3 1 3 0-1 3 2 4 3 1 3 0-1 3 0 3 3-1 3 0 3 0 2 0 0-3-1 3 0 2 3-1-1 3 5 1-2-2 2-1 3-2 2-1 3 1 2-3 3-1 2-1 1-3 1-3-1-3-1-2-1-3-1-3 2-3 2 3-1-3 1-3 3 1 3-1-1-3-2-2-1-3 4-4-3 1-3 1 2 2 0 3-2 3 0 3 1 2-2 2-2 3 2 2 3 1-3 0-1 3 0 5-5 0-3-2-1 3-2 3-3-2-2-4 0 5 1-6-2 1-1 3 2-2 3 0 3-1 2-1 1-3-3-1 3 0-3-1 0-3 3 0 3 0 3 0 5-2-3 0-2 3 1 3-1 3-2 2-3 1 2 3-3-1 3 2 1 3-3 1-2-1-1 3-3-1-3 2 2 2-2-2-3 1 3 0 3 0-2 2-1 3-2 1-1 6-3-1-1-3-1-3-2-2-1-3-1-3-3-1-3 0-2-2 0-3-3-1 3 1-3 0-2 3-1-3-4-2 3 1 2-1 3-2 2-2 0 3 3 1-2 2 2-2 1 2 2-2 3 0 2 5 3 1 1-2 3 0-2 2 3 0-2-3 3-1 5-2 0-3 3 0-3 2-2-2 0-3 0-3-1-3 0-3-1-2 3-2 0 3 3 0 0-3 3-1 0-3-3-4 2-3-2 3 0 3-3 1-3-1 3-1 1 3-3 0-3 1 1 3 0 3-2 2-2 2 3 0-1 3-3-1-3 1-3 0-1 3 2-2-3-1 2 3 2 1-1-3 0 3-3-2 2 2-2 3-2 1-2-2-1 3-2 2-2-2-2 1-3 0-1 3 3 1-1 3-1 3-2 2 0 3 3 1 1 3 0 3-3-2-3 1 2 2-3-1 2 3-3 1-2 2-4-1 3 0 1-3 0-4 2 2-1 2-2 3-2 5 1-3-2-2-1-3 0-3-2-3 2-2-2-1 1-3 3 1-3 0 1-2 0-3-2-1-3-2-2-2 0-3 0-3 3-2-1-3 3 0 2-3-1 2 0 3-1 3 3 1-3 2 1-3 3 0 3 1 0 3 2 2 3 1-3 1 2 1 1 3-3 2 3 2 0 5-3 1-1-3 2-2 2 3-3-1-3 0-3 1 3 1-3 0 0 3-1 2-4 5 3 2 3 0 0 3 2 3 2 2-2-2 2-2 1-3 2-3 2 2-2-2 2-1 3-2 0 3 3 0 3 0 2-2 3 1 3-2-1-2 3 0 2-2 0-3 0-3 3-1 3 1 3-1 0-3 2 1 1-3 3-1 2-1 3 1 3-1 3-3-3 1 0 3-2-2-3 0-3 0-1 3-3 1 3 0-2-2-3 0-3 1-1 2-3-1-3 0-3 0 0 3-2-2-4-2 3-2 2 2 1 3 3 1 0-3 1-2 1-3-1 3 2 2 3 0-1 3 3-2 3 6-2 2 1 3 2 2 1-3 2-1 3 0 6-1-3-1-1 2-1-3 2 2 0-3-1-2-3-2-2-1 2-3 2-2 2-2-2-2-3-2-1-3-2-2-1-2-3 0-1 3 0-3-3 0 2-2-3-1 2 2 1-3 3-1-3-1 3-3 1-3-3-1-3-2 3 1-1 3 2 3 0 3-3 0-2 1-3 1 2 3-3 1 3 1 2 3-3 1-2 2 2-1 3 0-2 2 3 1 2 2-2-2-3-2 3 2 2 3-3 1-3-1-1 2 3 2 0 3-3 1-2 3 0 2 1 3-1 3 3 2-1 3-2 2-2-2-5-1-1-3 3 1 3 0 3 1 2-2 2-3 3 0 2 1 0 3 1-3 1-3 1-2 2-3 2 2-3-1-2-1 2 2-3-1 0-3 3 0 3-1 2 1-1-3-3-1 2-2 3 0-1-3 2-2 2-3 3 0-2-6 0-3-3 1-2 2-4-4-2 2-3 0-3-1 0 3-3 0 2 3-2 2-1 3 0 3-2-3-5-2 1-3 3-2-2 3 2-3 2 1 3 1 2-2 4 0 1 3 1 3-2 2 2 2 0 3-1 3-3 0 3 1-2-2 3 0-3 2 3-2 2 2 0 3 1 3 0 4 2-2 1-3 1-3-3-1-3-1-3 1-1-2 2-2-1-2 1-5-1 3 2-3 2 2-2-1-3-1-3 2-1-3 3 0-3-1-1-3-3-1-3 2-3-1-5 0-2 2 0 3-3 2-3 0-1 4 1-3 1-3-1-2 3-1-2-2 1-2-1-3-1-3 3-4-2 2 3 0 2 3 0 3-3 1 2-3 1 3 0-3 3 1 3-1-2 2-3 0 3 1 1 3 2 0 1 3 2 2 2 2-3 2-3-1 3 1 0 3 3-1-1 3-2 2-2 3 0 3 3 0 2 2 2 2 2-2 3-1 3 1 2 1 3 0 1-2 2-3-5-4 1 3 0 3 2 2 3-1 0-3 0 3 3-1-1-3 0-3 3 0 3-1 3 1 4-1-3 2 0 3-3-1-3 1-3 1-1-3 0-3 0-4 2-2-1-3-2 2-3-1 2-2-1-3 1-3 0-3-1-2-3 0 0-3-3 0-2 2-1-3-2-2-4 0-1 2 2 2 2 2 2 2 0 3-1 3-1 2 1 3 3-1 5-1 0 3-1 3-3-1-3 1-3 2-3 0 2-3 0 3-2 2-3 0-5 3 1 3-2 2 3 0 3 0-3 1-2 2 2-2 1 3 3-2 2 1 4-2 2-2-2-2 2 1 2-3-2-2 1-3-2-2 3 1 0-3 0-3 2-2 3 0 0-3 1-3 3 2-3 2 2-2-2 2-3 0 0-3-1-3 4-4-3 1-2 2 3 0-2 2-3 2-3 1 1 2-1 3 0 3-1 3 2 2 1 5-3 0 3-2-1-3-3 1-2-2 0-3 1-3 1-2 3-1 3 0 2-2-1-3 3 0 0-3-2 2-2-3-3 1-3 0 0-6-2 2-1 3-3 2 3-1 1 3 1 3 3 1 1 3-3 0 2 3-3 1 3 2 3-1 3 0 3 0-3 1 1 2 3-1-1 3-2 2 0 3-1-3 0 3 2 2 1 3 2-3-2 3 1 2 2-2 1 2 1 3 2 4 1-3 1-3-3 0-2-1-3 0-2-3 2-3-3 2 1-3-3 3-1-3 0-3 1-3-3 2-2 2-3 2-1-3-1-2 1-3 0-3 3 0-3-1 2-2-1 3-2-3-3 0-3 1 1-3-2-2-1-4 0 3 3 1 3-2-2 3 3 2 3 1-1 3-3 1 3 1 0 3-1 3 2 2-3 2-1 3-1-3 3 0 3-1-2-3 0-3 3 0 3-1 1-2-2-2 2-2-3-1 1-3-2-2-2-2 3-2 1-2 3 1 1-3 0-3 2-4-3-1-2 2-2 1-2 3-3 0 2 3-1 3-2 2-3-1-3 1 2-2 3 1 2 1-2 1 2 5-2 3-1 3 2 2 0 3 1 2 3 2 2 2 2-2 0-3 1 3 2 2-1-3 3 1-2 2-1-2 3-1 2 2 3 0 3 1 4-4 1 3-3 0-1 3 2 2 3 1 1 3 1 3-3-1 2 2-3 0-2 2-2 2-3 1-2 2 3 1 2 1-1-3-3 2 2 2 2 3-3 1-3 1 0 3-2 4-5 4-5 4-5 4-2 6-5 3-6 3-3 6-3 6-4 4-6 2-3 6-5 4-4 5-3 6-1 6-4 4-5 5-6 0-1 1-2 6-1 7-5 4 1 7-1 1 3-6 1-6 3-2-3-6-2-6 3-6 1-6 1-6-1-7 2-6-1-6-3-6-2-1 5-4-3-6 1-7 3-6 2-6-2-3 0 6-3 6-3 6-1 6 0 6 0 7 0 6 5 4 3 6-4 6 2 2 4 3-1-6-4-5-1-6-2-7-1-6 3-6 1-6-4-5 2-6-1-2-1 6-4 5 1 6 4 5-3 5 0 7 3 5-1 7 2 6-1 3 4 2 0-4 4 0 1-3 4 1 4 0 2-3 3 1-1-4 4 0-3-2 1-4-3-1-1-4-1-3 2 3 1-4 4 2 4-1-1-4 2 4 3 1 2 3 4 1-2-3 2-3-1-4 0-4 3 3 0-4 2-3 3-2 4-1-2 4 3-3 2 2 4-1 3-2 3-3-1-4 4-1 4 0 4 0 1-4 5-2 0-4 1 4 4 1 3 3 3 1 3-2 0 3 3-2 3 1 2 3 1 4 2 3 3 3 4-1 1 4 3 1 3 2 3-3 3 2 2 3 3-2 2-3 3 2 3 2 4 2 2 3 3-3 3-1 0 3 1-3 3 1 1 4 1-4 1-3 4 0 1 3 2 3 3-3 3-2 4 2-4 1-1-3 2-4-4-2-3 2-4-2 0-3-4-2-3 0 0-3-4 0-3-1-4-2-4 0-2 2-4 0-2-4-4-1-3 0-4-3-3-1-3 2-2-3-2 4-3 1-4-1-4 0-3 0-2-3 1-4-4 2-3-3 1-3 1-4-3-2-5 2 1-4 3-2 2-5 3-2 3-2 3 2 0 4 3-3 2 3 1 4 1 3 3 3 3 1 1 4 4 1 0 4 1 4 2-4 3-1 3 2 3 2 0-4 4-2 3 0 4 1 4 1 2 3 4-1 3 0 2-3 3 1 4 1 0-4-3 3 4 1 3 0-1 3 2-3 4 0 0 4 4-1 1 4 4 0 3-2 2 4-4-2-3 0-3 3 3 2-4 0 2 3-4 1-4 0-3-2-3 2-6 0-2 3-4 0-2-3-3-2 1-4 2-3-3-1-4 1 0-3-4-1 3-1 4 0 3-2 4 0-1 4 0 4 4 1 3 3 3-1 4-2 2-3 3 1 2-3 3 1 4 1 2-4 4 0 3 3 3 1 4 1 2 3 4 1-2 3-4 0 3-3-4 0-2 2-4-1-2-3-4 0 3-2 1-4-4-1-1-4 0-3-3 2-4 1-4-1 1-4-1-4-4-1-4 1-4 1-2 3-4 1-3 0-2-3-4 0-3-1-3 2-2 4-4 4 1 3 4-1 2-3-1-4 3-2 3 2 3-1 2 3 4 2 3 1 4-1 3 1 1-4 3 0 3-2 4 2 3-3-4 1-3 3-1 3 0 4-2-3-1 3-3 2-4 1 1-4-4 0-4 1-2 3-2-4-3 1-4 1-4-2-4 2-1 4-1-4-4-2-3 1-4 0-4-1-1-3-4-2-4-1-3 2-3-2-3-2-4 0-1-3-1-4-3 2-3-2-4 0-3-1-4 0-3-2-4 0 3-2-2-4-1-3 0 4-5 1 4 1 3-2-2-4 2 4 3-1 4 1 2-2 1-4 4-1 1 4 3 2 0 4 3 1 3 3-2 3 3-2 4-1-2 4 2 3 4 0 3 2 4 1 4 0 3 0 3 3 3 1 3 3 2-4 4 2 3 1 4 1 3-1 4 1 4 1 2 3 3-3 2 3 3-2 2 3 1 3 0 4 4 2 4-1 2-3 1-2-3 2-3-2-4 4-2-3-2-3-3-2-4 1-3-1-4-1-4 0-3 2-4-1 1-3-3 0-2-3-4-2-1-3-3 1-4-1-3 2-4-1 3-3 0-4-4 0-4-1-3 2-2-4-3 2-4 0-3 1-3-3-2-3 1-4-1-3 3-2-4 0-1-4-3-3-3 2-3-3 0-3-3-3 3 2-3 2-2-3-6 2-1-3 3-3 2-3 4 2 3-3 2 4 2 2 4 0 2-3 4 0 2 3 3 3 4 0 3 1 4 1 0 3 2-3 3-2 3 2 4 1 3 2 0 4-4-1 3 3 2 3 4 0 4 1 3-1-3 3 3-3 3 2 3 2 2 1 3 2-2-3 4-1 1 4 3-2 3 3 3 1-2 4-3 2-3-2-4 0-3 2-4-1-3-1-4 1-2-4-3 2-4 0-4-1-4-1-3 1-2 3 1-3-3 2-4-1-4 0-3 2-3-2 4-1 0-4-4-1-3-1 0 4 1 4-3 2-2-3-3-2-5 4 4 0 0-4 3-2 2 3 3-3 4 1 2 3 4 1 3 1 3 2 3 2 4 2-3 3 4-2 3 3 3 2 3 1 4 0 3-2 2 3 1 3 4 0 4 0 3 2 3-1 2 3 4-1 1 4 2 3 3-3-2-3 3-2 3 1 4 1 4 1 0-4 4-1 3-1 2-4 3-2 4 1 0 4 4 0 2 3 3-2 0 4-2 3 4 0 4 0-2-3-3-2 2-3-3-3-3-2-4-1-4 0-3 0-3-2-3 2-4-1-3 1-4 0-3 3-1 3-4 2-3 1 0-4-4 0-3-1-3-3 1-4-4 0-4-1-3-2-3-2-2 3-4 0-4 1-3-3-3 0-3-3 0-4-2-3-1 4-2 2-3-2-4 1-5 2 2 3 3-1 3-3 2 4 1 3 2 3 4 1 0 4 3-3 3 0 4-1 3-3 3 0 4 1 4 0 3-1-1-4 0 4 4 1-1-4 0 4 4 1 4 1-1-4-1-4 3 0 0 4 2-4 2-3-1 4 4 1 1-4-1 4 2 3 6-2-1 4 2 2 2 4 4-1 2-3 4 2 4 1 0 3-3 3 3 3 3 2 3 2-3 3-3 1-2-4 3 3-2 4 2-3-3 1 2-3-4 0-4 2-3-2-2 2-3 2-4 2-2-3-1-4-3 3-3-2 0-4-4-1-3-2-3-2-4 1-3 2-1-3-1-4-3 1-4 0-2-4-1-3-1 3-3-2-4-1-3-2-3-2-3-3-3-2-3 2-4 0 1-4-3 0-4-1-5-3 4 2-2 3 4 0 4 3 4 0-1-4 2 3 1-3 6 0 2 3 0 4 4 0 3 1 4 2 3 1 4-1 4-1 3 2 2 3 4 1 2-3 4 1 3 1 1 4 5-1-3-3-4 0-2 2-4 2-3 2-2-4-1 4-3-3-3 2-2-4-1 4-4-1-4 0 0-3 0 3-3 2-4 1-3 1-4 1 1-3-3-2-4 2-3-2-4 2-2-3-4 1-2-3-4-1 1-4-1-3-4 0-4-1-4 0-1-3-1-4-4 0-3-1 0-4-1-4-1-3 4 0 3-1 2 3 3 2-3 3 3 2 4 0 3-2 4-1 3 2 3 2 4 1 3 2 3-1 3-3 1 4 3 2 3 2 3 3 3-3 1 4 1 4 1-4 4 2 0 4 2 3 1-3 4 1 3 2 2 4 3-2 4-1 3-2 1 4 4 0 4 2 2-3 4-1 3 0 4-2 3 0 4 2 3-1 4 1 2 3 3-2 4 2 3-3 2-3 4-1 3 1 3 2 4 2-2 3 0-4 2-3-4-2-2 3-4-1-3-2-3-1-3-2-4-1-3 1-4-1-5-2 3 0 4 0 4 0 4 0 1 3 3 3 2 2 4-1 4-1-1 4 3-1 2 3 4 0 4-2 3 4 0-4-4 0 0 4-4 0-3-2-4 0-3-1-2-4-3-1-4 1-1-4-4 0-4-1-3-2-4 1-4 0-3-1-3 3-3-1-4-1-1-3 2 3-3-2-2 3-3 2-6 1-2-3-4 0-4 0 0 4-4-1-3-2-3-3-2-3-3-2-3-3 0 4-3-2-4 0-3 2-4 0-1-4-1-3-4-2-3 1-3-2 0 4-3-1-3-3-4-1 3 0 2 4 0 3 3 3 3-2 3-3 2-3 4 0 3-2 3-3 0 4 0 4 4 0 0 4 3 2 3-2 1 4 3 2 2 3 1 4 4 1 2-3 1 4 4-2 3-1 3-3 4 2 3-2 4-1 0 4 4 0 3 2 4 0 1 3 1-3 4 0 4-2 3 0-1-3 4 0 2-3 1 4 4 0 4 0 3 4-1-3 1-4-2-4-3-1-3-2-2-3-4 0-2 3-4-1-2-3-3-1-4-1-1-4-3 2 0 4-1 4-4 0-3-2-1-4-2-3-3 2-4 0-3 2-4-1-4 1-3-1-4 2-3 2-3-1-3 3-4 0-2-3-3-2-2-3-3 3-3 0-1-3-3-2-4 0-3 2-3 3-4 0-2-2 2 2 2 4-4-1-4-1 0 3 0-3-1 3-3 2-5-3 2-3-1-4 4 1 3 2 1 4 4 0 3 0 4 2 4 0 3 1 4-1 4 1 3-2 3 3 4-1 4 0 0 3 4-2 3 2 4 1 2-3 3 2-3-2 3 1 4-2 3-2 3-2 3-1 3 3 0 3 2 3 2 1 1-3-3-1-1 3-1 2-2-1-3-2-2 2 3-1-2 2-2 2 2-1 1-3-1-2-2 2-2 2-3 1 1-3-2-3-3 0-1-3-2-2 3 0-2-3-1 3-2-1-3-1-3 0 0-3 1-3-2 2-3 0-1-2-3-1-2-3-3 1 2-2-1-3-3-1 1-3-2 2 2-2-2 2-1-3-3 0-1-3-2-2-1 2-3-1-3 0-3 0-3 1 0-3 0-3-1-3-1-4-3 1 3 0 1 3-2 3 0 3-3 1-2 3 3 2-2-3-1 3-4 3 2 2 3 1 2 4 0-3-3-2 1-3 2 2 3 2 1-3 3-1 0-3-3-1 3 0 0-3 3 0-1-3 2 2 3-2-3-1-2-3 3 1-3-1 3 2 1-3 1-3-3-2 3-2-3 1-1-2-3-2-2-2-2-1 0-3-2-2-3 1-3 1-2-2 0-3 2 0-2-2-2-2-3-1 0-3 2-2 5 1-1 3 0 3 2 2-2-2 0 3-1 3-3 0 0 3 2 2 3 1-1-3-2 2-3-1 3 0 0 3-2 2 2 2 2 5 3 0 3 0 2-3-2-1 3-1 3-1 3 0 1-2 2-3-1-3 1-3 0-2-2-4-1 2 0 4 3 1 1-3-2-1 2 0 1-3-1-6-3 1-1 3-2 1-3-1-2 2-2 3 2-3-3-1 1 3-2 2-2 2-1 3-1 3 3 4 3-1 1-3 3-2 1 3 0-3 3 0-2-2 2-1 3-2 3-1 2-2 2-2-2-2 3 0-1-3-2-2 3 0 1-3-1-2-2-3 1-3 0-3 3 0-1 3-1 3-1-3-2-2-3-1-3-3 0 3-1 3 2 2-3 2-1 3 2 2-3 1 2 2 0 3 1 3-2-2 0 3-3 1 2 3-2 2-3 1 2 3-2 2-1 3-2 2 3 1 2 2 1 3 3 0-3 0 1 3 3 1-1 3-4 1 2-2 1-2 1-3 1-3 3 0 3 0 3 1 3-1-1-3 2-2 3-2 2-2-3 1-2-2 2 2 2-1 3-2 1 3 3-1-3-1-2 2 1-3 3-2 1 2 2 2 3-1 2-2 1-3 1-3 2-2 3-1 0-5-3 0-2-2-3 0 3 1-2 1-2 2-3 0-3 0-3 1-2 2-1-2-2-2-3 0-3 1-2 2 1 3-3 5-4 3-3 2-1-3-2-3 1 2 0 3 3 1 6 0-1-3-1-3-1-3-2 2-3 1-2 2-2-2-3-1-3-2-3 0-3-1-2 3-2 2-2 2-1 3 3-2 0 3-3 2 2-3-1 3-2-2 2 2 3-2 2 3-2 3 3 0 1 3 0 3 2-2-3 1 3 1 3 0 3 1 1 3 3 3-3 0 3 0-3-2-2 1 2-1 0-3 0 3 2 2 0-3-2-2-2 2 2-2-3 2-3 1-2-2 2-3 3-1-2-5 0-3 1-3-3 0 1-3 2 3 0-3 1-3 1-3-1-5 2-2 3 1 2-2 2-2 2 2 3 0-1-3 3 2 5-1-2 3-3-1 3 2-2 3-2 1-3 2-2 1-3 2 3 1-3-1-2-2-3 0-3 2 1 3 3 0 3 1 3 0-3 1 3 1 3 2-3 2 1 2-2 1-2 5-1-3 1-3 3 0 2-2 0-3 1-4 3 1 1 3 2-1 2 2 3 2 1-3 3 1 3-1 1 3 3-1 5-3-3 1-3-2-3 0-2-2 0-3 3-1 1-3 1-3-1-2 0-3 2-3 3-1-3-2 2 3-3-1 1-3 0-3 3 0-1-3-3 0-4-2-3 1 0 3 1 2-1 3-3 1-3 1-3 0 0 3-1 3 1 3 3-1-1 3-3 0-1 3 1 3-2 1-3-2-3 1-3 1-2 0-2 2-2 2 1 2 3 1 0 3-3 0-1 3 1 3-1-3-3 0-3 0-3 0 0 3-3-1-3 1-2 2 3 1 1 3 4 2 1 3 2-1-1-3 3-2 3-4-3-1-1-3-2 2 2-2-2-2 1 3 0-3 1-3 0 3 0-3-1-3 1-2 2-2 3-1 3 2-3-2 0-3 3 0-3 2 2-3 0-3-3 2 2-3 0-3-3-1-3 1 1-3 2-2-2 2-3 1-1-3 0-4-3 1-2 2 0 3 2 2 3 1 2 1 0-3-3 2-2 1-2 3-2 2-2 3 2 3-1 3-3-1 3 1 1 3-2 2 2 2 2 2 1 4 2-2 3 1 3 1 1 2 3-1 2-2 2-2 3-1 3 1-3 1 3-1-2-2-2-2 2-2 1-3 3-1 2-2 0-3-1-3 2 3 2-2 0-3 3 0-2-2 3-1 3-1 2 3 1-3 2-2 3 2 1-3-1-3-2-2-2-2 2 2 0-3 1-3 2-2-3-1 3 2 0-3 3-3-2-2-2 2-2 3-2-2-2 1-3 1-2 2 1 3-2 3 0-3 1 2-1 3 3 1-1 3-1 3-2 2-4 3 1 3-3 1 0 3 3-1 2-1 3-2 2-1 2 2 4-1-3 1-2-2-2-2-1-3 0-3-3-3-3 2-1 2-2-2-3-2-2 1-3 2-5-4 4 4 9-1 9-1 9 2 9 1 9-1 8 4 8 4 8 3 9 3 9 1 9 0 9 2 9-1 9-1 1 2-5 7-6 7-8 5-2 9-6 6-6 8-6 6-7 6-5 7-6 7-8 4-6 7-8 5-3 2 0-9-4-8-2-9-2-8-3-9-4-8-5-7-1-9-5-8-4-8-1-9-5-7-4-8-6-7-2-5 4 8 7 7 4 7 4 9 3 8 7 6 5 7 2 9 5 8 5 7 5 8 3 8 6 7 7 5 6 8 4 7 3 9 5 8 6 6 4 8 7 6 2 9 4 8 4 8 5 7 2 0-9-2-9 1-9-1-9 2-9-2-8 3-9 2-9 0-9-2-9-1-9 0-8 4-9-2-9 0-9 2-9-1-9 1-9 2-8 2-9 2-2 0 1-9 0-9 2-9 3-8 1-9 3-9 2-8 4-8 2-9 2-9 2-9 2-9 3-8 3-9 3-8 3-9 3-8 3-8 2-9 1-9-2-9 0-9-2-9 2 2 6 7 5 7 2 9 4 8 5 7 5 8 6 7 4 8 7 6 3 8 4 8 4 8 3 9 4 8 4 8 2 8 5 8 4 8 5 7 1 4-8 3-9 0-9 2-9 0-8 4-9 2-9 3-9-1-8 1-9 2-9 2-9 0-9 1-9 3-3 0-2-9-1-9 1-9-1-9-1-9 2-9-1-9 1-8 0-9 2-9 1-9-1-9 3-8-1 1 3 0-1 3 3 0-1 3 3-2-1-2 2-3 3-1-1 3-1-3 3-1-2-2 0-3 3-2 2 2 0 3 1-3 2-2 3 0 1-2-3-2 3 0 0-3-1 3 2 3-1-3 3-2 0-3 3 0 3 0 3-2 0-3 3 0 3 2 3 0 2 2 2 2 3 0 3 1 2-1 3 1 2-2 2 1 3-1 1 3 0-3 1-3 3-2 0 3 3-2 2-1 2-3 2-2 2-2 3 2 3 0 2 3 0-3 5-2-3 2-2-2-2 2-3 1-3-2-2-2-1 3-1 3-2-3-3 1-5 2 3-1 0-2 1-3 3-2 2-3-1-3-1 3 0 3-2-2-3-2 1 3-3 0-2-2-2 2-3 0-3 1-3 1-3 0 0 6 1 3 4 3 3-2 1 3-1 3 3-1-1 3 1 3 0 3 4 2 2-2 0-3 3 0 2 2 5-1-2-2-3-1-1-3-3-1-2-2-2-2 0-3-3-1-2-3-2-5 0-3-1 2 3 2-1-3 0 3 3 2 2-1 0-3 3 1 3-1 3 1-3 2 3 5 3 1 3 1-3 1 1 3 3 0 1 3-2 2 2 2-2 2 2 6-3 0-3-1-1-2-2-2 2 1 2 3-3 1 0-3-3 0 3-1-1-3 1-2-2-3-2-2-2-2 1-3-3-1-2-2 1-3-3 0-3 0 3-1 0-3 1-3-1-3-2-2-3-1 3 1-1-3-3 1-1-3 1-3-3 0 0-3 1-4-2 2 2-2-2-1 2-2 1 3 1 3 3-1 3-1-2 2 2-2-3-1 1-2 1 3 1 3 3-1-2 2-1-3 3 1 3-1 2 3 1 2 3 1 3 1 2-3 0 3 2 3 0-3 2 2 3-1-3 1 0 3 3-1 1 2 1-2-1-3 1 3 2-3 3 1 1 2-1 3 0 3 2 1 3 1-2 1 3 1 2 2 1-2 3 1 3 1 3 2 0-3 0 3-3 1-3 0-2-2-3-1 0-3-3-2-3 0-2 1-3 0-1 3-3 1 0-3-2 2-3-1 0 3-2-3-2 2-2 2 1-3 0-3 2-2-2 2-3 1-3 0 0-3-3-1-3 1-3 0-3 2 3 2 3-1 3 0 3 0 3-1 2-2-2 3 2-3 1 2 3 2 0-3 2 3 1 2 3 1 1-3 3 0 2-3 3 1 2-2 2 1 1 4 0 3 0-3 2 2-2 2 0-3-1-3 3 1-2 2-2-2 0-3-3-1 1-3-2 1-2 3-1 2-2-2 2-2 1-3-3-1-3 0-3 0-2 1 0-3-1-2-2-3-4-1 2-2-2 2-1 3 3 0 2-2 2-1-3 0-2 1 0-3-2 3 3 0 3 1-3-1-1 3 2 3 5 1 1 3-2-2 3 1 3 0-2 3-3 0 2 2 0-2 1 2 2 3 1 3 1 3 2 1 4-1-2-2-1 3-1 2 1-2-1 2-3 1-2 2-1-2-2-3-2 2-1-3-1 3-3-1-2 2 0-3-3 0-1-3-1-3 3 0-2 2 2 2-3-1-1 3-3-1-3 0-4-3 3-2 2 2 1-2-1-3-3-1 0-3 2-2 2-3 0-5 2-2 2 2 3-1 3 0 1 2 2 3-2 1 1 3 1 3 3-2 3 2 3 0 2-2 2 2-1 3 2 5 1-3 3-1-3-2 2-2-2-2 0 3 2 2 2-2-1-2 3-2 3 1 0-3 2-2 2-2 2-2 2-3-3 2-2-6-2 2-2 2-3-1 2 1-3 1-2-2 2 3 2 2-3 0-2 3-3 0 2-1 2 2 3 2 2 2-3 1-3 1-2-1 2-2-3 0 2 2 3 0-3 2-2 2-2 2-1 3-3 0-2 3 2 3-2 2-3 0 3 0 1 3 3 0-2 3-2 5 0-3-3-1 1-2 1-3-3-1-1-3 1 3 2 2-2-2-1-3-2-2 3-1 3 0 3-1 2-2-3 0 2-3-3-1 3 0 2-3 2 1 2-3 0-3 3-1-1-3-1-3 1-3-2-1 3 0 3 0 2-1 2-3-3 1 1-2-2-2-2-3-1-2-3-2-3 1 3 0-2 2 1-3 0-3 0-5 1 3 3 0-1 3-2 2 2 1-3 0 0 3 3 1-2 2-2 2-1 3-1 3 2 3 3 2 1 2-2 3-2 1 0 3-2 2-3 0-2 2-3 1 3 0 4 3 3 0 0-3 3 1-2-3 3-1 2-2 3 2 2-2 1-3 3 0 3-1-2-1 2-2 1-3-3 1-3-1 3-2 2-4-3 0-2-2-1 3 0 3-3 2 1 2 1 3-4 3-1 3-3 0 0-3-2 2-2 2 0-3-2-3 1 3-3-1-2 2 2-3 0 3-3 1-2 2-2-2 1-3-3 0-5 2 3 0 3 2 1-3 1 3 3-2 2 2 4 1-1-3 2-1 1-3-3-2-3 1-1 3-3-1-3 0 1-2 1-3-2-2-4-2 1 3-1 2-3 2 1-3 3 1 3-1 1 3 3 0 2 2-1 3-3-1-1 2 1 3-2 5 3-1 3 1 0 3 3 2 0-3 3 1 6 0 3 0 1-3-2-2-1-3-5-1 1-3-1 3-3 0 3 0-2-2-2-2-1 2-2-2-3-1-3 1 0-3-2-1-2-3 1-2-2-2-3-5-2 2 2 1 0 3-1 2-3 0-2 2-1 3-1 3 3 2-1-3 2-2-3 1-1 3-2 3 0 3 2 2-3 2-1 3-2 5 3-1-3 1 2-2-2-2-2-3-2-2-2-2 1-3 3-2 2-2 1-2 2-3 2-2 2 2 3 0 3 0-1-3 2 3-1-3-1-3-2-3 2-2 2-2-2-1 3 0 2 1-1-2-3 0-2 2 2 3-2-2 3 0 0-3 3 1 3-2 0-3-3 0-1-3 3 1-1-2 3-5-2 2 1 3 2 2 2 1 3 1 1 3-1 3 3 1 2 2-1 2 0 3-1 3 3 2-3 1-1 3 2 2 3 2 0 3-1 5-1 7-4 4-3 6-5 4-5 5-3 5-2 6-2 6-5 4-4 4-4 6-1 6-1 6-3 6-2 6-2 6-6 1-2 6-2 7-5 3-2 6-5 5-2 6 3 5-1 7-2 6-4 5-1 6-2 6-4 4-3 6-1 3 6 2 6 2 6 2 7 0 6 0 5 3 6-2 6-3 6 1 5-2-6-1-5-4-6-1-3-2 6-3 6-1 6 1 6 2 6 1 6 3 6-3 6 1 3-5 3 0 6-1 7 0 5-4 6-1 3 3-7 1-6 1-7 0-6 1-6 0-6-1-7 1-6 0-5-1-4 5-1 4 5-4 6-3 6 1 3-2-3-5 0-7-2-6-1-6 3-5 0-7-4-5 1-7 0-6-1-6 0-7 2-6-2-6-4-5-4-6 0-6-1-6-3-6 1-6 4-5-3-6-3-5 1-7 4-5-1-6 0-7-4-5-3-6-2-6-3-5-4-6 1-6-3-5 1-4-6 2-2 6-2-1 5-4 6 1 7-1 5 4 4-3-5 4-6 1-5 3-7 0-6 0-2-1 6 1 5-3 7 1 2-1-6-3-6 0-3-1 2 4-5 3-6-1-6-3-3 0 6 2 6-1 6 0 7 1 6-1 5-4-6-2-4-5-1 1 2 6-6 0 0 3 5 4 6 0 4 4 6 2 7 1-1-3 4-6 1-5-2 2 0-3-3-2 2 3-3 0-3-2-3 0-2-2-1-3-3 0 2 2-2-2-2-2-3 1-3-1 2 3 2 2 0-3 1 3-3 1 1 3-3 0-1 3-1 3 1 3-2 2-1-3-2-2-2 2-2 2-2 2-3 1-2 2-4 1 0 3 0 3 2-2 3-2 0 3-2 3 2-3 3 1 3 0-1 3 3 1 3 0-3 0 3-1-3 0-2 2 2-2-1 3 0 3 1 3-3 1-3 0-1 3 1 2 2 3-2 1-2 3-1-3-3-1-2-3-3 1 2 3-3-2 2 3 1 3-2-2-1 3-2-2 0-3-3 0-2 2-3 2 1 3 3 1 1-3 3-1 1 3 3 0 2-2 1-3 3 2 2-1 5 0 1-3 2-1 3-2 3 0 1-3-1-3 2-2-1-3 2 0 3-1 2-3-1-3 0-3 1-3 2 0 1-6-3 0-3 1-2 2 1 3-2 2 1 3-1 3 2 3-3 1-2 2 2 3 1 3 2 2 4 4 3 0-2 2-2-2-3 0-1-3 0 3-3 2 2 2-3 0-2-2-3-1 2 2-2-2-2 3 3 2-3 1 0 3-3-2-3 2-2 1-3 3-4-4 3 0 3 1-3-1 1 3 0-3-3-1-2 0-2 3-3 1-3 1 3-2-1-3 3 0 1 3 1 2 3-1 2 2-3 1 1 6-2-2 3 1-1-3 2 1 1-3 0-3-2-2 2 1 3 1 3-1-2-2 3-2 1-3 0-3 5-3 3 2 2-2-3-5 3 0 3 0 2-1 3 1 2 2 3 1 1 3 3 0 3 0 3 0 0-5-3 1 0-3-3-1-3-1 0-2-3 0-3 0-3-2 0-3 0-3-3-4-2 2 2 2 0 3-2-2 2 2 3 1 2 2 3 1 0-3 1-2-2 1-1 3 0 3 3 2 0 3 3 4 0-3 3-1 3 0-3 1 1-3 2-2-4-4-2-1-1-3-1 3-2-2-3 0-5-2 3 0-2-2-3 1 1-3-3-1-1-3 1-3 1-2-2 1-1-3-3 1 3 1 1-3-3 0-3-1-2 2-2-3 2-2 5-3 1 3-3-1-3-1-3 1 0 3-3 0-3 1 3 0-1 2-1 3 1 3-3 1 3 1 2 2 0 3-1 3 2 3 3 1 2 3 3-1 2-2 0 3 6-1-2 2-3 0 2 2 2-2 1-3 3 1 1 3 3 0 3 1-2 3 3 0 3 1-1 5 2 2-3 0-2 1-3 0 2-2-2-2-2-4-3 0 0-3-3-2 2-3 2-2 1-3-3-2-1-3-3 1 0-3-2-2-3-1 2-3 0-2-1-3 0-3-3-1 0-3 0-3 3-2-3 0 2 2-1-3 1-3 3 0-3 0-3-1-2 2 2-2 3-2-2-2-1-3 3 0 3 2 3 2 2 4 4-1 3 2 3 1-3 0 3-1 0 4 3-1 1 4 4 1 3 2 4-2 3 1 1 4 3 2 3 3 3 3-1 3 0 4 2-3 3 2 4 2 2 2 3 3 3 2 4 0 2 3-1 4 0 4 3-3 1 4 1 3 0 4 3-2 4 0 3 2 1 3 2 4 2-3 2 3 4 0 2 3 4 2-1-4-1 4 3-2 4 0-1 4 4 0 4 2 3 2 3 2 2 3 2 4 1 3 3 2 2 4-3 2 0 4 0 3 4 2 5-3-4-2-3 3-3 2-3 3-1-4-3-2-3 0-4-2-3-1 3-2-4 0-3-1-4 0-4 0-4 0-3 2-2-3-4-1-3 3-4-2-3 2-4 0-1-3-2-4-4 0-3-1-3 2-4 0-4 0-2 3-1-4-3 2-2-3-4 1-3-1-3-3-4-1 0 4-3-2 2-3 1-4-4 0-1-3-5 1 0 4 3 1 2 3 0-4 3-2 2 3 2 3 4 0 3-1 3 3 2-2 4-1 4-1 4 0 0 4 4 0 6 2-5-1 4-2-2 4 3 2 4 0 3-2 4-1 3 0 4-1 2 3 4-2-2 4 2 3 3-1 3 3 4 1 1-4 2 3 4 1 3 1 3 3 4 1 2 3 2-3 3 2 1 4 2 3 4-2 3 2 3 3 0 4 3-3 3-2 1 4 4 0 1 3 4-1 4-1-4 1-3-3 3-3-3-3-5-1-3 0-2 4 0 3-4 1-3 3-2 3 3-3-2-3-3 2-3 2 1-4-1-4 0-3-4-1-2-3-4-2-2-3-4 0-3-1-4-2-4 0-3-2-3-1-4-2-2-3-3-2-3 1-4 1-3-3-3 2 0-4-3-2-3-2-4-1-3 1-4-2 4-1-3-2 1-4 1-3-4 0-3 1-4 1-3-1-4-2 0 4-3-1-3 3-3-2-3 2-1-3 2 2 4 1-3 2-4 1-3 1-4 0-1 6 2-3-1 4 4 2 2 3 4-1 4-1 0-4 4-1-4-1 3 3 4 0 4 0 3 2 3-1 4 2 3-2 4-1 3-2 4 2 3 2 3-1 3 3 2-3 3-3 4 1 4 0-1-3 3 1 4-1 2 3 2 3 4-1 0-4 0-4 4 0 4 0-4 0-1 4-3-3-3 2-4-1-4 2-3-1-6 1-1-3-3 2-4 2-2-2-4 1-4-1-3 1-4 0 0-4-4 1-3 1-4-1-3-1 1 3-1 4-2-3 2 4 1 3-2 3-3-1-3-2-3-3 0-4 3 1 2-3 4-1 3 1 4 0 3 3 2 3 3 2 2-4 3 1 3 3 4-1 2-3 4-1 3-2 4 1 1 4 2 3 2 3 3-3 3-1 4 1 3 0 3 3-1 4 2-3 0-4 1 4 3-3 3-1-1 3 4 3 3 3-4-1-4 2-3 0-2-4-4 1-3-1-4 1-3 2 1-4-1-3-4-1-2-3-3 2-4 1 1-4-4-1-4 0-3-2-3 0-4 2-3 1-2-3-3 2-5-2 4 0 3-2-3 2 3 2 4-1 4 0 3 0 0 4-1 4 3 2 4 1-2 4 3 2 2-3 4 0 3 3 3-3 3 1 2-4 4-1 1 4 3 1 4-1 4-1-1 4 3-2 3 2 2-3 0 3 3 3 2 3 3 2 4 2 2 3 3 1 4 0 4-1-1-3 3-3 3 0 0-4 1-3 1 3 2-3 3-3 3 2 2 3 3 0-3-3-2-2-4 1-3-2-4-1-3-2-3-1-4-1-2 3-3-2-4-1-2-3 0 3-3 3-4 0-4-1-3 2-1 3-4 0-3 2-4-1-4-1-5-1-2 3-4 0 0-3-4-2-3-1-3 3-2-3 1-4-4-1-4 0-1-3-3-3-3 2-4 1 2-3-2-4-3 2-3-2-4 0 0-4-2 3-4 0-4 1 1 3-2-3 3 2-3-2-4 2 0 4 1 4 3 1 2 3 3-2 4 1 3-2 2-3 2 3 3-1 4 2 3 1 4 2 0-4 1 4 1-3 3 2 4-2 2 3 3-3 3-2 3 1 3 3 0 4 4 1 2-3-2-3-4 1-1-4-3 2 1-4-3 3-2 3 3-3 2-3-3 3-3-2 2-4-2-3-4-1-1-4 0-3-2-3-1-4-2-3-2 3-5-1-3 1 4 0 2 3 1 3-2 3 2 3 1 4 2 3-1 4 4 1 3 3-2 3-1 2-3-1 1-4-2-3-2-4-3-1-2-3-2 3-4 1 0-4-3-3-2-3-2-3-4-1-2 0 4 1 3-1-1-4 4 1 2-3 3-3 3 1 4-1 2 3 4 0 3 3 3 1 4 2 1 3 3 2 3-3 2-3 2 3 4-1 2 3 3 1 4 1 4-1 2-2 4 1 3 2 3 1 4 1 3 2 1 4-1 4 3 2 3 3 3 1 1 4 3 2 3-2 4-2 4 1 3 0 3 3 2 3 2-3 0 4 5-1-2 4-1 4-3-3-3-2 0 4-1-4-3-1-4-1-3-2 2-4 3-1-2-4 0-3-2-4-2-3-4 0-2-3-4-1-4-1-3 0-3-2-2-4-2-3 0-4-3 3-4 0-3 3 2 3-4 1-2-3-1 3-2-3 2-3-3 2-3 2-3-2-2-4-4 0-3-2-3 3 1 4-4 0-3 2-3-3-3 2-2 3-4-1-1 3-3-1-2-3-3 1 0-3-3-3-4 2 3 1 4 0 4 1 4 1 3-2 2-3 0 4 3 1 3 3 3 2 4 1 0 4 1-4 3-2 2 4 0 3 1 4 4 0 3 3 2-3 3-3 3 3 3 1 3-2 3-2 1-4 3 2 3 1-3 0-4 2 1-4-3 3-2-3-2-4-3 3-4 0 3-3-4-1-4 0-1-3-2-3-4 0 3 3 3 0 4 2 3 2 3-1 2 3 2-3 3-3 3 1 0 4-1 4 1 3-2-3 0-4 0 4 4-1 2 3 3 3 4 0 4 1 2-3 2 4 3 0 3 2 2-3 2 3 1-3 4 0 3-2-1 3 3 2-1 3 3 2 3-3 3-2 1-3 4 0-2 2 1 4-4-1-3 1-4-2-4 2 0 3-3-2-4 0-4 0-3-2-3 3-3 2-4-1-2-3 0-4-3 2 2-3-2-3-2-3-4 1-4 0-2 3-1-4-4-1-3 1-4 0-2-3-4-1-3-1-3-3-1 4-2-4-4-1-3 1-1 4-3 3-3-1-3 3-4 0-3-2-4-1-3 1-1-4-4-1 1-6-1 4 2 3-1 4-1 3 3 3 0 4 3 0 2 4-1-4 2-3-2-3 3 2 4 1 3 3 4 0 3 2 3-3 4-1 0 4 3 2 3-3 4 1-1 4 4 1 4 0 1 4 3 2 2-4 5-2 3-1 4 1 3-2 4-2 3-2 3-2 4 1-2-4 5-2 3 2 4 2 1 4 3 1 3-3 0 4 2 3 3-2-2 3 2-3 4 0 1 6-2 3-2-4-3-2-1-4-3 2 2 3-3-3-1-3-4-1-4-2-1-3-3 2-3-3-2-3-4 1-3 0-4-1-4-1-3 1-3 3 1-4 4 0-1-4-1 4-3 2 1 4-3-3-3-2-4-1-3 1-4-1 0 4-4 0-3 1-4 1-3-2-1-4-1-4 1-4-4 2-4-1-4 0-2-3-3 3-3 1-2-4-2 3-1-4 1 4-4 0-3 0 1-3-4 0 4 0 0 4-2 4-1 3-2 4-2 3-3 0-1-5 4-1 3-2-3 2 4-1 0 4 4 1 1-3 3-2 4-1 2 3 3-3 0 4 3-2 4-2 3-1-1 4-3 1 3 2-1-4 4 0 3-1 2 4 3-2 2 4 3-2 4-1 3 2 4 1 3 2 4-1 3 2 4 0 3 3 2-3-1-4 4 2 2-3 3-2 4 1 3 2 4 0 3 2 1-4 3 1 4 0 3-2 3 2 3 2 3 2 2 3 3 2 4 1 3 2 4 0 4 0-2-3 3-1-1 4 2-3-1 3 2-3 4 2-3-1-1 4-3-2-2 3-4-1-3-1-2 3-4 1-3 2-4 0-3-2 0-4-4 0-2 4 0-4 0-4-6-1 3 2 3 2-2 4 3 0 3 3 2-3 4-1 2-3 4 1 3 0 3-1-2 3-4 1-3 2-3 2-4-1-3-2-2-4-3-2-2 4 1 3-3-2-4 0-2-3-4-1-4 1-3 0-4-1-3-2-4 0-3 2-2-3-4-1-2-3-3-3-4-1-3 2-2-3-3 3-2 3-4-2-2-3-3 1 3-2-3-2-3 3 2-4-2-2-4-2-3-2-4 1-3 2-4 0-2-5 0-4 1-4 3 2 3-1 4-2 3-2 3 2-2-3 3 3 2-3 4 2 3 0 1 4 0-4 3-2 0 4 4 1 3 2 4 0 1 4 3 2 3-2 4 1 2-3 3-2 3 2-2 3-4 0 3 3-1 4 2-4-4 1-2 3-3 2 3 2-4 1-1 4 4-2 3 1 4-1 3 2 1-3 2-4 2 3 3-2 3 3 3 0 1-3 4 1 3 2 3-3 3 1 1-4 2-3 4-1 1 4 4 1 5-1-4 2-3 0-1-3-1-4-4-1-2-4-3 1-4-2-3 1-3 3-3 2-3 2-1 4-3 2-3-3-3 1-2-3-2-3-4-1 1-3-3-1-4 0-3-2-3 2-2 3-2 4-2-3-3 2 4 0 1-3-3-3-3 0-3-3 0-4-3 1 0 4-5 2 3 3 1-3 4 0 1 4 4 0 2-3-2-3 3 2 3 3 4 1 3 2 4 0 2 3 0-4 4-1 1-4 4 0 3-1 4 1-3 2 3-2 3 2 0 4 4 1 2 3 3-1 4 2 3 2 4-1 1 3 1-3 2 3 2-3 4-1 2 3 2 3 1 4 4 0 4 0 3-2 4-4-3-1-4-1 4 1-4 2-3-1-2-3-4-1-3 1 0 4-1 4-4-2-4-1-3-1-6 1-2-3-4 1 3-3-3-2-1-4-3 2-4 0-3-2-4-1-3-1-3-3-3 2-3 2-1-3-3-2-2-4-3-1-1-4-4 1-4-1-2 3-3-2-3 2-3-2-4 1-3 2-4-1-3-3-3-2-2 3-3-3-2 4-3 2-4 0-2-3-6-1 4 1 3 1 4 2 3 1 0 4 4-1 4 0 3-2 2-3 1-3 4-2 2 3 3-3-3 2 0 4 4 0 2 3 4-1 3 2 1-4 0-3 3 1 4 2-2 4 1 3 4 0 2-3-2 3 4-1-2 4 3 2 3-3 1 3 4 2 4 1 2-3 2 4 3-3 4 0 3-2 4 1 2 3 4 0 4 1 4 0 3-2 1-4 1 4-3-3 0 4-4-2-3 1-4-2-3 1-3 3-3-1 3-1 4-1-3-3-3-3-3 2-4 1-3 1-4 0-2-4-4 0 4 1 1-3 4 1 2 2-2 4 4 1 0 4-1-3-2 3-2-3-3 2-3-2-3 0-3-3-3-1-3 2-4 2-3-1-3-2-3-3-2-3-4-1-3 1-4 0-2-2 2 3 3 1 4-1 2 2 4 3 3-1 1-4 4-1 2 3 3-2 4 0-1-3 3-1 3-3 3 1 1 4 3-3-2 4 4 0 4-1-3 2-4 1-2-4-2-3-2 3-4 2-4-1-3-1-4 2-2 3-1 4-4 0-1-4-3 3 2-3-2-4-3-3-3 1-4 1-3-2-4 2-2-3-3-2-4 1-3 2 3-3-4 2-3 3-3 1-4-1-1 4-1-3-5-1 4 1 3 2 4-1-3 3 3 3 3 2 3-3 3-1 3 2 3 0 4 1 4 1-3 2 2-2 3 3 0 4 3-2 4 0 3-2 2 3 2 3 3 2 4 0 2 3 1-3 5 0-1-4 3-2 4 0 1-4 2-3 1-3 1 3 3 3 3-2 4-4 3-3 3 3 3-1 4-2 0-4 2-3-2 4-1 3-2 3 0 4 4 0 4 1 1 3 2 4 1 3 3-1 0 4 1 3 3 2 3 2 2 4 2 3 5-2-4 1-1-3-4 1-3-2-2-4-1 4-3 1-4-1-3-1 1-3-3-2-3 3-1-4-3-2 1-3-2-4-2-3-3 0-4 0-5-1-2-3-2 4-2-4-2-3-3 2-3-1-2 3-3 2-3-2-3-2-4-1-4 1-2 3-2 3 0-4-2-3-3-1 0 3 1-3-4-2-3 0-4 2-1 3-4 2-4 1 4-2-2-4 2-5 0 4 3-3-3 3 3 3 3 2 3-2 2-3-1 4 4 0 4-1 2-2 2 3 3 3 0 4 3 2 2 3 2 3 0 4 2-3 4 0 3-2 0 3 2 4 1-4 2 3 4 1 1-3 4-1 3-2 6 0 3 1 3 2 4 0 4-1 0-4 3-2 0 4 4 0 3 2 4-1 1-4-3-1-4 0 0-4-3-1-3-2-4 1-3-3 2-3-3 2-4 1-3 2-1-4-3 1-1-3-4-2-3-1-4 0 0-3 2 3-4 0-3-3-4 1-3-1-4 3-3-2-3-2-3 2 0-3-4-2-3-3-3 1 3-1 1-4-3 3-4 1-3 2-1-4 0-4-2 3-3-3-4 1-1 3-1-4-4-2 1-4-1-3 3-2 3 2 0-3 4 2 3-1-1 4 0 4 4 1 2-3 3-2 3 2 3 3 1 4 4-2 3 2 2 3-3 2 3 1 3 3 1 4 2 3 3 2 2 3 2 3 4 0 3 2 3 3 4-1 1 4 4 0 3-2 4 2 3 2 3 3-2-3 2 3 3 2 4-1 0-4 3-2 0-4 2-3 3-2 2-3 3 1 0-4 3-2-2-2 3-3 2-3 3 0-2 2 3 1 3 3 0 4-3 3-3 1 1 3 1 4 2 3 3-2 3 2-4 0-2 3 4 1 2 3 1 2-3 3-4 0-3 0-4 0 0-5-4 2-1 4-3 2-1-4-1 4-3 2-4 0-3-2-2-4-3 0-1-3-4-1-1-4-2 4-3-1-4-2-1 4-3-2-3-3-2 3-2-4-4 1-4 1-3-1-4-1-3-2-4-1-3-1 0-4-4 2-1-4 0-4-1-3-3-3-4 0-3-1-3 2-4-1-3-3-3 1-4 1 2 4-2 2 2-3 0-4 4 1 2 4 3 1 3-3 4 1 4 0 3-2 5 0 1 4-4-1-4 1-4-1-3-1-2 3-3 1-3 3 3 4 1 3-2-3 4-2 2-3 3-1 3-3 1-3 3-1 4 1 0 3 3 2 4-1 3 2 3 3 3 2 3 2 1 4 4 0 3-2 3 2 4-2 3-1 4-2 0 4 4 1 0 4 1-4 4-1-1 4 4-1 3 2 4 0 1-4 3-2-1 3 4-1 4-1 2 3 4 2 0 3-2 4 5 3-4-1-3 0-4 1 4-1-3 3-3 1 1-4 0-4 0-3-4 0-3-2-4-2-4 1-3-1-4 0-2-3-4-1-3-2-4-1 3-3-1-3 2-3-4 1 1-4 0-4-4 0-2-3-4-1-3 0-3 3-2-4-5 2 3 0 4 2 1 3 3 3 4 0 1-4 3 2 1 4 1 3 4 2 3 0 0 4 2 3 3 1 2 1-3 0-4 1-4-1-3 1-3-3 0-4-4 1-4 0-4-1-3 1-4-1-2 3 0 4-3 2-2-4-2-2 2-4-4 2 3-2 0-4-5-1 1 4 4-2 3 2 0-3 3 1 4-4-4 0-2 4 0 4-3-2 0-4-3 3-3 1-3 2-2-3-1-4-3-2-2-5 0-4-1-4 3 2 3 1 2-3 2-3 3-3 3 2 3 0 4 2 4 0 2-3 3-3 3 2 4 2 3 0 1 4 3-2 2-3 3 1 4 0" fill="none" stroke="#231f20" stroke-width="1.0" stroke-linejoin="round"/>
<rect x="542.30" y="261.20" width="51.80" height="41.20" fill="#c5dcef" stroke="#55606c" stroke-width="1.2" />
<use href="#mcurl" transform="translate(570.50,285.00) rotate(0) scale(1.050,1.050)" style="color:#3b3a86"/>
<rect x="482.70" y="258.30" width="113.55" height="119.20" fill="none" stroke="#231f20" stroke-width="2.4" />
<path transform="scale(0.5)" d="M1328 707l-1 -6-1-3 4-4 1 1-3-1-3 0-2 2-3 1-2-3-1-3 0-3-2 2-2-3 1-3-3-2-4 1 3 1 3 1 2 0 3 0 3 2 3 0 3 0 3-1 2 2 5 3-1 3-2 1-1 3-3-1-3 1-3 1-2 2-3-1 1-3 1 3-2-2-3-1-3 1-5-1 0 3-3 2 3 2 2 1 0 5 2-2 3-1 3 1 1-3 1-3 3 0 1 3 3 1 4-4-2 2-2 3-4 1 6-7 4-8 3-8 3-9 4-8 4-8 2-9 3-8 4-8 4-8 1-9 3-9 1-9 1-9 4-8 1 1 8 3 7 7 7 5 5 7 5 7 7 6 7 6 7 5 5 8 8 5 6 6 4 9 8 4 6 6 7 6 6 6 7 7 5 7 6 0-9-3-7-5-8-3-6-7-8-5-7-6-7-4-8-6-7-5-7-5-8-5-8-4-8-5-8-4-8-4-8-3-8-4-5-8-8-4-8-4-5-7-7-6-3-1 1 8 6 7 3 9 4 8 4 8 8 5 0 1 0 9-5 7-6 7-1 9-4 8-3 8-4 8-2 9-5 8-5 8-1 5 2-8 5-8 3-8 4-8 4-9 7-5 4-8 7-6 4-8 4-8 5-7 4-8 7-6 4-8 6-7 2-9 2-9 5-7 2-9 6-6 4-8 4-8 6-7 0-9 1-4 4 8 2 9 4 8-1 9-1 9 1 9 3 8 2 9 3 9-1 9-1 9 1 9 1 9 0 9 0 9 2 8 2 9-1 9 0 9 0 9 1 9 0 9 1 9 4 8-1-1-2-2-1-3-3-1-3 1-3-1-3 1-2-2 0-3-1-3-3 1-1-3-2-2-3 0 3-2-3-1 2-2-3 2 1-3-3-2 3-2 0-3-2-2 1-2 3-1 3-1 3-1-2-2 3 1-3-2-1-2-3 1-1-3-3 1 0-3-3 1 3 1 2-2 3 0 3-2-1-3 1-3 0-3-2 2-3 0-2-2 2-2-3 0 0-3-2-2 1-2 2-2-3-1-3 0 3-1 2-2-1-2 2-3-1-3 1-3-2-2 1-3 3 0 2-1 3-2-2-3 2-3-3-1-3-2-1-2-3 0-1-2-2 2 3-1 1-3-1-2-2-1-3-1-3-2-2 2-2-2-3-1 3-2 3-1 2-1-2 2-3 1 3-1 1-3 2-2-1-3-2-2-5-1 2 0 1-5 2-2-1-3 0-3-3-1-1-3-3 1-3-1 1-3 1-3-3 1-3 0-3 0-3-1-2-1-3-1 2 1 2 2 0-3 3 1-3 1 2-2 3 0 1 3 4 2-2-1 2 1-1 2-3-2-1-2-3 1 3 1 2 3-3-1 0-3 0-3 3 0 0-3 3-2 2-2-1-6-2-2-2 2-3 1 0 3-2 4 0 3 2 3 3 2-3 1 2 2-1 2-1-2-1 3-2-1 0 3 1 3-1 3 3 0 1-2 0 3 3 1-1 3-2-1-2 2 3-1-1 3 2-2 2-2-2-2 3 1 2-2 0 3 0 3-2 2 0 3 1 3-3 1 1 3 0 4-2-2 2-1-1-3-1-3-2-2 1-3 2-2-2-2-1 3 1-2-2-1 1-3-3-1 0-3-2-3-2-1-3 0 1-3 1-4-1 3 1-3 2 3-2-2-1-3-2-2-3-1 3 1-3 0 1-2-1-3 2-2 3 2 1-3 0-3 2-1 0-2-3 1 3 0-1-3 1-2 2 2 2-1 1-3 3 1-2-1-3 1-3-2 1-2 1-3-1-3 1 3 3-1 0-3-2-3 1-3 1-2-1-3-1 3 3 1 2-2 0-3-3 2 3-1-3-2 3-1 1-3-3 1 0-3 0-4 0 3-1 3 0 3-2 2-2 2 1 3 0 3 1 3 1 2 1 3-2 3 1 3 3-1-2 3 2 2-4 4-3 1 2-3 2-1-2 1 2 2 3 0 3-1 0 3 2 2 0 3 0 3 0 3 1 3 2 2-3 2-2-1 2 2 0 3-2-3 3 2 2 1-2 2-3 1 0 3-3 1 0 3-1 2 0 3-1 3 0 3-3 0-2 2-3 0 1 2 2 2 2 2 2 3-1 2 1 3-1 3-1 2 3 1 3 0-3-1 2 3-2-2 1 3 2 0 3 2 0 3 2-2 3 2 3 0-1 3-3 0 2-2-2-2 0 3 0-3-1-3-1 3-3-1-3 1-3 5-2-3 2-2-2-3 3-1 2-3-3 1 1-3 0-3 2-1-1-3 3-1 2-2 2-2 2-2-3 0-1-3 3-1 2-2 2-3-1-3-1-3-3 1-3 2-1-3 3-2-2-3-2-2-1-3 3 0-2-2-1-3 1-3 3-2 0-3-2-1-2-2-3-1-1-3 3-1 0-3-2-2-3-1 0-3 2-3-1 3-2 2-2 2 0 3 0 3 1-3-1 3 3 2 0 3 3 0 2 2 3 0 1 3 2 1-3 0 2 3 0 4-1-2-2-2-3-2 2-3-2-2-3-1-1-3 1 3 3-1 1-2 1-3 1-3 1-3 2 2 3-1-1-2-2 2-3-1 1-2-2-3 1-2-2-4-2 2 1 3 3 1 0 3 1 2 2 3-1 2-3-1 0 3 0 3 2 3-3 1-2 2-2 5 0 3-3 1 2 3-1 3 3 1-2 2-3 1 3 0 2 1 0 3 0 3-2 3-1-3 3 1-1 3 1 3 3 3 0-3-1-3-2-3-2-2 1-3-2 1 2 2 1-3 0 3 0-3-2-2 0-3-3 1 1-3-3-3 0-3-2-2 3 1-2-3 1-2 0-3 1-3 1-3 0-3 1-3 2-2 1-3 3-1-3-5-1 3 1 2-1 3 3 3 1-2-1-3-3 0-3-1-3-1 3-1 3 0 1-3 0-3-2-1 1 2 3 1 1-2-2-3 1-2-2-3-3-1-2-2-2-3 0-3 2-1-1-3 2-1 2-2 3-1 3 1 1 3 3-1-1-3-1-3 0 3-2-1 1-3 3 0 0-3 1-2 3 0 2-2-2-3 1-3-6-2-2 2 1 3 0 3-1 2 0 3 1 3-2 1 2-2 0 3-2 1-2 3 3 1 3 1-2-2-3 2 0 3 0 3 1 3-1 3 2 2-1 3 0 3 0 3-3 1 3-1 0 3-1 3 0 3 0 3-1 2-3 2 2 2 0 3-2 2 2 3-2 2 3 0 3 5 3 2 2 1-2-2 3 0 2-3 0-3-1-2 0-4-1-3-1-3-1-3-2-2-1-4 1-2-3 1-1 2-2 3-1 3-3 0-3 1-2 5-2-3-2-2 2-1 1-3 3 2-3-1-2-2 2-2 1-3 2-2 0-2 2 2 0-3 3-3 3 0 1 3 3 1-3 2 3-1 1 2 2 3-3 1-2-1-1 3-2-1-2 2 3 0 1 3 2 1-2 2-1 3-1 3 3 1 1 3 2 1 0 3-3-1 1 3-3 0 0 3 2 3-1 2 2 4-2 1 1 3-3 0 1 2-3-1-3-2-3 0 3 2-1 3-2-1-3 2 1 4-1 3 2 2 3-2 3 1 2-1 3 1 0 3 3 0 0 3 2 3-2 2 3 1 1 2-3 4 0-3 0 3-1-3-3 2 0-3-3-2-2-1-2-3 2-2 0-3 2-2 0-3-1-3 3 0 3 1-3-2 1-3-3 0 0-3-2-2 3 0 1-2 1-3 3-1 0-3 1 3 3-1 3 0-2-3 2-2-1-3-2 2-1 3 2-2 1-3 2-2 2-2-3 0-1-2-3-2-2-1-4 3 1-2-3 1 2-2-1-3-1-3 1-2 2-2 2-3-2-2-2-3 1-3 3-4-5 2 1 3-1 3 1 2 3 0-2 1-3 1-2 3-3-1-1 5 3 1 2-2-1-2 2-3 1-3 3-2-1 3 1 3-1 3-2-3-3-1-3 0 3 1 3 1-1 2-1 3-2 2-1 3-3 1 3 1-2 2 1 4 0 3 1-3 2 3 3 4 1 3 3-1 3 0 4 3 3-2-1-3 2-2 3 0 0-3-3-2-2-2 0-3 0 3 2-2-1-3 3-2 2 1-1 3-3 0-1-3-3 1 0-3 3 1-3 0-3-1-2-3 3-2-3 0 2-3-1-3 0-3-3 1 0-3 1-3-3 0 1 3 1-3-3-2 2-3 0-3 0-3-3-1 3 0 1-3 0-3 2 0 1-5-2 2-3 1-3-1-2 3-1 2 2 2 1-2-2 1-3 2 3 0 2-2 3 1 3 1-2 3-2 1 1 3 3 1-3 1 0 3 3 1 1 3-3 2-2 2 3 1 0 3-2 2-2-1-3 1-2-2 2 1-1 3 2 2-2-2 3 1-1 3-5 3 3-2-1-3 2-2-1 3-1-3 2-2 3-1 3 0 1 3-2-3 2 2 3 0 1-3 1-3-1-3 3 1 1-3-2-2 0-4 0-3-3 0 1-3 0-3-1-2-1-3 0-3 0-3 2-3 2-1 3 1 2-2-1-3-1-3-2-2 1-3-3 1-2-3 2 1 2 3-3 1-1 3 2 1 2-3-3 2-2 1 0 3 2 1-1 3 0 3-1 3-3-2-1 3 3 1-3 2 3 0-3 1-1 2-2 2-2 2-1 3 2 3-2 2-1 3 2-2-3 1 2 2-3 0-3-1 3 1 0 3-3 1-1 2 2 2 3-1-3 0-1 2-3-1 2 2-3 0-1 3 2-1-2 2 2 2 3 1 1 3-2 3 3-1-2 2-1 2-3-1 0 3-3 1-2 2-3 1-3 2-3 0-3-1-2 2-3 1-3 1-2 2 0 3-3 0 0 3-3 2 3 0-2-2-2 3 0 3 0 3 0 2 2 3-3-1 1 3 3 0 2 1-1 3-3 0-1 2 1 3 2 2-2 2-3 2 0 3 1 3 2 0 3 3-2 2 2 3 0 3 0 3-2 2-2-2-3 0-2 2 0 3 0 2-1 4-1 3-1-3-2 1-2 3 2-2 3 1 1 3-1 3 2 2 3 2 4 2 2-2-1-3-3-2-3 1-3 1-2-2-3 2-4-4 1 3-1-3 3 2 3 1 4-1-1-2-3-3-2 1 3 0-3-1-3 1 1 3 0 3 0 6 0 3 2 2 2-1 1-3 3 1 3 0 2 0 2 2 3 1 1-3 2 2-2 2 3 2 0 3 3 1 2 2 4-2-1 2 1-3-3 2-2 2-3 0-2-2-2-2-2-3-3 0-2-1-3-2-2-2-2-2-3 0-2-5-1-7-4-5-3-5-1-6-1-7-4-5-3-5 1-6-4-6 1-6 0-6-4-5 0-7 0-6 0-7 0-6 1-6-2-6-3-6 1-5 3 5 0 7-3 6-1 6 3 6 2 6-1 6 2 6-2 5 0-6 0-7 0-6 2-6-3-6-2-6 5-5 0-6-1-2-2 6-2 6-2 6 2 6 1 6 1 7-2 6 2 6 4 5-3 5 2 6-2 6 0 7-3 5 1-7-1-6 4-5 2-6 4-5 2-6 0-7 1-6 2-6 0-7-4-5-1 0-3 6-3 5 1 5 2-6-1-6-3-5-2-1-1 6 0 6 0 7 1 6-2 6 1 0 0-6 2-7 1-6 2-6-5-4 3-3 4 1 2 3 3 0 4 0 4 1 3 2 4 0 3-2 4 2 2 3 3-3 3-2 3-2 3 3 2 4 3 1 3-2 3-2 4-2 3-2 2 3 1-3 1-4 3 1 4 2 2 3 3 2 3 0 4 0 3 2 3-3 3-2 3 3 3 3 1 3 4 2 3 1 1 4 4-1 3-2-2-3 4 1 3 1 4-1 4 2 3-2 3 2 3 0-1-3 3 2 2 3 2-4-1 4 3-2 4 1 3 0 4 2 3-3 3 3 3 3 3 2 3 1 3 3-1 3 3 3 3 0 1 4 4-1 2-3 3 2 3-3 2 3 3 1-4 1-3-2-3-2-2-3-3-2-4 1-4 0 1 3 0 4-4 2-1-4-4 2-3-1-3 3-2-3-3-3-4 2-3-1-4-1-2-3 4-2-4 2-2-3-1-4-3 1-3-2-3-3-1 3-4 0-3 2-3 2-4 0-4 0-3 1-2 4-2-3-5-1 4 0 3 2 4-2 3-1-1-4 5-4-2 4 4 1 2 3 1 4 2 3 3 3 1 3-1 4-3-2-3-2-3-2-2-3 3 2-2 2 0 4-3 3 0 3 3-2 4 2-1 4 2 3 3-2 4-1-2 3-1-3 3-2-1-4 0-4 3-2 4 0 3 2 4 0 4 0 2 3 4 2 4-1 3-1 2 3 2-3 4 1 3 1 4 0 3-2 0 4 1-4 2-3 0 4-1 3 4 1 1-4 2 3 4-4-4 2-3 0-4 1-1-3-4 1-1-3-1 3-3 2-3 2-3-1 0-4-3-2-3 3-3-3-3-1-3 3-3 2-4-1-3-1-4 0-4 1-4 0 2-4-3 2-2-3-4 2-3-4 2 2 4 2 3 2 3-3 3-2 3-2 2 3 3 2 3-3 2-3 3 3 2 3 3-2 4 1 3 3 4-2 3 3 1-4 3-2 4-1 3 2 3-2-4-1 1-4-3-2-1-4-2 3-4 1-3 2-4-1-4 0-3 2 1 4-4 1-3 2-3 1-4 2 0 4-3 3-4-2-4 1-4-1-3-2-2 2-3-2-2-3-2-4 0 4-4-1-3-2-3-3-3-1 3-1 4 1 3 3-1-4 2-3 4 2 4-1 4-1 3-2-1 4 1-4 1-3 4 0 3-3 3 3 3-2 3 2 3 3 3 3 3 0 4 0 3 2 4 0 4 1 3-1-1-4 2-4 3 1 0-4 3 1-1-3 1-4 4-1 3 1 4 1 4 1 1-3 6 2-4 1-2 3-2-3-3 2-3 0-4 1-2 3-2 3-4-1 0 4-3-2-5 1-2 4-4 1-3-2-3-3-3-2-3 3-3-1-1 4-3 2-2 3-4 0-3-2-2 3-4 0 0 4 0-4-4-1-3 0-3-2 1 3 3 3-4 0-1 4-4-1-3-2-2 3-3 3-1-4-1 4-1-4-3 2 0-4-3 3-2 3-1-4-5 0 3 1 3 2 4-1 3 0 4 0 2-4 1 4 1-4 4-2 2-2 4-1 4-1 2 3 3-3 3-3 3 3 3 0-1-3 3-3-1-4 4 1 4-1 3 2 4 1 4-2 3 1 0-6 2 4 3 2 3-1-1 4-1 3 1 4-1 3 2 4 0 3 3 2 2 4 3-1 3-2-2-3-3-2-3-3-2-2-4 0-3 2-4-1-3 3-2 3-2-3-4-1-3-2-3-3-4 1-2-2-4-1-4-1-2-3-4 0-3-2-4 1-2-3-1-3-4-2-3-1-4-2-3 1-3-3-3-2-1 3-4 0 2-3 4 1 4 0 3 3 0 4 4 1 3 0 4 0 4-2 0-3 3-3-2 3-1 4 3-2 4 1 3 2 4 0 3 2 2 3 4-1 3-2 2 3 0 3 3 2 4 0 4 0 3-1 0 4-1 3 3-2 3-1 3-2 2 3 4 0 4-1 3 1 3 3 3-2 1 3 2-3 3-1 1 3 3-1 5 1 0-4-3 0-3-2 1-3-2 3-3-2-4 2-3-1-4-2-3 2 1-3-4-1-3 3-1-4 0 4-4-2-3-1-1-4-3 2-3-2-4 0-3-1 0 4-2 3-3-1-2-4-4 0 4 1 1 3-1 4 4-2-1 4 3 2 3-2 4 0 3 3-1-4 0-4-4 0-3-3-1-3 1 3-2 4 0-4-4 1-1 3-2 4-3 2-3-2-1 3-3 0-4 1-1-4-4 0-3-2-4 0-4 0-4-4 3 3 3 0 3 3 1 4 3-2 4 1 4 1 3-2 3-2 2 3 3-2 2 3 2-3 2-4 2 3 3 3 0-4 2 4 3 0 4 1 4 2 3 2 1 3 1-3 4 1 3-2 3-1 3 3 3 2 3-3 5 2 4 1 2-3 3 0 4 0 1-3 4 1 2 3-3-2-4 0-3-2-4 1-3-3-3 1 1 4-2-3-4 1-4 1-4 0-3 2-3-3-3-1-4 1 0-4-2 3 3 0 2 4-3-3-4 1-4 1-1-4-2-3-4 1-3 1-3-3-3-2-1 4-3 1-4-2-3 3 0 3 3 2 1-4 3-2 2-3 1-4 0-3 3-2 4 0 1 3 1 4 5 0-4 0 1-3-4-3 1 3 4 2 0-4 3 3 3 2 4 1 3 2-1 3-3 2-4-1-3 1-4 0-4-1 1-3-4-2-3 1-4-1-3 2-4-2-1-3-1 4-1-4-3 2-4-1-2-4-4-1 0-4-3-2-2-4-3 2-3-2-3 3-1 3-3-2-4 0-2-3-5-2 4 1 4 0 3-1 4-1 3 3-1 4 3-1 1 4 2-3 4 1 3-1 4 1-1 3 3 2 3 2 1 3 0-3 4 0 3 2 0 4 0 3 2-2 2-4 3 2 4 0 4-2 3 2 4 1 2 3 2-3 4 0 3 2 0-4 4 1 5 1 2 3 4 0 2 3 3 2 3-3 3 3 3-2 3 2 4-2-1-4 1-3 1-4 0 4-2 3-3-2-3-2-3-3-2-2-2 3-4 0-2 3 0 4-3 2 2-3-3 3-3-2-4 2-2 3-4-1-2-5-2 3-4-2 0 4-4 1-3 2-3-3-2-3-2-3-4 1 0 4-4 1-3 1-3-3-3 2-4-2-3 1-2-4 3-2-4-2 0-4 2-3 0-4 1 4 3-1 4 0 3-2 3-3 1 4 4 1 0 4 3 0 4-2 1-3 4-1 4 2 3-2 2 3 4-1 1-3 4 1 4 0 4 2 2 3-2 3 3 2-2 4 4-1 2 3 0 4-2 3-5 5-5 3-5 4-5 3-6 4-5 4-5 3-4 5-1 7-2 6-4 5-5 4-6-1-3 5-6 3-4 4-1 7-5 4-1 2 6 0 6 0 7-2 6 2 6 1 6 0 2 1-7 0-6 2-6 2-5-3-6 3-5 4-6-1-7-1-5-3-6-3-6 2-7 0-6-2-4 4-5-2-5 4-7 0-6 2-2 1 6 2 6-2 5 3 6-3 5-3 6-3 6 2 6-1 7 2 5-3 4 4-5-4-7 0-5-3-5-4-6-3-6 2-7-2-5 3-3 1 7 0 6 1 6 2 6-2 6-2 6 3 6 0 5 3 6-1 7-2 6 0 5 4 6 1 7 2 6-2 6 0 7 1 6-1 6 1 7-1 6-2 5-3 6 2 6 3 6 0 0-2-6-1-6-3-6 1-6 1-5-5-6 1-7-1-6-1-6 3-6 0-6 1-5 4-7 0-5-3-6-2-7-1-6 0-6 1-7 1-6 0-5 3-3-2-3 0 2-1-1-3 0-3-1-2-3-2-2-2-3-1-1-3 1-2 1-3-2-2-3-2 2-2 3-1 2-3-1-3 0-3 3-1-2-3 3 0 1-3-3-1-2-3-2-2-3-1 3-1-2 3 0-3 3-1-1-3 0-3-3 1-3-1-1-2-3 0-2-2-3 0-2-3-2-2-1-3-3 1-2-3 3 2-2 3 2-3-3 1 3 0-3-2 1-3-1-3 3 0 2-2-3-1 2-3 1-2 3-1-3 0 3-1 3-1 0-3 2-3 1-2-3 1 0-3 1-3-2-2 2-2 3 1-1-3-3 0 0-3-2 1 3 0 3 1-3 0-3 2 3-2 1-2-2-2-3 0-1-3 0-3 2-2 0 2-2-2-2-1-1-3 3-2-3 1-2-2-3-1-3-2 0-3 3-1 0-3-2-2 0 3 3 0-3 1-1-3 1-3 2-1 1-4 0-3 0-3-1 2 3 1 2-1 3-1-2-2 3 1-3 0 1-3 0-3 0-3-2-2 3-1-2-2 2 2 0-3 1-3 1-2 0-3 0 3-2-3 2-2 1-3 2 2 3 1 2 2 2-1 0-3-1-3 3 1 3 1 1-3 3 2 4 2-2 2 3 0-3 2-3 0 1 3-1 2 0-2-2 2 1 2 1 3-2 2 2 2-2-2-3 0 0 3-3 3 3 1 2-3-1-3-1 3 3 1-1 3-1-2 0-3 0-3 1-3 3 1 1-3-1-3-2 2 2-2 1-3 1-3 2 2 0-3 2-2 3-2 2-1 1-3-3-2 3 1-3 0 3 0 3-1 3 2-2-3 1-6 0 3-3 1-2 2-3 0-3 2 3 0-3 0 2 3-3 1-2 3 0 3-3 1 1 3-2 0-3-2-2 2-3 2-1 3-2 2-1-3-2 0-3 2-2-2 1 3-1 3-3 0-3-2-1-2-1 3-5 0 0 3 3 1-1 3-1 2-1 3 1-3 2-2 0 3 3 2 4 3 3 0-1-3 1-2 3-1 2 2-1-3 3-1 5 0-3 2-2 4-2 1-3 0-2-2 3 0-2-3-3 0 3-2 2-2-3-1 3-1 3 0 1-3-2-2-1-3 1-2-1-6-1 3 1-3-3-1-3 0-5-1 1 3 2-2 3-1 3 1-1 3-2 1 3 1 0 3-1 2 3 2 1-3-3 1 0 3 1-2 3 1 3 1-1 3 3 0 3 1 3 1 1-2 1 3 1-3 3 1-2 3 3 0 1 3 2 3-3 0-3-1 0 3-2 2 0-3-3 1-3-5-3 1-3 0-3 0-1-3 3 0-1-3-3 1-3-2 3-1 1-4 2 2 1 3 0 3 1 3-2 2-5 1-8-4-9-1-8-3-9-1-1-1 6 7 5 6 5 8 6 7 6 7 3 8 7 6 5 8 5 7 2 1-3 9-1 9-1 8-3 9 0 9-4 8 0 3 7 6 8 4 9 1 9 1 7 6 8 3 6 7 7 6 8 4 8 5 6 6 9 4 7 4 9-1 4 3-4-8-8-4-7-6-7-5-9-1-5-8-6-6 0 2-6-7-4-8-1-9-6-7-7-6-3-8 0-9-6-7-3-8-6-8-6-6-2-4 7 6 9 2 6 7 8 4 8 4 8 2 9 3 9 1 8 5 8 3 8 5 9 2 7 5 9 2 8 3 8 5 8 3 4 1-3 0-3 0-3 1 3-2-2-2 0-3-2-2-2-2-2-2-3 0-2 2 0-3-2-2 1-2-1-2-3-2-1-2-3-1 2-3-1-3-3-1-2 1-2 2-2-1-2-3-2-2-1 3-3-1-3 1 3-1 0-3-2-2-3 0-2 2-2-3-3 0-1 3-2-2 0-3-1-3-1-3-2 3 2-3-2 3-3 0-2 0-3 2-3-1-3-1-1-3 2-2 3-1-1-3 3 0-3-1-2-2-3-1-1-3-3 0-3-1-2-2 1-3 0-3 1-2-2-2-3-1 2-1-2-2-2-1-3-1-2-3-3-1 0-3 0-3-2-2 2 2-2-2-2 2-2-3-2-2-2-2-3-1 1-2-2 2 3-2-1-3-2-2-1-3-3 0 1-3-3-1 2-3-3 0-3 0-3-1-1-3-3-1 1-3-1-3-2 2-2-2-3-1-2 2-2-3-3 1 1 3-2-2-3-2-2 3-5 1 2 3 0-3 0-3-2 2-3-2-2-1 0 3-3-1-2 2 1 3-2-2-3 0-3 2-1-2-2-3-4 1 3 0 3-1 2 2-2-2 2-2 2 1-1-2 0 3 1-3 0 3 0-3 3-1 3-1 1-3 0 3 2-3 1 3 5 1 1 3-3 1-3-1-3 1-3-2-2-5 3 1-2 1 0-3-2-1 3-1 2-2 0 3 1-3 2-2-1 3 1 3-1 3-2-3 3-1-2 3 1-3 3-2 1 3 3 1 3-1 4 0 3-2 2 2 2 2 1 3 3 0 0 3 0 3-3 2 0 3 3 0-2 1 3 2-1 3-2-2-1 3 2 2-2 3 2-3 0 3-3-1-2 2-1 3-3 1-5 2-2 2 2-3-2-2 1-3 0-3-2-2-3 0 0-3-2-2-2-2 3 1-3-2-2 2-2 5-1-3 0-3-2-3 3 0 3 0 2 3-3 0 2-2 0-3 2 0 1 3 1-2 3 0 3-2 1 2 3 1-3-1-1-2 3 1 1-3 0-3 2-1 2-3 2-2 3 1 2-3-2-2 2 1 3-1 5-4 1 3-3 1-2 3 2 3-1 2-2-2 0 3-2 2 1 3-2-1 2 2-3 1-1-2 0 3-3 0-2 2 1 3 3 1-1 3 3 2-3-2-2 2 3 2-1 3-3 1 3-2-3 2-1 3-2-2-1-3-2-3-2-2 1-3-3 1-2-2 1-3-4-3-1 2-3-1 0 3-3-1-3 3 3 0 1-3 2 0-1-3 2 1 3 2-2-2 0-3 2-2 1-4-3-1-1 2 0 3-3 0 3-1 3 1 3-1-1 3 3 0 1 3 1 3-2 3 3 1 2-2 2 2 0 3 0 3-2 3 1 2-3 1 1 2 2 3-3 1-4 3 1-3 2-2 2-3 3 0 3 1 3-1 1-3-1-2 3 0 0-3 0-3 3-1 5 0 2 2 0-3 2 2 2 3-2 1-3 1 0 3 2 2 1 3 3-1-1 3 1 3 3 0 0-3 3-1 2 2 1 3-3 1 3 0 3-2 2 3 3-2-2 3-2 2 0 3 1 3 3 1-3-1-2-2 1 3 3 0 3 1-2-2 1 3 2 2 3 1 2 2 1 3 3 1 1 3-2 2-2-1 0-3-1 2-2 3-2 2-3 1 0 3-3 1 2 1-2 3-1 3 1 3 1 4 2-2 3-1-3-1 0-3-3 1-3 0 3 0-2 2 2-2 2-2 3-1-1-2-2-2-2-2 0-3-1 3 0-3 0-3 0-3 1-3-2-2 2-3 0-3 3 0-2-3-2 3-3-1-3 0-2-1-3 2 1-3 2-3 2-2-2-3 1-3-3 1 2-2 3 1-2-2 3-1-1-3-1-2 0-3-1-3 1-2 3 0 0-3 1-2-2-2-1-3 3 2 1-3 4-2 2 5-3 2 1 3 2 2 2 2 2 2 1-2-2 2 1 2 2 3 1 2 2 3 2 3 2 2-2-1-5 4-2 2-3 1-1-2-1-3-1-3-3 1-3 0-1-3 1-3-2-2-1-3-3 1-3-6-2-2-3 0 1-3-2-2 0 3 3 0 3-1-2 2-2-2 2-2-2 1-3 0 2-2 1-2-3-1 2-3 2-2-3 0 3-1-3 1 3 1-2-3-2-2 2-1 3-2 1-3 2-3-2-2 3-4 0 3 0 3-3 1-2 2 3 0 0 3 3 1 1 2 2 3 3 1 1 3 3 1-3 0-3 1 3 0 3 0 1 2 2 3 1 2 3 2 2 2-1 2-1 3 2 2-1 3 2-2 3 1-3 1 0 3 2 0 3 3-2 5-2 2-1-2-2-3-1-3-2 2-3-1 3 2-2 2 0-3-2 2 0 3-1 3-3 1-4 1-2-2 0-3 3-1 2 2-3 1-3-1 3 2 0-3 0-3 1-3 2-2-1-2 2-3 3-1-1-3-2-2 1-2 0-3-2-3-1-3-1-2-3-1 1-2 3 0 2-3-2-3 3 2 0 3 1 3 4 2-3 1-2 2 2 2-3 2 0-3-2 2 0 3-2-1 2 0 3 0 2 2-3 1-3 1-1 2-2 3 1 3 1 3-1 2-2 5 3-1 5 3 3-1 3-2-1-3 0-3-1-3-1-3 2-2-3 0-1-3-2-2-3-1-2-2-2 2-2-2-3 2-2-2-3-1-1-3-2-2-3-4-1-3 1-3 2-1 3-2 3 1 1-3 1 3 0-3 0-3 0-3 2 2 1-3 3 0 2 2 2-2 1 3 2-2-2-3 1 3 1 3 2-3 4 1-3 0 2 2-1 2 0 3-3-2-2 2 3 1-3 1-3 1-2 2 2 2 3 0-2-1-3 0-1 3 3 0-2 2-1 2 0 3 3 0 2 2-2 2 1 3 3 0 1 2 2 2 2 3-3 1 2-3-3 0-2 2 0-3 3-1-3-2-4-2-2 2 1 3-3 2 3 1 3-1 3 0 0 3 3 1-3 0-1 3-1 2 3-1 1 3 0 3-2 2 2 3 1 3 2 2 0-3-3-1 0-3-3 1-1-3-1-3-2-1-2 2 0-3 0-3 2-2 2-2-2-2 1-3 3-1 0-3 0-3 1-2 3-1 2-3 3 1 1-3 1-2 0 3-2-3 1-3-3-1-1-3-3 1 0-3-2-2-3-1-1-2-3 1 1-3 0 3 1-3-2-3 2-2 3-1-1-3 1-2 3 1 2-1-1-3 2-2-2-3-1-2 3-2-3 1 1-2-1-6 2 2 1 3 1 2 0 3 3 0-3 1-1 3-1 3 2 2-3 2-2-3-1 3-1 3 0 3-3 0-2 5-2 6 2 1 3 0-2 2 3 2-3 0 3 1 1 3-1 3-1 3 1 3-3-1 2-3 0 3 1 3 3 1 2 1 0 3 3 1 3 4 2-3 2 3-2-3-2-2 1-3 2-2-1-2-3-1-1 3-1-3 3 1-1-3-1-3 2-1 3-1 3 0-2-2 2 2-3 1 1-3 1-3 0-3-2-1 2-3-3-1 2-2 2-2-3 0-2-2-2-2-3 2-2-3-1-3-3-1 3 0 3-1-3-2-2-2-1-3 2 3 0-3-3-1-1-5 2 2 0 3 3-1-1 3 3 0 3 1-3 2 2 3-1 3 3 4-1 3-3 1-2 2 2-2-1 3 3-2-2-2-3 0 2 1 2 3-1 3 3 0-2 2 3 1 3 0 1 3-3 2 2-3 3 2 3 1-3 1 2 3-2 4 1 3 0 3-1 2 0 3-3 2-2 1-1 3-2-2-1 3-3 1-3 1-5 3 1-3-1-3-2-1-1-3 2-2-2-2-1-2-2-3 0-3 1-3 3 1 3 2 2 1-2-3 1-3-2-2 0-3 3 0 2-2-1-3 0-3 1-3 1-2 2-2 0-3-2-2 2 1-2-2 0-3-3 1-1-3-2-2 2-2-3-2 0-4 1 3-2 3-1 2-3 1 2 3 1 3 0 2 1 3-3 0 1 3 0 3 1 3-2-2-1 3 1 3 0 3-3 1-1 3 2 3 0 2 1 3 3 0-2 2 0 3 2-1-2 1 2 2 2-1 3 1 1 3-3 0 1 3-3 1-2 4-3 1 2-3 0-3-2 2 1 3 3 1 2 1 2-3-1-2 3-5 2-2-2-2-2-3-1-2 3-2-2-2 1-3 3-1-2-3-1-3 3-1 0-3 3-2 2 1 1-3 3 1 0-3 0-3-1-3 1 3 3 0-2 2-1 3-1 2-3 2 1 3 2 1-2 2-3 2-1-3 1 3 3 0 3 2-2 2-2 2 2-2 3 0 3 5 2 1-1-2-3 0 2 2-3 2 3 2-1 2 3 0-2 3-3 1-1-3-3 0 3 1-2 2 2-2-3 2 0 3 1 3-3 1 1 3 3-1-2 2 2 2-1 3 3 0 5-1 3 1 1-3-3-1 3-1 1-3 1-3 3 1 3-1-3 0-1-2 1-3 1 2 2-1 0-3-1-3-3 0 3-1-3-1-3 0 3-1 0-3-2-1 2 1-2 3-1 2-3 2 3-1 3-1-1-3-2-2 2-2-3-1-2-2-3-1 2-2 1-3 1-3 3 0-3-1-2-2-3 0 2-3 0-4 1-3-3-1 0-3 0-3 1 3-3-2-2 2 1-3-3-3 0 3 3-1-2 3 1 3 0 3-3 0-2 1 2 2 2 1-3 0-3 0 3 1 3 1 0 3 1 3-2 2-3 0-2 2 0 3-1 3-3 2 0 3-2 2-2 3 0 3 3 1 2 2 2-2 3 1 3-1-3 1-1 3-2 2 3 2-2 2-2 2-1 3 1-3-1 3 6 1-1-3 3-2 0-3-3-1 3 1 1-3 3 0 0-3-3-1 2-3 0-3 2 2 1-2-3-2-3 1-3 0 2-2-1-3 0-3 0-3-1 3-3 0 3 1 2-2 3 0-2-2 2-2 0-3-3 1 3-1-3 0 1-3-1-2 0-3 0-3-3-2-2 2 0-3-4-3 3 1 0 3 3 0 1 2 2 3-1 3 3 1-3 0 2 2 0 3-3 0 0 3-3 0 2 2 0 3-3 2-2 2-3-1-2 2-3-1 2 2-2 2 2 1-2 2 2 5 3 0 5 2 2 1 3 2 3 1 6-1-1 3-3 0 1 2 0 3 1 3 0 3-2 3-1 2 2 3 0 3-1 2-2-2-1-3-3 1-2-1-1 3 1 3-3 1-2-2-1 3-1 3-2-1-3 1-2 2 2 3-1 3-3 0 0 3 1 3-2 2-2-2 1 2 0 3-3 0-3 2 1 2-2 3-2 2-3 2-2 1 0 3 0 3 1 3-2-2 2 2 2 2-3 2-3-1-3-1-2-1-3-1-1 3-2-1-3-1-1 2 1 3-3 1 3 0 1 3 0 4-3 1 3 1-2 2-2-2-2 2-3 1-3 0-3 2-1-3 2 1 3 2-1-3 2-2 0-3 1-2-2 0 0-3-1-3 0-3 4-2-3 0-3 2 3 0 3 2 0 3 3 1-3 1 2 3 3 0 2 1 0 3-2 4 0-3 0 3 1 3 2-1 4 2-2-2-2 2-2 3-1 2 2-2 1-3-3-1 0 3-1-3-5 4 3 0 1-3-1 3 3 2 3-2 3 1 3 0-3-1 1-3 0-4 1 3 0 3-1-3-3-1-1-3-2-1-1-3-3-2-3 1-2 2-3 0 3 2-1 3-3-1-4 3 0-3 0-2 2 2-2-3-1-2 2 2-2-2 3 0 3 0 3 1 2 2 3 0 1-2-3-1-3-1 3-2 1 3 2-2 2-2 2-2-3 0-1 2 2-2-1-3 1-2-3 0 1-3 3-1 1-2 3-1-1-3 1-3 3-1 3-1 1-3-3 1-2 2-1-2-2-1 1-3 2-2-1-3 0-3 3 0 2-2-1-3-1-3 1-3 0-3 0-2-1-3 1-3-3-1 1-2-3-2-3 0 2 3 1-3 3-1-2 3-2-3-2-2 1-3-2-2 2 2-2-2-1-3 2-2 0 3 3-1 3 0 2 3-2-3 0-2 2-2-2-3-1-2 0-3 0-3-2-1-3-2 0-3 1-3 0-3 2-2-2-3-2-2 2 2 3 1 2 2 0-3 3 0 2-4-2 2 3 1-3-1 0 3 3 1 2 2 2 3 4 0-3 2-3 2-3-1-1-3 0-3 1-2-2 2 2-2 1-3-3-1-3 0-2-3 0-3 0-3-2-2-2-2 1-3 1-3-3 0-3 0-2-2-2-2-1-5 1 3-1 3 1 3 2 1-2 2 3-1 3 1 2 1 5 3 3 0 3 0-2 2-2 3 3 2 3 1 2 1 3-1 6 0-2 2-1-3-3 1-1 3-2-2-2-2-3 2-1-3 3 1-3 0-1 2 0-3-3 0 1 3-1-3-3 0-3-1-2 2-3-1-4 0 0 3 3-1 3-1 2 2 0-3 3 1 3 1 3 1 2-2 3 2 2 2 5-1 3 0-1 3 2 2-2 3-3 1 3 1 2 3 2 1-1 3 2 2 2-2 3-1 2 2 0 3-2-2 0-3-2-2-2-2-1-3 3 0 0-3 3-1-2-3 3-2-2-2-3-1 2-3-3 2 1-3-3 1 0-3-3-2-5 1-3 1-3 0-3-2-4-3 3 1 3 0 2 2 3 0 1-3 0-3-1-3 3 0 0-3 3 0 3-2 3 1 2-1-2 1 2-2-2-3 1-5-3-1 2 3-2 2 3 1-3 1 2 2 2 2-1 3 1 3-2 2-1 3 3 2-3-1-2 2-2 2-3 1 3 0-2 2-3 1-3 2-1 2-3 2-2 2 1-2 0 3-2 1-3 0-5 0 3 0-1 3 0 3 2 1 3-1 3-1 1 3 1-3-3 3 3 2 3 0 1-3 2-2 2 2 2 3 2-1 2 2 2 2 1 3-2 2-2 3 1 3 1-3 3 1 3 0 2 1 3-1 4 2 3 2 2 4 0 3 4-1 0 4 0-4-2 3-2 4-3 2 1 4 2 3 3-3 4 1 3-2 1 4 4 1 1-4 4 1 2-3-2 3 4 1 3 1 2 4 2 3 2 3 3-2 1-4 1-3 2-4 4 0 3 2 3-2 2 4 3-1 0-4 3 2 3-3 3-1 4-2 3 3-2 3 4 0 4-1 2-2 4 0-1 4 2-3 1 3 2 4 3-2 3-2 3 2-1-3 4 0 1 3 3-3 3 2 3 1-3 1-3 2 4 1-3-2-2-4-3 1-3-2-4 1-3 0 0-4-1-3 3-3-1 3-4 1-2-4-3-2-2 3-3-2-4 1-4 1-3-1-4 1-2-2-4 2-3 1-3 3-3 3-3 1-4-2-2 3-4 1-2-3-4 0-3 1-4 0-1 4-4 1-3-1-2 3-4 2 2 4 4-1 0 4 3-3 1-4 1 4 4 1 4-2 3 1 4-1 4 1 2-4 3-2 3 1 2-3 4 1 0-3 4 1 3 2 2 3 3 2 3 2 4-1 3-2 4 0 0 4 1 4 3-1 2 3-1 3-4 1-4 1-3 0-4 1-4 0-2-3-2-4-4-1-3 0-2 3-2 4-4-1-2 3 1-4-4 0-3 1-2-3-3 1-4 1-1-4-4-1-3-2-2 2 0-3-4 0-4 1-1-4-1-4-4 1-3-2-2-3 1 4 0-4 3-2-1-3 3 2-1 4 4 1 3 1 4 1 3-1 1 3 4 2 1-4 4 1 4 1 3 3 1 3 3-2 3 3 1 3 4 0 2-3 3-2 4 2 2-3 3-3 2 4 2-3 0-4 3 3 3 1 4-1 4 1 4-1 3 2 4-1 3-2 4 3 0-4 4-1-1-4-2-3-3-3 3 3 1 3 0 4 2 3-1 4 0 4 3 2 0 4 1 4 3 2 0 4-1 3 2-2-3 0-2-4 3-3 2-2 1-4-1-3 1-4-3-1 1-4 1-4 2-3-4 0-1-3-2-3-2-4-2-2-4-2 3 3-4 1-2 3-4 0-2 3-1 4 1-4 3 3-1 4 0 3 3 0 4 2 3 0 3 2 2-3 4 1 4 2 0 4 2-4 3 2 3-1 4 2 3 0 3 1-3-2 0 4 0 3-3-2-4 1-2-3-3-2 1-4-3 4-3-3-3 2 1-4-3 1-3 3-3 2-4 1-2-3-2-3-3-3-2-3-3-2-3-3-4 0-3-1-4 2-1 3 3-2-2 4-4 0-3 2-2 3-3-2 0-4-3 2 0-3-2-4-5-2-3-1-4 0-4-2-3-2-2 3-3-3-4 1-3-2-2-3-4 2-4-1-3-1-5 3 4 2 3 2 2 3 2 3 4 0 3-2 4-1 3-1 4 1 2 3 3 2 4 2 2-4 2-2 4 0 4 0 2 3 2 3 3-3 2-3 2-3 4 1 2 3 4 2 3 2 4 0 2 3 4-1 2-2 0-3-1 3-4-1-2 3-4-1-2 3-3-3-3 1-4-1-1 4-4 0-3 1-4 0-4 1-1-4 0-3-3 0-2-3-4 2-1 4-3-1-4-1-1-3-3 0-4-2-2 2-2-3-3 3-2 2 4 0 0-4 0-3-1 3 3-1 4-1 6 0 3 0 2 3 4-1 3 1 4 1 2 4 3 2 4-2 0-3 0-6-3-3-3 0-1 3-4 2 0 4-2-3-4 2-2 3-3 3-4 0-5 0 3 1 4 1 2 3 1 4 0-4 3 3 2 3 2-4 4-1 4-1 3 1 3 2 3 2 0 3-1-3 4 0 2 3 3 3 1 4-3 1 4-1 1 4 1 4 0-4 4 0 4-2-4 1-1-4-2-3-3 2-3 2-3-3-2 2-2-3-4-2-3 1-2-4-3 1-4 1-1-4-3 2-4 0 3-3-4 1-4 0-2 3-1 3-4 0-1-4 0-3-3 2-5 2 3 1 3-3 3 2 1 4 2 3 4-1 4 0 3-1 3-3 2-3 4-1 3-1 0-4 4 2 3 2 3-3 3 2 3 3 2 3-2 3-2 4-1 3-2 3-4-2-1 4-1 4 1 3-1 4 3-2 4 0 3-2 0-4 2-3 3-2 3-2 4 0 3-2 4 1 2-3 3-3-2-3 3-3-2-3 2-3-3-3-1-4 3-1 3-3 0-4 1-3 4 0 1-4 3-3 2-4 3-1-1 3-1 4 0 4 3 3 2 3 2 3 1 3 0 4 0 4 0 4 0 3-2 3-4 1-3 1 2 3 2 3 4-1-3 2 3 1 4 5-1 3 3-3-4 2-2-3 0 4-3 3-4 0 0-4 0 4-4-2-4 2 2-4-4-2 0-4-3 0-4 1 0-4-2 3-4 0-2-3 0 4 0-4-2-3-3-2-5 4-2-3 3-2-2-4-1-3-4-1-2-3-4 1-1-4-1-4-2 3 0-4-4 2-3-1-4 2-3-3-4 0-4 0-3-2-2-3-3-1-4-2-4 0-3 0 0-4-2 3-1-4-6-1-1 4-1 3 2 4 2 2 2 4 1 3-3 3 1 4-3 3 3 2 4 0 3-2 3-3 3-2 3 1 2-3 3-3 3-1 2-3 4-1 2-3 2-2 1 3 4-1 3 0-1-4-2 4-2-3 3-2 3 3 4-1 2-3 3 2 4 1 4-1 2 3 3 3 2-3 4 0 0-4 4 0-1 3 4 0-2 4 4-2 3 1 3-3 3 3 0-4 3 0 2-4 3 1 0-3 2-4 0 4 3 1-1 3 3 1 6 0 0 4-3-3-2-3-2 3-2 3-2 4-3 1-6 1 3 5 3 6 6 0 4 5 4 5 2 6 4 0-4 5-2-2-4 4 0 7-4 4 1 1 1-6 7-2 4-5 3-5 2 0-2 5-4 1-4-5-4-5 3-6 0-2-2 6-6 3-6 3-6 3-3 5-4 6-6 0-6 3-2 6-3 5-7 2-6 1-4 5-5 4-7-1-6 1-5 4-6-3-6 3-4 4-2 0 5 3 5 4 7 0 6 2 5-4 1 2-6 3-6 0-6-2-6 0-6 3-4 5-7 0-6 2-5 4-6-1-7 1-6-1-4-5-5 4-6-4 0 1 0 6-6 2-4 5-2 3 6-2 6-2 7-1 6 0 5-3 6-3 6 3 6 2 6-2 5-3 6-2 6-2 6-2 7-1 6-1 6-1 7 0 6-1 6-3 6-2 6-2 6 2 7 0 6 2 6 2 6 1 6-1 1-2-7 0-6-2-6 1-6 0-6 1-7 1-6 1-5 3-6 3-6-1-6 3-6-2-5-3-6 0-7-2-6 1-5-2-5 4-7-1-6 3-6 0-6 0-6-3-6 0-7 0-6 1-4-5-6-2-6-2-4 4 6 1 6 2 6-1 6 3 6 2 6-2 6-3 6-3 5 4 7 0 4 5 6 1 5-3 6 3 6-2 2 6 5 0-5-4-6-1-7 1-6 2-6-2-6 1-6 1-7-2-6-1-2-6-1-1 0-3 0-2 1-3-3-1 0-3-1-3 1-3-3-1-3-1-2-2 3 0-1-3-2 1 1-3-3 2-3 0 2-2-1-3-3-1 3-2-3-1 0-3-3-1-1-2 4-4 1 3 0 6-1-3-2-2 0-3 3 1 0-3 0 3-1-2-3-1-3 0-3 0 1 2-2 4 1 3-3 2 2 2 3-2 1 2 0 3-1 3 2 2-3 0-3 3-2-3 3-2 3 1 2-2 1-3-3-4-2 4 2 2 3 4 2-2 3-2-1-2 3-1-3 0 2-2 2-2-1-3-5 0 3-1 0-3-2-2 0 3-1-3-2-2 1-2-3-2 3 0-1-2 2 2 1-3 1-3 2-2 2-1-3-1 1-3-1-3-2-2 1-2 0-3-3 0 2-2 3 1-3-1-3-2 1-3 1 3 3 1 0-3-1-3 2-2 1-2 3-2 2-2 3-1 0-3 3-2-1-3 0-3 3-1 0-3-1-3 2-2 2-2 3-2-2-2-2-2 3 0 3 0 3 0 1 3-3 0 3-2 0-3-3-1-1-3 0-3 0-3 1-3 1-3 2-1 3-1 0-3 0-3 1-3 0-3 3-1 0-3-3-1 2-3 3-1 0-3 2 2 1-3 0-2-1-3-1-3-2-3-2-1 2 1 3 2 2 1 1 3-1-2-2-3 3-1 1-3 3-1 2 3 1-3 0-3 0-3 3-1-2-2 3 1 2 3 2 1 3 0 0-3 0-2 1-3-2-1 1-3 3-1-2-2-2-3 4-4-2 1 2 3-3 0-2 2 1 3 1 3 0 3 2 3-3 1 3-1-1 2-3 1 0 3 0 3 0 3 0 3-3-1-2 3 1 2 2 3 0 3-2-2 1-3 3 1-2 2 3 0 3 1-2 2-3-2-3 0 3 1 3 1 3 1-1-3-1 3 1 3-2 2 0 3 1 3 1 2-3 2-3 0-2 2 3 2 2 3-3 1 3 0 1 3-1 3-3 0 1 3 0 3 3 2-1 3-3 1-3 1 3 1 3 2 3 0 2 2-3-1 3 2-1 3-3-1-3 1-2 2-3-1 3 1-2 1 2 3 0 3 2-3 2 1 3 2-3 0-3 0-2 2 0 3-2 2-3-1-1 3 2 2 1 3 3 0-2 3-3-1 3 2 3 1-3 0 2-1 1 2 3 0 1 3-3 2-2 2-4 1-3-1 0-3 1-2-1-3 0-3-1-3-3 1 3 1 1-2 1-3 2 2 2-3 3 0 0-3-2 2 1-2 3-1 3-1-3 0 3 1-3 0-2-3-3 0-2 1-3-2-2-2 0-3 3-1-3-2 3-2-3 0 3-1-3-1 3 0 3 0-2-3-2-2 0-5-1 3 0 3 2 2 2-2 2 2-2 2-3 1 1 3 1 3-1-3 2 3 5 0-2-2 0-3-3 0-2-3 2-2 3-1 2-1-2-1 2-1-2-2 1-2-1-3-1-3-3 1 0-3-3-1-1-3 1-2 5-2 3 0-2 2 3 1-3-1-2 2 3 1 2 2-2 1 2 2-3-1-2 3 0 3-1 2 2 2 0 3 3-1-3 1 1 3 2 2-2 3 3 2 0-3-1 2 2 3 1 2 2 3 0-3 3 1 3 0 3 0 1 3 2 2 3 2 1-3 1-3 3 0 2 2-2-3-2-2 3-2 2-1 3 0-2 2 3 1-2-2-2-3 3 0-1-3-2-2 2-2-3-2 3 0-3-1 1-3-2-2-1-3-1-2 3-1 0-3-3-2-3-1-2-2-1-2-1-3-1-3 3-1-2-3-2-1-1 3-3 1 1-3 2-1-1-3 0-5-3-1-3 1-3-1 0-5 3-2 0-3-2-2 2-3 2-2-2-2 0-3 1-3 2-3 1 3 0-3 2-3-1-2-3-1 0-3-2-3 3-2-3-4-1 0-2 2-2 1-2 3 1 3-3 0-3 0 2 3-3 0 3 0 1-2 0 3-2 2-2 2-1 3-3-1 3 2-2 2-3-2-3 1 0 2-1-2-3 1-1 3 1 3 1-3 3-1 1 3 0 3 2 2-1 3 2 2 3 2-3 1 0 3-1 3 0 3-1 3 0 3-2 2 3 1 2 3 0 2 3 0 0 3-1 2 2 3 1 2 1 3 2 4 1-3-3 1 2-2-1-3 1-2 0-4 3-1 0-3-3 2 1-3-2-1-3-2 1-2-1-3 1-3-2-1-1-3-2-2-2-2-3-2-2-2 1-3 2-1 3 1-2-3 0-3 1-2 3 1 0-3-2-2 2-2 1-3 1-2 2-3-2 2 2-2-2-1 2-5 0-3-1 3 2 2 0 3 1 3-3 0-2 2 2 3 2 1-1 3 3 1-1-3 3-2 2-1 3-2 1 3 0 3 2 3-2 2 2 3-2-2 2-1 1 3 3 0-1 3 2-3 2 3-2 2 1 3 2 2-3 1-3 1-1 2-2 3-2 2 0 3-2 2-1 3 2-2 3 0 1 3-2 2 3-1 0 3 3 0 3 1 3 1-1-3 1 3 2 2 1-3-3 1 2 2-2 2-2 2 0 3-3 0-3 1 3 0 1 3-3 1 2 2 3 2 1 2 3 2-3 1-2 5 0-3 0-3 2-2 2-3-3-2 0-3 1-2-3 0-3 0 1-3-3-2-3 0-2-2 3 0-2-2-2-3 0-3 1-4-3-1 2-2-2 0 1-3 1-3 0-3-3-1-1 3 1-3-2 2-4-3 3 1-2-2-3 1-2-2 0 3 2-2-2-2 1-3 2-3 3-1 2 1 3 0 3-2-2 2 3-1 1 3 0 3-3 1-1 3 3 1 1 3 1 3-1 2-2 3 2 3-3-2-1 3 0 3-2 2 2-1-3 0 0 3 2 3 2 2-1 2-3 1-2 3-1 3 3-2 0 3 3 0 3 1-3-2 3 0 3 0 0 3 0 3-1 3-1 5 1-2-3-2-1-3-1-2 0-3 2-3 0-3-1-2-3-2 1-4-3-1 2-3 3-1 3 1 0-3-3 2 3-1 3-1 2-2-2-3-1 3-3-1-1-3-2-1 3 0-2-3 2-2 0-3-3-2 1-3 1-3 1-2 3 1-2 1 2-1 1-3-3 0-3-2 0-3 0-3-2 2 0-3-3 0-2 2-2-3 1-5 3 1 1 3 0 3-3 1 2 3 1 3-3 1 1-3-2-2 2-2-1-3 0 3-2 2-1-3 0-3 3-1 2-3 2 3 3 1-2-2 1 2 3 1 3 0-3-1 1 3 1-3 1-3 4-2-2 1 1-2-3-1 0-3-2-2-1-3-1-4-2 2 3 1 3 0 3 0 2 2-2-2 3 2 0 3 0 3-2 2 1-3-3 1 1 3 0-3 2-2-1 2 1 3 0-3-3-1-3 0-3 0-2 4 0 3 2 3 0 3-3-2 3 0-2 2 0 6 2 2-2 3 3-1 3 0 0 3 1 3 3 2-3 0-3-1 2 2 2 2-3 0 1 3-2-3-1 3 0 3 1-2 0 3 0 2-1-2 3-1 2 2-3 1 0 3-2 3 3 1-3 1 1 3-2 2 2 2 1 3 2 2 1 3-3 0 0 3-2 3 2-3-2 3-3 1 3 2 3 0 3 1-2 3 0 3-3 1 0 3-2 3 1-3 1-3 1-2 0-3-1-3 3 1 3 0-1-3 1 2 3-1 0 3 3-1 3 1 1-2-3 0 3 0 3 1 0-3 2 0 2-6-3 1-2-2-3-2-3 1-1-3 1-3-3 0-3-1-1-3 3 2 2-2 1-3 1-3-3-2 1-3-3 0-2-2-3-1-2-2-1-3-2-2-3 1 2-3-3-5 5 2-3 1 3 1 2-1-1-2 2 2 1-3 1-3 3-1-1-3 0-3 3 0 2-2 3 0-3 2-2-3-3 0 2-2 1-3 2-2 2-2-1-4-1 2-3 2-3 0 3 1 0 3 1 2 0-3 0 3-3 1 3 0-1 2-2 3 2 2-2 2 0 3-1 3 1 2 0 3-2-2-3 1-2 3-3 0 0 3 1 2 0 3-2 3-1-3 3 1 2 2 3 1-1-2 3-1 2-3 0-3-1-3 2-2-2-2-2-3 0-2-1-3 1-3-5-2-1-3-2 2 2 1 1 3 0 3 0 3-4 3 1 3-1 3 2 5-2-2 3 1 2 1-1-2 1 3 0 3 0 3-1 2-1 3-1 3 3 0 2-2 3-1-3 1 3 1-1 2 2-2 2 1-3-1 0 3-1 3 5 2-1-3-1-3 2-2-2 2 0-3-1-2-2 2-3-1-1-3-4-2 3-1-3-2 3-1-1-2-3-1-2-4 3-1 2-2 1 3 3 1 0-3 0-3 0-3 2 2 4-1 1 3 2 2 2-1-1 3-3 1-1 3-2 2 1 3 0 3 1 3-3 0-3 0-3 1-3 0 1 2-1 6 0 3 3 0-1 3 1 3 3-1-3 1-2 2 2 2 2-3-3 1 3 1-1 2 3 0 1 2-2-2 3 0 0 3 2 2 0 3-3 4 3-3 1 4 3 2 4 2 2-3 4 0 3-3 3-3 3-2 4 1 4 0 2 3 4 0 4 1 3 2 3-3 4 0-1 3 3 3-1 3-2 3 3 0 4 2 3 3 4 0 3 3 4-1 2 4 2 2 4 0 3 2 2-2 3 2 3-2 3 3 3 2-1 4 2 3 5 3 1-4-2 3-3-3-3-2-2-3-4 0-3 0 1-4-4-5-3 3-3-1-4 2-3 1-3 3-3-1-3-3-2-3-4-2 0-3-2 3-3-2-3-2-4-2-3-1 1 3-4 1-2-2-4 1-3-2 3-2-4 2-4-1-1-3-4 2-3-2-4 0-2 3-4-2-2-3 1 4-4 0 1 3 1 4-3 0 0 4-2 4 1-4 1-4 3-1 0-4 4-2-1 4 4-1 1 4 1 4 0-4 3 2 4 0 2-2 3-3 4-1 4 0 4 0 3-2 3 2 1 4 4 0 2-3 4-2 3 3 3-1 4-2 3 1 3 3 3-3 2-3 3-2 3-2-1-4 2 3 1-3 2-3 4 2 4-2-4-1-3-2-4 1-3 2-3 2 0 3-1-3-1-4-2 4-3 2-3-2-2 3-3-1-4 2 3-1 4-1 1-4 2 3 4-1 3 2 4 1 2 3 2-4 4 0-2-4 0 4 3-2 4-2 4 3 0 4-3 2-3 2-4 0-3 1-4-1-3-3-3 1-4 0-3-2-1-3 0-4-2-3-4 0-3-3-3 2 0 4-1 3-4 1-4-1-3-1-4 1 1-4-4 0-3 0-4 1-4 1-4 1 3 2 3-3 3-2 3-2 4 1 3-3 6 0-4-2-2 3-4-1-2-4-2-3-2 4-2 3-1 4-3-1-4-2-3 0 3 2-3-2-3 3-3 0 3 2-2 4-3-2-3 3-2 5 3 0 1-4 4 0 4 1 3 3 1-3 4 1 2 3 1 3 4 2 1 4 3-2 4 0 3-2 3-2 2 2 3 3 2 3 0-4 3-1 3-2 2 3 2 3 1-3 4 1 2 3 3 3 3-2 3-2 1 4 4 1 3 3 3 1 4 1 0 4 4 2 3 1-2-3 3-3 2-2-4 1-1-3-2-4-4-1-2 3-4-2 2-3-4-1-1 3-3 3-4-1 2-3-3-1-4 1-2-3-4 1-2-2-4-2-3-2-3 3-1-4-1-3-4-2-3-2-1-3 1-4-2-3-4 2-4 2-2 3-1-3-3 0-3 3-3 2 2 3 1 4-4-2-3 3-1 3 1 4-4 0 0 3 0 4 0 4-1 4-3 2-3-2-3-2-3-2 4 1 4 0 3-1 1 4 3-2 3-2 0 3 3-2 4 1 2 3 4-2 3-2 2-3 3 0 3 3 4 0 3-2 3-2 4 1 3 1 3-3 4 0 4-1 3 0 4 1 4-1 2 3 2-3 1-4 3 3 0-4 0 4 3 0 1-3 3-3 6 2-4-1-4-1-3-2-3 2-2 4-3 0-4 1-1 3 0-3-2-3-4-1-4 1-3 1-1 3 1-3-3 2-2-3-4 1-3-2-2-3-4 0 2-4-5-2 4-2 3-2 1 4 3 2 4 1 3 2 2-3 4-1 3-2 1 4 3-1 3 2 2-2 3-3 2 3 3-2 4 0 1 3 4-1 3 2 4 2 1-3 4-1 3 0 1-4-1-4 0 4-3 1-2 3 1 4-3 2-3-3-4 1 0-4 2 4-4 0-3 3-3 1-3 2-3-2-2-3-3-3-3 1-4 0-3 2-3 3-2-3-4-2-2-3-4-1-2-3 0 4-4 0-4-1-2-4-2-3-3-1-4 2 2 4-4-2-2-3 2 3 2 3-6 3 4-1 3 3 2 3 3-3 3-2 2 4 0-4 4-1 3 1 4 2 3-2 4 0 3 0 1-4 2 3 3 2 4 0 2-3 3-3 3-2 1 4 4-2-1 4 0 3 0 4 4-1 3 2 4-4 0-3-2-3-3 2-3 2-4 1-1-4-2 3-3-1-4 2-3 2-4-1-2 3-1-3-3 2-4 1-2 3-4 0-4-1 3-2 4 1 3-2 2-3 4-3 2 4 2 3-2 4 3 2 0 4 4 1-1 4-4 0-3 1 1 4 5 2-3-3-4-1-4 0-2 3-4-1-4 0-2-4-4 0-3-2-3-1-4-1-1-3-3-3-3 2-3-2-2-3 0-3 3 2 3-2-3-2 4 0 3 0-1-3 3-3 3 2 3-2 4-1 3-2-2 2-4-1 0 4-3-1-4 1-5 3 4 1 2-2 1 3-3-2 4 1 3-1-1-3 3-2 3 2 3-3 3 2-1-4-2-3 4 0 1-4 3-1 2-3 1 4 4-2 2 2 3 2 1-3-2 3-4 0-4-1-3-2-3 2-3 1-3-2-4 0-3 2-3 1 2-3 4-1 3-1 3 3 2 2 2 3 4 0 2 4 0 3 3 2-2 3-3 3-1 3 3 2 0 4 0 3 4 1 2-4 0 4 2-3 3 1 4 0 4-1 3-2 4 0 3-2 3 2 3 3 3-3 1-3 3-2 4 1-3-2-3-2-2-4-2-3 2-3-4-2-2-3-3 2 0-3-4 1 2-3 3-3 1-4-4 2-3-1-1 3-3-2-3 3-2-3 3 2-3 3-3 1-2 4-1 3-2 3-2 4-3 1-5 0 1-4 1 4 3-2 3-3 4 1 2 3-1-3 3-1 1-4 0-4 3-2 2-4 3 3 5-1-3 3-4 1-3 1-3 2-2 3 1 4-2 2 2 3-4 1-2 3 5-4 7 2 6 0 6 2 6 1 7-1 6-1 2-6-1-6-4-5 1-5-2 6-1 7 3 6 3 5 1 6-1 7-2 6 3 6 3 6-6 3 1 7-2 6 2 1 3 6 0 6-4 5-4 5-5 4-4 5 4 5 2-1-1-6 4-5-2-6 1-6-3-5 3-4 0 7 1 6-5 4 0 1-2-3-1-4 2-3 1-4-4 0-3-1-4-2 1-4-2-2-4-2-3-1-1-4-3-3-3-2 2-3 4-1 0-4-2-3-3-3-4 0 0-4 2-3 4-1-4 0-4-1-2-3-4 1-3 0-1-4-4 1-1-4-3-1-3-3-3-2 1-4 2 4-4 0-1-3 1-4 1-4 0 4-2-4 1 4 0 4-3 3-3-1-3-2-4 0 1-4 2-3-3-2-3-2-3-2 2-3 1-4-3 1-2 3 1-3-2 2-4-2-3-3 4 1 3-3 1-3 3 2 2 3-2 3 4-1 4-1 3-1 1 6 3 3 4-1 3-2 2-3-1-4 2-3 2 4 3-1 3-3 3 3 4-1 3 1 3 2 3-2 2 3 3 3 0 4 3 2 3 2 4-1 2 3 4-2 3 1 4-2 0 4 1 4 3-3 4 2 3-1 0 4 3 1-4 1-4 1-2 3-4-2-1-4-3-2-2-3-2 3-3 2-3-2-3 2-2 3-3-2-4 1-2-3-3 2-4-2 1-4 1-4-3-2-2 2-2-3-1 4 3-3 0-4-3-2-4-2-3 0-4-1 1-4-2 4-2-4-4 2-1 4 3-3-4 1-3 2-4-1-3-2 0 4-1-4-3-2-4 1-4 0-3-3-1-3-4 1-4-4 3 3 4-1 0 4 4 2 0 4 4 2 3 1 4-1 0-4 4 2 3-1 3 2 4-1 3-2 2 3 0 4 4-2 3-1 4 2 1 3 2-3 2 3 3 3 3 2 3 2 1 3 0 4-4-1-3-2-1-4-3-3 3-2-3 0-4 1-4 0-4 0-3-2-4 0-4 0-3 0-4-2-3 2-3 3-3 0-4-2-3-1-4-1-4 0-1-4-6-1 0-4 3 1 2 3 3 0 1 4 3 2 4 1 1-4 3-1 4 1 4 1 1-4 1-3 2-3 1 3 3 4 3 2 3 2 4 0 3-2 3 1 4-1 4 0-1-4 4 0 4 2-1-4-3-3 4 0-1-4-1-4 3-2 4-1 3 1 1 6-3 3 1 3-3-1-3 2-4 2 2 3-2 4-3 2-3 4 2 3-3 3-4 0-4 0-1-4-3 3-4 0-2-3-4 0 3-2-3-2-3-1 1-6 3 2 2 3 2 4 3-2 4-2 1 4 4 3 4-1 3-2 3 2 2-4 2-3 2-3 5-2-1 4 1 3-3-2-3-2-3-3-4-1-4 1-3-1-3-3-3 2-3-2 2-4-3-2 0 3-3 2-5-2 3 2-1 4-4 0-2 3-3 2-3 2-4 0-2-3-3 2-2 3-4-1 0-4 4 1 4 1 3-2 4-1-2-4 2-2 4-2 1 4 4-1-1 4 2-3 1-4 3-2 3 3 3-2 0-4 4 2 0 4 3 2 2 3 4 0 3-2 3 2 4-2 3 2 3-2 3 3 5-2-4 0 0 3-3 2-3-3 3 2-3 3-3 2-2-3 0 4-3-1-4 0-2 5 1 3 3 2 3 2 3-4 2-3 3 1 2-4 4 1 3 2 3 2 2 3 3 2 4 0 0-4 4 0 1 4 4 0 4-1 1-4 3-1 3-2 4 0 0 3-4 2-2-3-3 1 0 4-4 0-2 4 0-4-3 2-3 2-1 4-3-2-3-3-4 0-4 0-2 3-3-3-3-2-3 3-4-2-2-3-4 0-4-1-3 2-3 0-4-1-3-2 3-3-4 0-4-2-1 4-3 2-1-4-3-2-4 1-2 3-4 0-4 0-3-3-2-3-3-3-3 1-1-4-3 0 0-4-2-3-4 1-3-1-3 1 1 4 2-4 2 3 1-3 4 2 3-2-1-4 4 0 1 3 4 1 3-3 3-1 4 1 2 4 3 1 3-3 3 2 4-1 1-3 4-1 3-2-3 3-3 1-4 1-3-3-1 4-3-1-3 3 3 3 3-1 4 0 1-3 5-2-4-2 3-3-1-4-3-1-3 2-4 2-3 2-3 1-1 4 0 5 3 0 4 0-1 4 4 0-1 3 2-3 3 1 2-4 4 0 2 3-3 3 4-1 1 4 4-1 3 2 0-4-2-4 4 1 2 3 3-2 4 2 1 3 1-3 3-2 3-2 4 1 4 1-4 0 4 0 3-1 4-2 3 0 4 1 3 3 4 0 3 0 3-3 5 1-4-2-3 0-4 0-4 0-3 1-3 3 1-4-4 0-2-3-4 1-3-2 1 3-3 0-4-1 0 3-3 2-3 3-3 2 0 4-2 3-3-1-2-3-4 0-3-2-3-1-2-3-3 1-4-2-3-1-4 2-2-3-3 3-4 1-2-4-2-3-4 0 3 2 4 0 3 3 3 2 4-1 3 1-3 3-2 5 4-1 2 2 2-3 4 0 3-3 2-3 4-1 3-2 4-2 1-3 1-4 2-3 1 4 4 2 3-1 2 3 2 3 2-4-2-3 3 1 2-4 1 4-1-4 2-3 3-1 4 2 2 2 4 1 4-1-2-4 3-2 4 0 5 2 1-4-4-2-3-2-3 2-3-3-3-2-4 0-2 4-4-1-4 0-3-2 1-4 2 4-4-1-3 1-2-3-3 0-3-3-4 1 0-4-1 3-1 4-3 2-4-2-3 1-4 0-1 4-4-1-3-2-1-4-3 2-4-1-5-3-1 3 2 3 1 4 0 4 1 3-2 4-3-1-3 2 1 5 2 4 2 2 4 0 3 2 0-4 5-3 3 2-1 4 3-2-3 2 2 2 1 4 2 3 4 1 3 1 3-3 0-4 4-2 0-4 0 4 4 0 0-4 4 1 2 3 4 0 4-1 3 2 2 3 3 2 1-4-1-4 4-1 4 1 3 2 2-3 2-2-2-1 0-3-2 2 2-2 2-2 1-3-2-1-2-3-2 3-3 1 0-3-3-1-2-2-3-1-2 2 1-3-3-2 3-1-3 0-3 2 1-3 1-3-2 2-3-1-2 1-3-1 0 3-3 0 0-3-2-2-3 1-3-1-3 0-1-3 2-3-3 1 3 0 1 3-3 1-2 2-1-3 1 3-3-1 3 0 3-1-2-3-3 1 2-3-3 1-3 1-2-2 2-1 0-3 1-3-1-3-2-3-2-1 2-1-3 0-2 2-3 0-2-2 1-3-1-2-2 2-2-3 3-2-3-2 1 3-3-1-2 2 0-3-3 1 1-2-2 2-2 2-2-2 3-2-2-2-2 2-3 1-1-3-3 1-3-1-2 2-3 1-1-3-3 0 3-1 1-3-2 2-3-2-1 3 2-3 1-3-3 2 3 0-2-1-1-3 3-2-3 0 1 2-1-3-2-2-3-1-2 2-1-3 2-2-3-1-3-1 0 3-2-3 2-2 2-2-1 3-2-2-3 1 0-3-3 0-2 2-3 0-1-3-3-1-1-3-1-3-2 2 2-2-3-1-2-2-3-1-2-2-5-3-1 3 1 3-2 2 2 2-2 0 2 2-1 3-1 3 1 3-1 3 3-1 0 3 1 3 2-2 0 3 0 3-3 1-2 1 0 3 2 1 3 2-2 5-2-3-1-2 0-3-2-2-3 2 0 3-3 0-3-1 0-3 2-2-1 3-1-3-2-3-1 3 0-3-3-1 0 3-4 3-1-4 1 3 2 2 2 2 2-1 2-2 3-1 1 3 3 1 2-2 3-2 2 2-2-2 2-3-2-3 2 3 2-3 3 0-1-3 3 0 3 2 2-2 3-1 3-1 3-1 0 3 3 0-2-2 3-1 2 2-2 2 2-2 1 3 3 0 1 2 1-3 1 3 3-1 5-3-3 0-3 0 2-2-3-2 3-2-3-1-1-3 1-3-3 2 0-3-3 0-2 2 3-1-3-1 0-3-2-3 2-2-3-1-2 2-2-3-3 1 2-3-1-3-2-2-1-3 2-2-2-2-5-1 1 3-3-1 0 3-3 1 0-3-2 1-1 3 3-1 0 3-3 0-3-2 1 3-3 2-2 2 1 3 1 3 1 5 1-3 2-1 3 0 2-3 1-2-1-3-1 3 2-2 3-1 2 2 3 0 2-1 3 0 5-1-2 0-3 0-2 3-1 3-2 1-3 2-1-3 2 2-1 3-3-1-1 3-3 0-2-1-3 2 2 2 1 3 0-3-2-1-3 2-2 3-2 1-5 0 1 3 3 1 3 2-3 1 2-2-2 2 3 0 3 1 2 3-5-1 3-1 2 3 3-1 1 2 1 3 2 2-1 3 1 3 0-3-2 1-3 2-3 1 3 0 3 1 0 3 1 3 0 5 0-3-3 0 2-2-3-2 3 0 0-3-2-2-3 2 2-3 1-3 0-3-1-2-3-2-2-1 0-3 2-3 1-2 3-1-2-2-2-2-2-2 0-3-2-2-2-3-3 0-3 1-3-1 0-3 0-3 0-3-1-4-2 2-2 2 2 3 1 3-3 1-3 0 3 1 1 3-3-2 2 3-1 3 2 2 0 3 0 3-3-1 3 0-2 1 2 2 3 2-3 0-1 3-2-1 2-3 2-2 0 3-3 1-1 2 1 3 3 1 0 3 2 1 3 1-3 1 3 1-2 2-1 2 3 2-1 3 0 3 2 4 2-2 3 1 3 0 0-3 2-1-2-2 3 0 0-3 6-1-3-1-3 0 2-1 0-3-3-1-3 0-3-1-2-3-3 1 0-3 2-2-2-1-3-2 0-3-3 0 0 3-5 0 2 6 4 5-1 6 2 6 0 7 0 6 2 6-4 6 2 6-2 6 0 6-2 7 0 6 2 6 2 6 1 6 0 7 2 6 1 6-2 6-5 5 5 4-4 6 1 6 3 6 1 6 3 6 1 1 7 0 6 1 5-4 6-2 7 0 6-1 6-3 6 1 5 3 6 0 6-3 5 4 6 2 5-4 6-2 6-2 6 0 7 1 6-1 6 2 1 1-5 4-1-1-7-2-6-1-6-1-6 3-7 0-6 1-6 0-6-1-7 0-6 0-7 0-6 0-6 1-6-1-7-2-5-2-2 6-4 4 1 6 0 3 5-3 6 1 7 0 6 1 6 3 3 0 6 0 5-3 6 1 7-1 5-3 7-1 3-5 6 0 6-2 6 1 2-6 7-2 5 3 7-2 3 0-6 1-6 0-7 0-6 0-6 2-6-1-1 2 6-2 7 0 6-3 5 3 4-5 4-5 7 1 6 1-2-7 7 0 6-2 6-2 6 0 6 1 6-2 6-3 6-1 1 0 0-6 0-6-5-3 0-1 0-7 0-5-4-4 3-6 0-6 2-6-3-6 2-5-2-6-1-7 1 0-1 6 0 6 2 6 2 7-1 6 3 5 0 7 2 6-3 5 0 7-3 5 1 7-5 3 1 7 2 5 4-6-3-5-3 2 0-7-3-5-4-5-5-2 4-4 0-7 4-5 1 0-5-4 3 5 0 7 4 5 3 6 0 3 0-7 0-6-3-6-4-5-1-6 1-6 3-6-5-4-1-1-4 5-2 6 1 6-3 6-4 5-5 5-3 5-2 6-5 4-6 3-1 6-6 4-6-1-6 3-6 1-3 6-6 3-6 2-1 7 0-1-5-4-5-4-6-1-6-3-6-1-4-5-6 0-6-1-2 0 6 4 6 1 6 1 0 1 7 0 6 0 6 1 5-5 6 2 6 1 6 2 6 2 6 1 7-1 6-2 6 0 7 2 6 1 5 3 6 4 6 2 6 2 4-3-7 1-6-3-6 1-6 3-6 2-6-1-6-3-6 0-6 1-6 2-2 0-7-1-6 1-6 1-7 1-6 2-6 0-5 4-5-3-6-2-6 2-6-2-7-1-6 0-6 0-5 0 6 1 6-2 7-1 6 2 5 3 7 0 6 1 6-2 6 0 6 3 5 3 6-3 6 2 5-4 6 2 7-1 6 1 4-6 6 3-5 3-6-3-6 3-6 1-6 2-6-2-1 2 7-1 3 5 6 2 6 1 7-1 5-2 6 2 2-2-5-3-7 1-5-3-7-1-6 2-5-3-6 3-4-4-7-1-5-4-6-3-6-1-5-4-7 1-6-1-6-3-5 3-6 2-6-1-7 1-6-1-3 0-2-2-2-1 1 3 3 1 3 0-2-3 1-2 3-3 2 1 3 2 2-3 3-1-2-3 3 2-1-3 1-3 2-2 2-2-2 1-2-3 1-2-1-3 3 0-1-3 1-3 0-3 3 1-1-3-2-2-3 0 3 0-1-2 3-1 1-3-3 0 1 3 1-3-2-3 3-2-1-3 1-2 2-3 2-2 1-3 1-3 3 1-3 1-1-3 0-3 2 2 3 1 3-1-3-2 3-1-3 1-1 2 2 2 2-2 3-1-2 2 1-3 3 0 2-2-1-2 3 0-1-3 0-3-3-2 3-2-2-3-1-2 1-3 1-3 3-2-3-1 2-2-1-3 0-3 3-1-3 2-1-3 2-3-2-2 2-2 3 0 1-2-1-3 2-2-3 1-3-1 2-2 3 0 0-3 2-2-1-3 2 1-1-3 1 3-3-1 0-3 3-1-2 2 3-1-2-3-1-3 0-3 0 3 1 3-1 3-2 2 2 2 1 3 3 1 2 1 1 3-2 3-3-1-2 3-1 3-1 3-2 1-2 3 2 2-3 0 2 3 1 3-1 3 2-3-3 2 3 2 2 5 0-3-2-2-2-2 2-3 0-3-2-2-3-1-2-2 3-2 2-2 3 0 0-3 2-1 2-3 2-2 0-3 2-3-2-2 1-3 1-2 0-3-1-3 3-1-3-1-1-3-2-2-1-4-3-2 3 1-2-3-2 2-5 0-2 3 2 1-2-1-1 3-1 3-1 3 0 3 3 1-1 3 3 1 2 2 3 0-3 1-3 0-3 1 2 2 3-1 2 2-2 6 0-3-2-2 1-3 3 1 1-3 2-2 3 1 3-1 0-3-1-2 0-3 1 3 2-3 3-4-2-2-3 2-2-2-2 2-4 3-2-2-1-3 3-2-1-2-2-3 1-3-2 2-1-3 3 1-2-3 2-2 1-2-2 2 0-3 1 3-3 0-2-2 0-5-1-3-1-3 2-3-1-2-1-3 2-3 3 0 3-1 1-5 3-1-1-3 3 0 5-2-2 2 0 3 1 3 0 3-3 0 3 2-3-1-1 3 0 3 2 2 3 1-2 2-2 2-3 1-2 3-3 2 0 3 2-2 2 3 2-1 3 0-1 3-2 2 2-3-1 3 4 4 3-1 3 4 2-3-2-2 0 2-3 1-5-1-3 1 0 3-2 3 3 0-1 3-3 2 1 2-3 5 3 2 1 2 3-1 3 0 4-2-1-3-2-2-3 1 3-2-3-2-2-2 1-3 2-2 0-3 1-3-3 0 0-3 0-4-2 2-3-1 3 1-3 1 0 3 3 1-3 1 0 3 2 1 0 3-3 2-3-1-2 1-1-3 1 3-3 1-3 1-2-1-2-4 2-2-3 1 2 3 3 0 3 1 3 0 2 2 3 0 3 2 3 1-1 3 2 2 1 3-2-2-2 2-3 1 0 3-3-1-3 0-2 3 0 4 3-1 4 2 2-2-3 0-2-2 0-2 3-3 0-2 1-3 3 0 2 2 0-3-1-3 2-2 0-3 2-3-1-5-2-2 1-3-2-3 1-3 3 0 1-3 1 2 1-2 0-3 1-3-2 1-2-3 2-2 2 3 0-3-3 1-2-2 0-3-4-4 2 3-1 3 3 0 0 3-1 3 3 2-2-3 0 3-2 2 2 2-3 2-2 2-3 0 0 3-2 2 2 3 2 2 3 1 0 3 1 3 3 1 1 2-3 0 3 1-3 0 2 3 1 3-2 2 3 1-2 3-1-3-2 2-3 0 3-1 1 3 2 2 2 3 1 3 0 3 2-3 1 3-1 3-2 2 2 2-3 1 3 1 0 3 1 3-3 2 2 3 2 2 2 3 0 3-1 3 1 3 1 2-3 1-3 1-1 3-3 0-3 0-1-3-2-1-2-3 1-3-3 0-3-1 3-1 2-2-3-2-2-2 2-2-2-1-3-2 2-2 2-2 3 0-2-2 0-3 3 0-3 1-3-1-1-2 2-2-2 2 0-3-1-3 3 0-3-2 1 3-2-3 0-2 0-3 2-2-3-1 3-1-3-1-2-3-2 2 3-1-3 0 2-2-2-3-2 1 2-2 0-3 2 1 0-3 2-1-1-3-2-5-2 3 0 3 2 1 3 0 3 2-1 2-3 1 3-2 3 0 3 0 0-3 3 1 3 1 3 4-3-1-2-1-3-1 0-3-2-1-3-2 3-1-1-3-1-5-2 3 1 2-2 3-1 3-2 1 1 6 1-3 2-3-1-4 2-2 3-2 1 3 2-3 1-2 3 0 1-3 3 0 0-3 3 0 2-2 2-3-3 0-2-2 1 3-2-2-2 3-2 1 0 3-2 2 1 3 3 2-3 1-2 2 0 3-2 2-3-2 2 3-3 0-3 1-2 4 0-3-1-3-3-1 0-3 0-3-1-3 2-1 2-3-1-3 1-2 2 2-1-3 1-3 1-3 1-3 1-2 3-1 2-3 3 1 3-1-3-2 2-2-1-3-2-2-1-3 2 2 1-3-2-2-2-2 2-2 5-3 0 3-2 2 0 3 3 1 2 2 0 3 3 1 3 0-3 2-3 0-3 0 3 0 0 3 3 0-1 3 2 2 3 1-3 1 2 2 3 0 2 2-2 3 2 2 1 3-1-3 1 3 0 3 3 0-2 2-3-1-3-1 0 3 2 2-2-2-1 3-2 2-2 3-1 3-1 2-2 2-3 1-3 1-2 2-3 1-3 1-2 1-3 2 3-1 1 3 0 3 1 3 4 3 2-2 3 0 2-2 3 0-2-2-3-1 3 0-2-2-2-2 3-1 2-2-3-1-2-1 1-3-1-3 1 3 3-1 1-2 0-3-1-5 0 3-1 2-5 3 3 1-2-3 3-2 2-2 0-4 1-2-3-1 1-3 0-3-1 3-3-2 1-3-1-2 0-5 2 2 1 3 3 0 1 2 3 1-1 3 3-1-3 2-2 1-3 1 0 3 2 3 2 2 2 2 1 3-2-2-3 0 0 3 2 2-2 1-1-3 3 1-3 0 3-1 2 3-1 3-3 1 0 3 2 3-3-1-2 2-1 3 2 2 2 3-3 1-2 2 0 5-3-1-2-1-1-3 2-2-1-3 1-3-2-2-1-2-2-3 3-1 1-3 2-1 1-3-2-2 0-3-2-2 2-1-3 0 0-3 1-3-2-3-3-1-3 1 3 1-1-3 3 0 0-3 1-3 3 1 1-3 2-2 3 0-2 2 3-1 0-3-2-3 0-3-3-1-2-2-5-2-1 3 3-2 2-2 4 4 1-2 0 3 3 0-3 2 3 0 3 1 1 3-1 3-1 3-2 2 1 2 2 2 1 3-3 2 2 3-1 2-3-1-1 3-1 3 2 2 2 3-1 3-1 3-1 3-3 2" fill="none" stroke="#3b9a42" stroke-width="1.0" stroke-linejoin="round"/>
<rect x="703.80" y="261.20" width="51.80" height="41.20" fill="#c5dcef" stroke="#55606c" stroke-width="1.2" />
<use href="#mcurl" transform="translate(731.50,285.00) rotate(0) scale(1.050,1.050)" style="color:#3b3a86"/>
<rect x="642.70" y="258.75" width="114.60" height="120.75" fill="none" stroke="#231f20" stroke-width="2.4" />
<text transform="translate(775.30,320.00) rotate(-90)" x="0" y="0" font-size="13.5" fill="#231f20" font-weight="bold" textLength="77.50" lengthAdjust="spacing">Subordinate</text>
<text x="541.00" y="401.30" font-size="14.2" fill="#231f20" text-anchor="start" font-weight="bold" textLength="146.70" lengthAdjust="spacing" >Psychosocial stress</text>
<line x1="691.90" y1="397.80" x2="698.10" y2="397.80" stroke="#d93c3c" stroke-width="2.6" />
<text x="-1.80" y="467.50" font-size="29" fill="#231f20" text-anchor="start" font-weight="bold" >c</text>
<rect x="92.50" y="450.50" width="17.00" height="9.00" fill="#4e4747" stroke="#231f20" stroke-width="1.6" />
<text x="119.50" y="459.30" font-size="12" fill="#231f20" text-anchor="start" font-weight="bold" textLength="91.50" lengthAdjust="spacing" >LV-CON-eGFP</text>
<rect x="230.50" y="449.70" width="17.10" height="9.70" fill="#56a06f" stroke="#231f20" stroke-width="1.6" />
<text x="255.40" y="459.20" font-size="12" fill="#3d6c48" text-anchor="start" font-weight="bold" textLength="114.60" lengthAdjust="spacing" >LV-shOX1R-eGFP</text>
<line x1="85.00" y1="515.00" x2="85.00" y2="716.20" stroke="#231f20" stroke-width="2.5" />
<line x1="83.80" y1="715.00" x2="381.30" y2="715.00" stroke="#231f20" stroke-width="2.5" />
<line x1="78.20" y1="714.90" x2="85.00" y2="714.90" stroke="#231f20" stroke-width="2.5" />
<text x="75.60" y="720.00" font-size="14.3" fill="#231f20" text-anchor="end" font-weight="bold" >0</text>
<line x1="78.20" y1="675.16" x2="85.00" y2="675.16" stroke="#231f20" stroke-width="2.5" />
<text x="75.60" y="680.26" font-size="14.3" fill="#231f20" text-anchor="end" font-weight="bold" >50</text>
<line x1="78.20" y1="635.42" x2="85.00" y2="635.42" stroke="#231f20" stroke-width="2.5" />
<text x="75.60" y="640.52" font-size="14.3" fill="#231f20" text-anchor="end" font-weight="bold" >100</text>
<line x1="78.20" y1="595.68" x2="85.00" y2="595.68" stroke="#231f20" stroke-width="2.5" />
<text x="75.60" y="600.78" font-size="14.3" fill="#231f20" text-anchor="end" font-weight="bold" >150</text>
<line x1="78.20" y1="555.94" x2="85.00" y2="555.94" stroke="#231f20" stroke-width="2.5" />
<text x="75.60" y="561.04" font-size="14.3" fill="#231f20" text-anchor="end" font-weight="bold" >200</text>
<line x1="78.20" y1="516.20" x2="85.00" y2="516.20" stroke="#231f20" stroke-width="2.5" />
<text x="75.60" y="521.30" font-size="14.3" fill="#231f20" text-anchor="end" font-weight="bold" >250</text>
<text transform="translate(37.30,719.00) rotate(-90)" x="0" y="0" font-size="14.2" fill="#231f20" font-weight="bold" textLength="207.00" lengthAdjust="spacing">Time in area close to cage (s)</text>
<line x1="129.12" y1="531.50" x2="129.12" y2="548.80" stroke="#231f20" stroke-width="2.5" />
<line x1="129.12" y1="611.40" x2="129.12" y2="614.30" stroke="#231f20" stroke-width="2.5" />
<line x1="121.00" y1="531.50" x2="136.75" y2="531.50" stroke="#231f20" stroke-width="2.5" />
<line x1="121.00" y1="614.30" x2="136.75" y2="614.30" stroke="#231f20" stroke-width="2.5" />
<rect x="114.25" y="548.80" width="29.75" height="62.60" fill="#4e4747" stroke="#231f20" stroke-width="2.5" />
<line x1="114.25" y1="600.10" x2="144.00" y2="600.10" stroke="#231f20" stroke-width="2.5" />
<line x1="174.12" y1="595.00" x2="174.12" y2="624.90" stroke="#231f20" stroke-width="2.5" />
<line x1="174.12" y1="672.80" x2="174.12" y2="693.00" stroke="#231f20" stroke-width="2.5" />
<line x1="166.50" y1="595.00" x2="182.20" y2="595.00" stroke="#231f20" stroke-width="2.5" />
<line x1="166.50" y1="693.00" x2="182.20" y2="693.00" stroke="#231f20" stroke-width="2.5" />
<rect x="159.25" y="624.90" width="29.75" height="47.90" fill="#56a06f" stroke="#231f20" stroke-width="2.5" />
<line x1="159.25" y1="658.60" x2="189.00" y2="658.60" stroke="#231f20" stroke-width="2.5" />
<line x1="292.80" y1="560.60" x2="292.80" y2="584.40" stroke="#231f20" stroke-width="2.5" />
<line x1="292.80" y1="638.00" x2="292.80" y2="668.60" stroke="#231f20" stroke-width="2.5" />
<line x1="285.00" y1="560.60" x2="301.00" y2="560.60" stroke="#231f20" stroke-width="2.5" />
<line x1="285.00" y1="668.60" x2="301.00" y2="668.60" stroke="#231f20" stroke-width="2.5" />
<rect x="278.00" y="584.40" width="29.60" height="53.60" fill="#4e4747" stroke="#231f20" stroke-width="2.5" />
<line x1="278.00" y1="615.00" x2="307.60" y2="615.00" stroke="#231f20" stroke-width="2.5" />
<line x1="338.50" y1="585.60" x2="338.50" y2="598.60" stroke="#231f20" stroke-width="2.5" />
<line x1="338.50" y1="631.40" x2="338.50" y2="668.00" stroke="#231f20" stroke-width="2.5" />
<line x1="330.50" y1="585.60" x2="346.50" y2="585.60" stroke="#231f20" stroke-width="2.5" />
<line x1="330.50" y1="668.00" x2="346.50" y2="668.00" stroke="#231f20" stroke-width="2.5" />
<rect x="323.60" y="598.60" width="29.80" height="32.80" fill="#56a06f" stroke="#231f20" stroke-width="2.5" />
<line x1="323.60" y1="607.00" x2="353.40" y2="607.00" stroke="#231f20" stroke-width="2.5" />
<line x1="128.90" y1="524.00" x2="174.30" y2="524.00" stroke="#231f20" stroke-width="2.5" />
<path d="M145.95,516.60L145.95,512.30M145.95,516.60L150.04,515.27M145.95,516.60L148.48,520.08M145.95,516.60L143.42,520.08M145.95,516.60L141.86,515.27" stroke="#231f20" stroke-width="2.3" stroke-linecap="butt" fill="none"/>
<path d="M156.55,516.60L156.55,512.30M156.55,516.60L160.64,515.27M156.55,516.60L159.08,520.08M156.55,516.60L154.02,520.08M156.55,516.60L152.46,515.27" stroke="#231f20" stroke-width="2.3" stroke-linecap="butt" fill="none"/>
<line x1="128.90" y1="504.50" x2="292.60" y2="504.50" stroke="#231f20" stroke-width="2.5" />
<text x="195.60" y="500.20" font-size="16" fill="#231f20" text-anchor="start" font-weight="bold" textLength="28.50" lengthAdjust="spacing" >n.s.</text>
<line x1="172.60" y1="481.60" x2="339.00" y2="481.60" stroke="#231f20" stroke-width="2.5" />
<path d="M250.70,475.10L250.70,470.80M250.70,475.10L254.79,473.77M250.70,475.10L253.23,478.58M250.70,475.10L248.17,478.58M250.70,475.10L246.61,473.77" stroke="#231f20" stroke-width="2.3" stroke-linecap="butt" fill="none"/>
<path d="M261.30,475.10L261.30,470.80M261.30,475.10L265.39,473.77M261.30,475.10L263.83,478.58M261.30,475.10L258.77,478.58M261.30,475.10L257.21,473.77" stroke="#231f20" stroke-width="2.3" stroke-linecap="butt" fill="none"/>
<line x1="293.50" y1="553.00" x2="338.50" y2="553.00" stroke="#231f20" stroke-width="2.5" />
<text x="300.60" y="549.30" font-size="16" fill="#231f20" text-anchor="start" font-weight="bold" textLength="29.40" lengthAdjust="spacing" >n.s.</text>
<text x="80.20" y="738.20" font-size="12" fill="#231f20" text-anchor="start" font-weight="bold" textLength="129.60" lengthAdjust="spacing" >Psychosocial stress</text>
<line x1="212.75" y1="734.25" x2="222.25" y2="734.25" stroke="#de3c3c" stroke-width="1.9" />
<line x1="217.50" y1="729.50" x2="217.50" y2="739.00" stroke="#de3c3c" stroke-width="1.9" />
<text x="87.60" y="755.70" font-size="12" fill="#231f20" text-anchor="start" font-weight="bold" textLength="127.10" lengthAdjust="spacing" >(Dominator in cage)</text>
<text x="246.00" y="738.20" font-size="12" fill="#231f20" text-anchor="start" font-weight="bold" textLength="129.60" lengthAdjust="spacing" >Psychosocial stress</text>
<line x1="378.80" y1="734.30" x2="385.00" y2="734.30" stroke="#d93c3c" stroke-width="2.6" />
<text x="246.60" y="755.70" font-size="12" fill="#231f20" text-anchor="start" font-weight="bold" textLength="138.10" lengthAdjust="spacing" >(Subordinate in cage)</text>
<text x="424.20" y="468.75" font-size="29.8" fill="#231f20" text-anchor="start" font-weight="bold" >d</text>
<rect x="503.75" y="450.50" width="17.50" height="9.50" fill="#4e4747" stroke="#231f20" stroke-width="1.6" />
<text x="530.50" y="459.30" font-size="12" fill="#231f20" text-anchor="start" font-weight="bold" textLength="92.10" lengthAdjust="spacing" >LV-CON-eGFP</text>
<rect x="641.00" y="449.80" width="18.20" height="9.60" fill="#56a06f" stroke="#231f20" stroke-width="1.6" />
<text x="666.60" y="459.20" font-size="12" fill="#3d6c48" text-anchor="start" font-weight="bold" textLength="114.70" lengthAdjust="spacing" >LV-shOX1R-eGFP</text>
<line x1="498.90" y1="515.00" x2="498.90" y2="716.20" stroke="#231f20" stroke-width="2.5" />
<line x1="497.70" y1="715.00" x2="792.60" y2="715.00" stroke="#231f20" stroke-width="2.5" />
<line x1="491.50" y1="714.90" x2="498.90" y2="714.90" stroke="#231f20" stroke-width="2.5" />
<text x="488.80" y="719.70" font-size="13.4" fill="#231f20" text-anchor="end" font-weight="bold" >0</text>
<line x1="491.50" y1="665.23" x2="498.90" y2="665.23" stroke="#231f20" stroke-width="2.5" />
<text x="488.80" y="670.02" font-size="13.4" fill="#231f20" text-anchor="end" font-weight="bold" >10</text>
<line x1="491.50" y1="615.55" x2="498.90" y2="615.55" stroke="#231f20" stroke-width="2.5" />
<text x="488.80" y="620.35" font-size="13.4" fill="#231f20" text-anchor="end" font-weight="bold" >20</text>
<line x1="491.50" y1="565.88" x2="498.90" y2="565.88" stroke="#231f20" stroke-width="2.5" />
<text x="488.80" y="570.67" font-size="13.4" fill="#231f20" text-anchor="end" font-weight="bold" >30</text>
<line x1="491.50" y1="516.20" x2="498.90" y2="516.20" stroke="#231f20" stroke-width="2.5" />
<text x="488.80" y="521.00" font-size="13.4" fill="#231f20" text-anchor="end" font-weight="bold" >40</text>
<text transform="translate(455.30,740.00) rotate(-90)" x="0" y="0" font-size="14.5" fill="#231f20" font-weight="bold" textLength="248.00" lengthAdjust="spacing">Number of times climbing the cage</text>
<line x1="542.35" y1="572.00" x2="542.35" y2="592.30" stroke="#231f20" stroke-width="2.5" />
<line x1="542.35" y1="635.50" x2="542.35" y2="635.50" stroke="#231f20" stroke-width="2.5" />
<line x1="535.40" y1="572.00" x2="550.00" y2="572.00" stroke="#231f20" stroke-width="2.5" />
<line x1="535.40" y1="635.50" x2="550.00" y2="635.50" stroke="#231f20" stroke-width="2.5" />
<rect x="527.50" y="592.30" width="29.70" height="43.20" fill="#4e4747" stroke="#231f20" stroke-width="2.5" />
<line x1="527.50" y1="625.30" x2="557.20" y2="625.30" stroke="#231f20" stroke-width="2.5" />
<line x1="587.60" y1="605.30" x2="587.60" y2="617.50" stroke="#231f20" stroke-width="2.5" />
<line x1="587.60" y1="655.30" x2="587.60" y2="670.30" stroke="#231f20" stroke-width="2.5" />
<line x1="577.50" y1="605.30" x2="597.70" y2="605.30" stroke="#231f20" stroke-width="2.5" />
<line x1="577.50" y1="670.30" x2="597.70" y2="670.30" stroke="#231f20" stroke-width="2.5" />
<rect x="573.00" y="617.50" width="29.20" height="37.80" fill="#56a06f" stroke="#231f20" stroke-width="2.5" />
<line x1="573.00" y1="645.10" x2="602.20" y2="645.10" stroke="#231f20" stroke-width="2.5" />
<line x1="708.10" y1="575.60" x2="708.10" y2="600.40" stroke="#231f20" stroke-width="2.5" />
<line x1="708.10" y1="632.60" x2="708.10" y2="645.00" stroke="#231f20" stroke-width="2.5" />
<line x1="700.40" y1="575.60" x2="716.00" y2="575.60" stroke="#231f20" stroke-width="2.5" />
<line x1="700.40" y1="645.00" x2="716.00" y2="645.00" stroke="#231f20" stroke-width="2.5" />
<rect x="693.60" y="600.40" width="29.00" height="32.20" fill="#4e4747" stroke="#231f20" stroke-width="2.5" />
<line x1="693.60" y1="625.60" x2="722.60" y2="625.60" stroke="#231f20" stroke-width="2.5" />
<line x1="753.50" y1="596.00" x2="753.50" y2="604.40" stroke="#231f20" stroke-width="2.5" />
<line x1="753.50" y1="646.60" x2="753.50" y2="655.00" stroke="#231f20" stroke-width="2.5" />
<line x1="746.00" y1="596.00" x2="761.00" y2="596.00" stroke="#231f20" stroke-width="2.5" />
<line x1="746.00" y1="655.00" x2="761.00" y2="655.00" stroke="#231f20" stroke-width="2.5" />
<rect x="739.00" y="604.40" width="29.00" height="42.20" fill="#56a06f" stroke="#231f20" stroke-width="2.5" />
<line x1="739.00" y1="627.60" x2="768.00" y2="627.60" stroke="#231f20" stroke-width="2.5" />
<line x1="542.10" y1="564.60" x2="587.80" y2="564.60" stroke="#231f20" stroke-width="2.5" />
<path d="M559.55,557.30L559.55,553.00M559.55,557.30L563.64,555.97M559.55,557.30L562.08,560.78M559.55,557.30L557.02,560.78M559.55,557.30L555.46,555.97" stroke="#231f20" stroke-width="2.3" stroke-linecap="butt" fill="none"/>
<path d="M570.15,557.30L570.15,553.00M570.15,557.30L574.24,555.97M570.15,557.30L572.68,560.78M570.15,557.30L567.62,560.78M570.15,557.30L566.06,555.97" stroke="#231f20" stroke-width="2.3" stroke-linecap="butt" fill="none"/>
<line x1="542.10" y1="542.75" x2="708.70" y2="542.75" stroke="#231f20" stroke-width="2.5" />
<text x="609.90" y="537.80" font-size="16" fill="#231f20" text-anchor="start" font-weight="bold" textLength="28.70" lengthAdjust="spacing" >n.s.</text>
<line x1="586.00" y1="517.40" x2="754.00" y2="517.40" stroke="#231f20" stroke-width="2.5" />
<path d="M664.80,511.00L664.80,506.70M664.80,511.00L668.89,509.67M664.80,511.00L667.33,514.48M664.80,511.00L662.27,514.48M664.80,511.00L660.71,509.67" stroke="#231f20" stroke-width="2.3" stroke-linecap="butt" fill="none"/>
<path d="M675.40,511.00L675.40,506.70M675.40,511.00L679.49,509.67M675.40,511.00L677.93,514.48M675.40,511.00L672.87,514.48M675.40,511.00L671.31,509.67" stroke="#231f20" stroke-width="2.3" stroke-linecap="butt" fill="none"/>
<line x1="708.00" y1="567.60" x2="753.40" y2="567.60" stroke="#231f20" stroke-width="2.5" />
<text x="715.60" y="564.00" font-size="16" fill="#231f20" text-anchor="start" font-weight="bold" textLength="29.00" lengthAdjust="spacing" >n.s.</text>
<text x="493.80" y="738.20" font-size="12" fill="#231f20" text-anchor="start" font-weight="bold" textLength="130.00" lengthAdjust="spacing" >Psychosocial stress</text>
<line x1="626.00" y1="734.25" x2="635.40" y2="734.25" stroke="#de3c3c" stroke-width="1.9" />
<line x1="630.70" y1="729.55" x2="630.70" y2="738.95" stroke="#de3c3c" stroke-width="1.9" />
<text x="501.40" y="755.70" font-size="12" fill="#231f20" text-anchor="start" font-weight="bold" textLength="126.90" lengthAdjust="spacing" >(Dominator in cage)</text>
<text x="660.20" y="738.20" font-size="12" fill="#231f20" text-anchor="start" font-weight="bold" textLength="130.20" lengthAdjust="spacing" >Psychosocial stress</text>
<line x1="792.00" y1="734.30" x2="798.50" y2="734.30" stroke="#d93c3c" stroke-width="2.6" />
<text x="661.40" y="755.70" font-size="12" fill="#231f20" text-anchor="start" font-weight="bold" textLength="138.60" lengthAdjust="spacing" >(Subordinate in cage)</text>
<text x="-1.60" y="821.80" font-size="27.2" fill="#231f20" text-anchor="start" font-weight="bold" >e</text>
<line x1="79.00" y1="810.40" x2="79.00" y2="1012.20" stroke="#231f20" stroke-width="2.5" />
<line x1="71.50" y1="1010.80" x2="79.00" y2="1010.80" stroke="#231f20" stroke-width="2.5" />
<text x="68.20" y="1015.60" font-size="13.4" fill="#231f20" text-anchor="end" font-weight="bold" >0</text>
<line x1="71.50" y1="944.40" x2="79.00" y2="944.40" stroke="#231f20" stroke-width="2.5" />
<text x="68.20" y="949.20" font-size="13.4" fill="#231f20" text-anchor="end" font-weight="bold" >50</text>
<line x1="71.50" y1="878.00" x2="79.00" y2="878.00" stroke="#231f20" stroke-width="2.5" />
<text x="68.20" y="882.80" font-size="13.4" fill="#231f20" text-anchor="end" font-weight="bold" >100</text>
<line x1="71.50" y1="811.60" x2="79.00" y2="811.60" stroke="#231f20" stroke-width="2.5" />
<text x="68.20" y="816.40" font-size="13.4" fill="#231f20" text-anchor="end" font-weight="bold" >150</text>
<text transform="translate(36.90,992.00) rotate(-90)" x="0" y="0" font-size="14.7" fill="#231f20" font-weight="bold" textLength="163.00" lengthAdjust="spacing">Corticosterone (ng/ml)</text>
<line x1="77.80" y1="1011.00" x2="335.50" y2="1011.00" stroke="#231f20" stroke-width="2.5" />
<line x1="345.30" y1="1011.00" x2="616.20" y2="1011.00" stroke="#231f20" stroke-width="2.5" />
<line x1="330.60" y1="1020.80" x2="341.10" y2="1003.90" stroke="#231f20" stroke-width="2.5" />
<line x1="338.50" y1="1020.80" x2="348.60" y2="1003.90" stroke="#231f20" stroke-width="2.5" />
<line x1="615.00" y1="810.80" x2="615.00" y2="1012.20" stroke="#231f20" stroke-width="2.5" />
<line x1="615.00" y1="1011.00" x2="621.60" y2="1011.00" stroke="#231f20" stroke-width="2.5" />
<text x="623.20" y="1015.80" font-size="13.4" fill="#231f20" text-anchor="start" font-weight="bold" >0</text>
<line x1="615.00" y1="961.25" x2="621.60" y2="961.25" stroke="#231f20" stroke-width="2.5" />
<text x="623.20" y="966.05" font-size="13.4" fill="#231f20" text-anchor="start" font-weight="bold" >2</text>
<line x1="615.00" y1="911.50" x2="621.60" y2="911.50" stroke="#231f20" stroke-width="2.5" />
<text x="623.20" y="916.30" font-size="13.4" fill="#231f20" text-anchor="start" font-weight="bold" >4</text>
<line x1="615.00" y1="861.75" x2="621.60" y2="861.75" stroke="#231f20" stroke-width="2.5" />
<text x="623.20" y="866.55" font-size="13.4" fill="#231f20" text-anchor="start" font-weight="bold" >6</text>
<line x1="615.00" y1="812.00" x2="621.60" y2="812.00" stroke="#231f20" stroke-width="2.5" />
<text x="623.20" y="816.80" font-size="13.4" fill="#231f20" text-anchor="start" font-weight="bold" >8</text>
<text transform="translate(651.00,988.75) rotate(-90)" x="0" y="0" font-size="14.9" fill="#231f20" font-weight="bold" textLength="156.00" lengthAdjust="spacing">Orexin (pg/mg tissue)</text>
<line x1="119.70" y1="957.30" x2="119.70" y2="986.30" stroke="#231f20" stroke-width="2.5" />
<line x1="119.70" y1="997.70" x2="119.70" y2="1004.00" stroke="#231f20" stroke-width="2.5" />
<line x1="112.30" y1="957.30" x2="127.60" y2="957.30" stroke="#231f20" stroke-width="2.5" />
<line x1="112.30" y1="1004.00" x2="127.60" y2="1004.00" stroke="#231f20" stroke-width="2.5" />
<rect x="104.40" y="986.30" width="30.60" height="11.40" fill="#4e4747" stroke="#231f20" stroke-width="2.5" />
<line x1="104.40" y1="990.90" x2="135.00" y2="990.90" stroke="#231f20" stroke-width="2.5" />
<line x1="162.40" y1="897.40" x2="162.40" y2="912.50" stroke="#231f20" stroke-width="2.5" />
<line x1="162.40" y1="989.20" x2="162.40" y2="995.30" stroke="#231f20" stroke-width="2.5" />
<line x1="154.75" y1="897.40" x2="170.00" y2="897.40" stroke="#231f20" stroke-width="2.5" />
<line x1="154.75" y1="995.30" x2="170.00" y2="995.30" stroke="#231f20" stroke-width="2.5" />
<rect x="148.00" y="912.50" width="28.80" height="76.70" fill="#d95b5c" stroke="#231f20" stroke-width="2.5" />
<line x1="148.00" y1="931.10" x2="176.80" y2="931.10" stroke="#231f20" stroke-width="2.5" />
<line x1="209.30" y1="954.30" x2="209.30" y2="955.90" stroke="#231f20" stroke-width="2.5" />
<line x1="209.30" y1="980.60" x2="209.30" y2="994.10" stroke="#231f20" stroke-width="2.5" />
<line x1="201.60" y1="954.30" x2="217.30" y2="954.30" stroke="#231f20" stroke-width="2.5" />
<line x1="201.60" y1="994.10" x2="217.30" y2="994.10" stroke="#231f20" stroke-width="2.5" />
<rect x="194.60" y="955.90" width="29.40" height="24.70" fill="#56a06f" stroke="#231f20" stroke-width="2.5" />
<line x1="194.60" y1="965.60" x2="224.00" y2="965.60" stroke="#231f20" stroke-width="2.5" />
<line x1="255.65" y1="961.50" x2="255.65" y2="977.70" stroke="#231f20" stroke-width="2.5" />
<line x1="255.65" y1="996.80" x2="255.65" y2="997.50" stroke="#231f20" stroke-width="2.5" />
<line x1="247.50" y1="961.50" x2="263.90" y2="961.50" stroke="#231f20" stroke-width="2.5" />
<line x1="247.50" y1="997.50" x2="263.90" y2="997.50" stroke="#231f20" stroke-width="2.5" />
<rect x="240.70" y="977.70" width="29.90" height="19.10" fill="#5a9dbd" stroke="#231f20" stroke-width="2.5" />
<line x1="240.70" y1="982.20" x2="270.60" y2="982.20" stroke="#231f20" stroke-width="2.5" />
<line x1="299.05" y1="918.50" x2="299.05" y2="933.30" stroke="#231f20" stroke-width="2.5" />
<line x1="299.05" y1="982.80" x2="299.05" y2="986.60" stroke="#231f20" stroke-width="2.5" />
<line x1="291.40" y1="918.50" x2="306.50" y2="918.50" stroke="#231f20" stroke-width="2.5" />
<line x1="291.40" y1="986.60" x2="306.50" y2="986.60" stroke="#231f20" stroke-width="2.5" />
<rect x="284.20" y="933.30" width="29.70" height="49.50" fill="#8b7dc1" stroke="#231f20" stroke-width="2.5" />
<line x1="284.20" y1="965.30" x2="313.90" y2="965.30" stroke="#231f20" stroke-width="2.5" />
<line x1="393.20" y1="965.80" x2="393.20" y2="969.20" stroke="#231f20" stroke-width="2.5" />
<line x1="393.20" y1="1004.80" x2="393.20" y2="1006.80" stroke="#231f20" stroke-width="2.5" />
<line x1="385.50" y1="965.80" x2="400.75" y2="965.80" stroke="#231f20" stroke-width="2.5" />
<line x1="385.50" y1="1006.80" x2="400.75" y2="1006.80" stroke="#231f20" stroke-width="2.5" />
<rect x="378.50" y="969.20" width="29.40" height="35.60" fill="#4e4747" stroke="#231f20" stroke-width="2.5" />
<line x1="378.50" y1="988.00" x2="407.90" y2="988.00" stroke="#231f20" stroke-width="2.5" />
<line x1="436.50" y1="899.60" x2="436.50" y2="901.00" stroke="#231f20" stroke-width="2.5" />
<line x1="436.50" y1="972.60" x2="436.50" y2="990.00" stroke="#231f20" stroke-width="2.5" />
<line x1="429.00" y1="899.60" x2="444.20" y2="899.60" stroke="#231f20" stroke-width="2.5" />
<line x1="429.00" y1="990.00" x2="444.20" y2="990.00" stroke="#231f20" stroke-width="2.5" />
<rect x="421.90" y="901.00" width="29.20" height="71.60" fill="#d95b5c" stroke="#231f20" stroke-width="2.5" />
<line x1="421.90" y1="913.90" x2="451.10" y2="913.90" stroke="#231f20" stroke-width="2.5" />
<line x1="481.80" y1="906.60" x2="481.80" y2="909.30" stroke="#231f20" stroke-width="2.5" />
<line x1="481.80" y1="973.75" x2="481.80" y2="984.40" stroke="#231f20" stroke-width="2.5" />
<line x1="473.90" y1="906.60" x2="489.70" y2="906.60" stroke="#231f20" stroke-width="2.5" />
<line x1="473.90" y1="984.40" x2="489.70" y2="984.40" stroke="#231f20" stroke-width="2.5" />
<rect x="467.00" y="909.30" width="29.60" height="64.45" fill="#56a06f" stroke="#231f20" stroke-width="2.5" />
<line x1="467.00" y1="928.70" x2="496.60" y2="928.70" stroke="#231f20" stroke-width="2.5" />
<line x1="525.50" y1="973.75" x2="525.50" y2="974.70" stroke="#231f20" stroke-width="2.5" />
<line x1="525.50" y1="1005.60" x2="525.50" y2="1006.50" stroke="#231f20" stroke-width="2.5" />
<line x1="517.80" y1="973.75" x2="533.75" y2="973.75" stroke="#231f20" stroke-width="2.5" />
<line x1="517.80" y1="1006.50" x2="533.75" y2="1006.50" stroke="#231f20" stroke-width="2.5" />
<rect x="510.70" y="974.70" width="29.60" height="30.90" fill="#5a9dbd" stroke="#231f20" stroke-width="2.5" />
<line x1="510.70" y1="982.75" x2="540.30" y2="982.75" stroke="#231f20" stroke-width="2.5" />
<line x1="568.40" y1="920.30" x2="568.40" y2="934.00" stroke="#231f20" stroke-width="2.5" />
<line x1="568.40" y1="998.10" x2="568.40" y2="999.60" stroke="#231f20" stroke-width="2.5" />
<line x1="561.00" y1="920.30" x2="576.00" y2="920.30" stroke="#231f20" stroke-width="2.5" />
<line x1="561.00" y1="999.60" x2="576.00" y2="999.60" stroke="#231f20" stroke-width="2.5" />
<rect x="553.80" y="934.00" width="29.20" height="64.10" fill="#8b7dc1" stroke="#231f20" stroke-width="2.5" />
<line x1="553.80" y1="946.60" x2="583.00" y2="946.60" stroke="#231f20" stroke-width="2.5" />
<line x1="119.20" y1="865.40" x2="208.80" y2="865.40" stroke="#231f20" stroke-width="2.5" />
<path d="M164.00,858.00L164.00,853.70M164.00,858.00L168.09,856.67M164.00,858.00L166.53,861.48M164.00,858.00L161.47,861.48M164.00,858.00L159.91,856.67" stroke="#231f20" stroke-width="2.3" stroke-linecap="butt" fill="none"/>
<line x1="119.20" y1="884.30" x2="162.60" y2="884.30" stroke="#231f20" stroke-width="2.5" />
<path d="M141.50,877.30L141.50,873.00M141.50,877.30L145.59,875.97M141.50,877.30L144.03,880.78M141.50,877.30L138.97,880.78M141.50,877.30L137.41,875.97" stroke="#231f20" stroke-width="2.3" stroke-linecap="butt" fill="none"/>
<line x1="254.90" y1="907.00" x2="298.80" y2="907.00" stroke="#231f20" stroke-width="2.5" />
<path d="M276.70,899.60L276.70,895.30M276.70,899.60L280.79,898.27M276.70,899.60L279.23,903.08M276.70,899.60L274.17,903.08M276.70,899.60L272.61,898.27" stroke="#231f20" stroke-width="2.3" stroke-linecap="butt" fill="none"/>
<line x1="392.30" y1="844.70" x2="482.40" y2="844.70" stroke="#231f20" stroke-width="2.5" />
<path d="M437.40,837.30L437.40,833.00M437.40,837.30L441.49,835.97M437.40,837.30L439.93,840.78M437.40,837.30L434.87,840.78M437.40,837.30L433.31,835.97" stroke="#231f20" stroke-width="2.3" stroke-linecap="butt" fill="none"/>
<line x1="392.30" y1="863.90" x2="437.00" y2="863.90" stroke="#231f20" stroke-width="2.5" />
<path d="M414.60,856.50L414.60,852.20M414.60,856.50L418.69,855.17M414.60,856.50L417.13,859.98M414.60,856.50L412.07,859.98M414.60,856.50L410.51,855.17" stroke="#231f20" stroke-width="2.3" stroke-linecap="butt" fill="none"/>
<line x1="524.40" y1="898.75" x2="567.90" y2="898.75" stroke="#231f20" stroke-width="2.5" />
<path d="M546.00,892.00L546.00,887.70M546.00,892.00L550.09,890.67M546.00,892.00L548.53,895.48M546.00,892.00L543.47,895.48M546.00,892.00L541.91,890.67" stroke="#231f20" stroke-width="2.3" stroke-linecap="butt" fill="none"/>
<rect x="675.50" y="806.25" width="18.25" height="10.00" fill="#4e4747" stroke="#231f20" stroke-width="2.2" rx="0.8"/>
<rect x="675.50" y="833.00" width="18.25" height="9.50" fill="#d95b5c" stroke="#231f20" stroke-width="2.2" rx="0.8"/>
<rect x="675.50" y="865.00" width="18.25" height="9.50" fill="#56a06f" stroke="#231f20" stroke-width="2.2" rx="0.8"/>
<rect x="675.50" y="900.50" width="18.25" height="9.00" fill="#5a9dbd" stroke="#231f20" stroke-width="2.2" rx="0.8"/>
<rect x="675.50" y="937.50" width="18.25" height="9.50" fill="#8b7dc1" stroke="#231f20" stroke-width="2.2" rx="0.8"/>
<text x="701.25" y="816.30" font-size="12" fill="#231f20" text-anchor="start" font-weight="bold" textLength="47.50" lengthAdjust="spacing" >Control</text>
<text x="701.25" y="842.00" font-size="12" fill="#d84848" text-anchor="start" font-weight="bold" textLength="80.00" lengthAdjust="spacing" >Forced swim</text>
<text x="701.25" y="865.50" font-size="12" fill="#3d6c48" text-anchor="start" font-weight="bold" textLength="99.00" lengthAdjust="spacing" >Food and water</text>
<text x="701.25" y="880.00" font-size="12" fill="#3d6c48" text-anchor="start" font-weight="bold" textLength="74.00" lengthAdjust="spacing" >deprivation</text>
<text x="701.25" y="902.50" font-size="12" fill="#5a6688" text-anchor="start" font-weight="bold" textLength="86.30" lengthAdjust="spacing" >Psychosocial</text>
<text x="701.25" y="916.30" font-size="12" fill="#5a6688" text-anchor="start" font-weight="bold" textLength="39.50" lengthAdjust="spacing" >stress</text>
<line x1="744.50" y1="913.00" x2="752.00" y2="913.00" stroke="#d93c3c" stroke-width="2.6" />
<text x="701.25" y="939.50" font-size="12" fill="#55569a" text-anchor="start" font-weight="bold" textLength="86.30" lengthAdjust="spacing" >Psychosocial</text>
<text x="701.25" y="953.00" font-size="12" fill="#55569a" text-anchor="start" font-weight="bold" textLength="39.50" lengthAdjust="spacing" >stress</text>
<line x1="745.00" y1="949.80" x2="753.50" y2="949.80" stroke="#de3c3c" stroke-width="1.9" />
<line x1="749.25" y1="945.55" x2="749.25" y2="954.05" stroke="#de3c3c" stroke-width="1.9" />
</svg></body></html>
